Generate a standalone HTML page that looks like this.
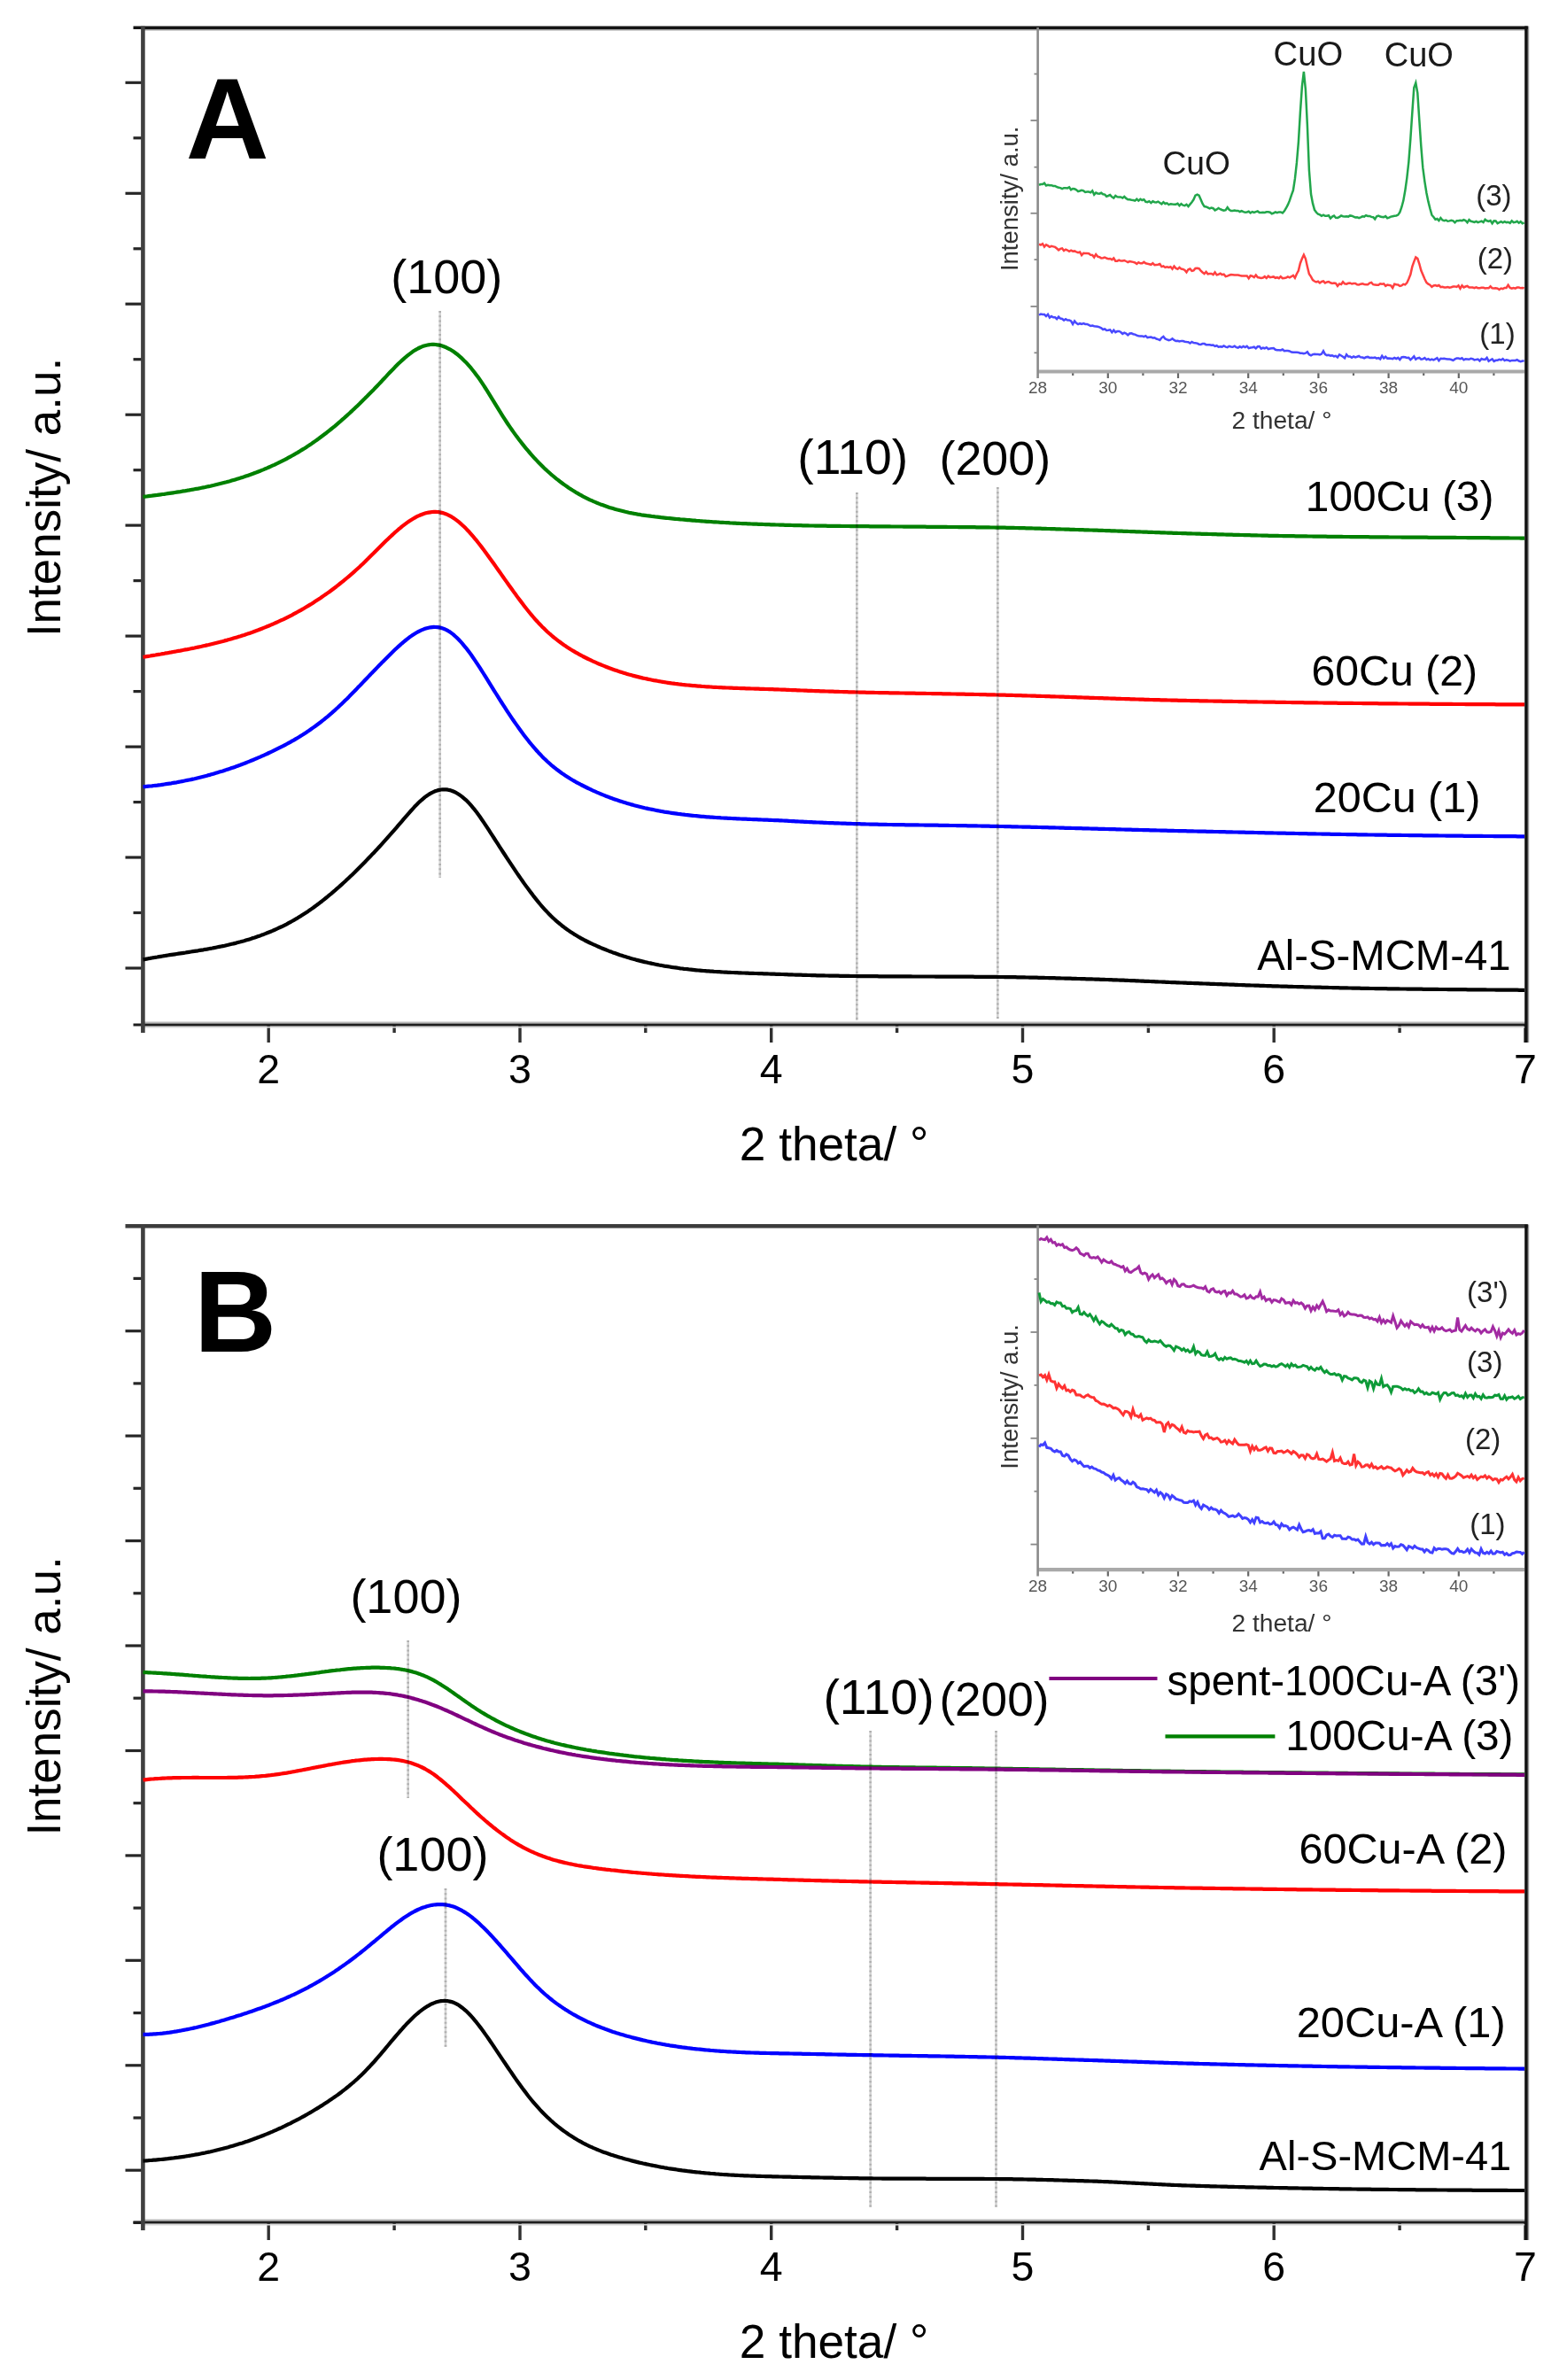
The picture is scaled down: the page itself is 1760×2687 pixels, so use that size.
<!DOCTYPE html>
<html><head><meta charset="utf-8"><title>XRD patterns</title>
<style>
html,body{margin:0;padding:0;background:#fff;width:1760px;height:2687px;overflow:hidden;}
svg{display:block;}
text{font-family:"Liberation Sans", Arial, sans-serif;}
</style></head><body>
<svg width="1760" height="2687" viewBox="0 0 1760 2687">
<defs><filter id="blr" x="-5%" y="-5%" width="110%" height="110%"><feGaussianBlur stdDeviation="0.45"/></filter></defs>
<rect width="1760" height="2687" fill="#fff"/>
<line x1="141.5" y1="93.3" x2="161.4" y2="93.3" stroke="#262626" stroke-width="3.20"/>
<line x1="141.5" y1="218.3" x2="161.4" y2="218.3" stroke="#262626" stroke-width="3.20"/>
<line x1="141.5" y1="343.2" x2="161.4" y2="343.2" stroke="#262626" stroke-width="3.20"/>
<line x1="141.5" y1="468.2" x2="161.4" y2="468.2" stroke="#262626" stroke-width="3.20"/>
<line x1="141.5" y1="593.1" x2="161.4" y2="593.1" stroke="#262626" stroke-width="3.20"/>
<line x1="141.5" y1="718.1" x2="161.4" y2="718.1" stroke="#262626" stroke-width="3.20"/>
<line x1="141.5" y1="843.1" x2="161.4" y2="843.1" stroke="#262626" stroke-width="3.20"/>
<line x1="141.5" y1="968.0" x2="161.4" y2="968.0" stroke="#262626" stroke-width="3.20"/>
<line x1="141.5" y1="1093.0" x2="161.4" y2="1093.0" stroke="#262626" stroke-width="3.20"/>
<line x1="150.5" y1="155.8" x2="161.4" y2="155.8" stroke="#262626" stroke-width="3.20"/>
<line x1="150.5" y1="280.8" x2="161.4" y2="280.8" stroke="#262626" stroke-width="3.20"/>
<line x1="150.5" y1="405.7" x2="161.4" y2="405.7" stroke="#262626" stroke-width="3.20"/>
<line x1="150.5" y1="530.7" x2="161.4" y2="530.7" stroke="#262626" stroke-width="3.20"/>
<line x1="150.5" y1="655.6" x2="161.4" y2="655.6" stroke="#262626" stroke-width="3.20"/>
<line x1="150.5" y1="780.6" x2="161.4" y2="780.6" stroke="#262626" stroke-width="3.20"/>
<line x1="150.5" y1="905.6" x2="161.4" y2="905.6" stroke="#262626" stroke-width="3.20"/>
<line x1="150.5" y1="1030.5" x2="161.4" y2="1030.5" stroke="#262626" stroke-width="3.20"/>
<line x1="303.2" y1="1157.0" x2="303.2" y2="1177.0" stroke="#303030" stroke-width="3.40"/>
<line x1="587.0" y1="1157.0" x2="587.0" y2="1177.0" stroke="#303030" stroke-width="3.40"/>
<line x1="870.7" y1="1157.0" x2="870.7" y2="1177.0" stroke="#303030" stroke-width="3.40"/>
<line x1="1154.5" y1="1157.0" x2="1154.5" y2="1177.0" stroke="#303030" stroke-width="3.40"/>
<line x1="1438.2" y1="1157.0" x2="1438.2" y2="1177.0" stroke="#303030" stroke-width="3.40"/>
<line x1="1722.0" y1="1157.0" x2="1722.0" y2="1177.0" stroke="#303030" stroke-width="3.40"/>
<line x1="161.3" y1="1157.0" x2="161.3" y2="1166.0" stroke="#303030" stroke-width="3.40"/>
<line x1="445.1" y1="1157.0" x2="445.1" y2="1166.0" stroke="#303030" stroke-width="3.40"/>
<line x1="728.8" y1="1157.0" x2="728.8" y2="1166.0" stroke="#303030" stroke-width="3.40"/>
<line x1="1012.6" y1="1157.0" x2="1012.6" y2="1166.0" stroke="#303030" stroke-width="3.40"/>
<line x1="1296.4" y1="1157.0" x2="1296.4" y2="1166.0" stroke="#303030" stroke-width="3.40"/>
<line x1="1580.1" y1="1157.0" x2="1580.1" y2="1166.0" stroke="#303030" stroke-width="3.40"/>
<line x1="161.4" y1="33.7" x2="1723.0" y2="33.7" stroke="#a0a0a0" stroke-width="1.60"/>
<line x1="150.5" y1="31.3" x2="1724.8" y2="31.3" stroke="#141414" stroke-width="3.50"/>
<line x1="161.4" y1="1154.4" x2="1723.0" y2="1154.4" stroke="#b8b8b8" stroke-width="1.60"/>
<line x1="161.4" y1="1159.7" x2="1723.0" y2="1159.7" stroke="#d8d8d8" stroke-width="1.80"/>
<line x1="150.5" y1="1157.0" x2="1723.0" y2="1157.0" stroke="#1e1e1e" stroke-width="3.20"/>
<line x1="1723.0" y1="29.6" x2="1723.0" y2="1177.0" stroke="#111" stroke-width="3.60"/>
<line x1="1725.6" y1="29.6" x2="1725.6" y2="1177.0" stroke="#9a9a9a" stroke-width="1.20"/>
<line x1="161.4" y1="29.6" x2="161.4" y2="1166.0" stroke="#404040" stroke-width="4.60"/>
<text x="303.2" y="1223.3" font-size="46.5" text-anchor="middle" font-weight="normal" fill="#000">2</text>
<text x="587.0" y="1223.3" font-size="46.5" text-anchor="middle" font-weight="normal" fill="#000">3</text>
<text x="870.7" y="1223.3" font-size="46.5" text-anchor="middle" font-weight="normal" fill="#000">4</text>
<text x="1154.5" y="1223.3" font-size="46.5" text-anchor="middle" font-weight="normal" fill="#000">5</text>
<text x="1438.2" y="1223.3" font-size="46.5" text-anchor="middle" font-weight="normal" fill="#000">6</text>
<text x="1722.0" y="1223.3" font-size="46.5" text-anchor="middle" font-weight="normal" fill="#000">7</text>
<polyline fill="none" stroke="#000" stroke-width="4.20" stroke-linejoin="round" stroke-linecap="butt" points="161.5,1083.4 163.5,1083.0 165.5,1082.6 167.5,1082.2 169.5,1081.9 171.5,1081.5 173.5,1081.2 175.5,1080.8 177.5,1080.5 179.5,1080.1 181.5,1079.8 183.5,1079.5 185.5,1079.2 187.5,1078.8 189.5,1078.5 191.5,1078.2 193.5,1077.9 195.5,1077.6 197.5,1077.3 199.5,1077.0 201.5,1076.7 203.5,1076.4 205.5,1076.1 207.5,1075.8 209.5,1075.5 211.5,1075.1 213.6,1074.8 215.6,1074.5 217.6,1074.2 219.6,1073.9 221.6,1073.6 223.6,1073.3 225.6,1072.9 227.6,1072.6 229.6,1072.3 231.6,1071.9 233.6,1071.6 235.6,1071.2 237.6,1070.8 239.6,1070.5 241.6,1070.1 243.6,1069.7 245.6,1069.3 247.6,1068.9 249.6,1068.5 251.6,1068.1 253.6,1067.7 255.6,1067.2 257.6,1066.8 259.6,1066.3 261.6,1065.8 263.6,1065.4 265.6,1064.9 267.6,1064.3 269.6,1063.8 271.6,1063.3 273.6,1062.7 275.6,1062.2 277.6,1061.6 279.6,1061.0 281.6,1060.4 283.6,1059.8 285.6,1059.1 287.6,1058.5 289.6,1057.8 291.6,1057.1 293.6,1056.4 295.6,1055.6 297.6,1054.9 299.6,1054.1 301.6,1053.3 303.6,1052.5 305.6,1051.7 307.6,1050.9 309.6,1050.0 311.6,1049.1 313.6,1048.2 315.6,1047.2 317.7,1046.3 319.7,1045.3 321.7,1044.3 323.7,1043.3 325.7,1042.2 327.7,1041.1 329.7,1040.0 331.7,1038.9 333.7,1037.7 335.7,1036.6 337.7,1035.3 339.7,1034.1 341.7,1032.8 343.7,1031.5 345.7,1030.2 347.7,1028.9 349.7,1027.5 351.7,1026.1 353.7,1024.7 355.7,1023.2 357.7,1021.8 359.7,1020.3 361.7,1018.7 363.7,1017.2 365.7,1015.6 367.7,1014.0 369.7,1012.4 371.7,1010.7 373.7,1009.1 375.7,1007.4 377.7,1005.7 379.7,1003.9 381.7,1002.2 383.7,1000.4 385.7,998.6 387.7,996.8 389.7,995.0 391.7,993.1 393.7,991.2 395.7,989.3 397.7,987.4 399.7,985.5 401.7,983.5 403.7,981.5 405.7,979.5 407.7,977.5 409.7,975.5 411.7,973.5 413.7,971.4 415.7,969.3 417.7,967.2 419.7,965.1 421.8,963.0 423.8,960.8 425.8,958.7 427.8,956.5 429.8,954.3 431.8,952.1 433.8,949.9 435.8,947.7 437.8,945.4 439.8,943.2 441.8,940.9 443.8,938.6 445.8,936.4 447.8,934.1 449.8,931.7 451.8,929.4 453.8,927.1 455.8,924.7 457.8,922.4 459.8,920.1 461.8,917.8 463.8,915.5 465.8,913.3 467.8,911.1 469.8,909.1 471.8,907.0 473.8,905.1 475.8,903.3 477.8,901.6 479.8,899.9 481.8,898.5 483.8,897.1 485.8,895.9 487.8,894.8 489.8,893.9 491.8,893.0 493.8,892.4 495.8,891.9 497.8,891.5 499.8,891.3 501.8,891.3 503.8,891.4 505.8,891.7 507.8,892.1 509.8,892.7 511.8,893.5 513.8,894.4 515.8,895.5 517.8,896.7 519.8,898.1 521.8,899.6 523.8,901.3 525.9,903.1 527.9,905.0 529.9,907.1 531.9,909.4 533.9,911.8 535.9,914.2 537.9,916.8 539.9,919.5 541.9,922.3 543.9,925.2 545.9,928.1 547.9,931.1 549.9,934.1 551.9,937.2 553.9,940.3 555.9,943.4 557.9,946.5 559.9,949.6 561.9,952.7 563.9,955.8 565.9,958.9 567.9,962.0 569.9,965.0 571.9,968.1 573.9,971.2 575.9,974.2 577.9,977.2 579.9,980.2 581.9,983.2 583.9,986.1 585.9,989.0 587.9,991.9 589.9,994.8 591.9,997.6 593.9,1000.4 595.9,1003.1 597.9,1005.8 599.9,1008.4 601.9,1011.1 603.9,1013.6 605.9,1016.1 607.9,1018.6 609.9,1021.0 611.9,1023.3 613.9,1025.6 615.9,1027.8 617.9,1029.9 619.9,1032.0 621.9,1034.0 623.9,1035.9 625.9,1037.8 627.9,1039.6 630.0,1041.4 632.0,1043.0 634.0,1044.7 636.0,1046.2 638.0,1047.8 640.0,1049.2 642.0,1050.6 644.0,1052.0 646.0,1053.3 648.0,1054.6 650.0,1055.8 652.0,1057.0 654.0,1058.2 656.0,1059.3 658.0,1060.4 660.0,1061.5 662.0,1062.5 664.0,1063.5 666.0,1064.5 668.0,1065.4 670.0,1066.3 672.0,1067.2 674.0,1068.1 676.0,1069.0 678.0,1069.9 680.0,1070.7 682.0,1071.5 684.0,1072.3 686.0,1073.1 688.0,1073.9 690.0,1074.6 692.0,1075.4 694.0,1076.1 696.0,1076.8 698.0,1077.5 700.0,1078.2 702.0,1078.8 704.0,1079.5 706.0,1080.1 708.0,1080.7 710.0,1081.3 712.0,1081.9 714.0,1082.5 716.0,1083.0 718.0,1083.6 720.0,1084.1 722.0,1084.6 724.0,1085.1 726.0,1085.6 728.0,1086.1 730.0,1086.5 732.0,1087.0 734.1,1087.4 736.1,1087.9 738.1,1088.3 740.1,1088.7 742.1,1089.1 744.1,1089.5 746.1,1089.8 748.1,1090.2 750.1,1090.6 752.1,1090.9 754.1,1091.2 756.1,1091.5 758.1,1091.9 760.1,1092.2 762.1,1092.4 764.1,1092.7 766.1,1093.0 768.1,1093.3 770.1,1093.5 772.1,1093.8 774.1,1094.0 776.1,1094.2 778.1,1094.5 780.1,1094.7 782.1,1094.9 784.1,1095.1 786.1,1095.3 788.1,1095.5 790.1,1095.6 792.1,1095.8 794.1,1096.0 796.1,1096.1 798.1,1096.3 800.1,1096.4 802.1,1096.6 804.1,1096.7 806.1,1096.9 808.1,1097.0 810.1,1097.1 812.1,1097.2 814.1,1097.3 816.1,1097.5 818.1,1097.6 820.1,1097.7 822.1,1097.8 824.1,1097.9 826.1,1098.0 828.1,1098.0 830.1,1098.1 832.1,1098.2 834.1,1098.3 836.1,1098.4 838.2,1098.5 840.2,1098.5 842.2,1098.6 844.2,1098.7 846.2,1098.8 848.2,1098.8 850.2,1098.9 852.2,1099.0 854.2,1099.0 856.2,1099.1 858.2,1099.2 860.2,1099.2 862.2,1099.3 864.2,1099.4 866.2,1099.4 868.2,1099.5 870.2,1099.6 872.2,1099.6 874.2,1099.7 876.2,1099.8 878.2,1099.8 880.2,1099.9 882.2,1100.0 884.2,1100.0 886.2,1100.1 888.2,1100.2 890.2,1100.3 892.2,1100.3 894.2,1100.4 896.2,1100.5 898.2,1100.6 900.2,1100.6 902.2,1100.7 904.2,1100.7 906.2,1100.8 908.2,1100.9 910.2,1100.9 912.2,1101.0 914.2,1101.0 916.2,1101.1 918.2,1101.1 920.2,1101.2 922.2,1101.3 924.2,1101.3 926.2,1101.3 928.2,1101.4 930.2,1101.4 932.2,1101.5 934.2,1101.5 936.2,1101.6 938.2,1101.6 940.2,1101.6 942.3,1101.7 944.3,1101.7 946.3,1101.7 948.3,1101.8 950.3,1101.8 952.3,1101.8 954.3,1101.9 956.3,1101.9 958.3,1101.9 960.3,1102.0 962.3,1102.0 964.3,1102.0 966.3,1102.0 968.3,1102.1 970.3,1102.1 972.3,1102.1 974.3,1102.1 976.3,1102.1 978.3,1102.2 980.3,1102.2 982.3,1102.2 984.3,1102.2 986.3,1102.2 988.3,1102.2 990.3,1102.2 992.3,1102.3 994.3,1102.3 996.3,1102.3 998.3,1102.3 1000.3,1102.3 1002.3,1102.3 1004.3,1102.3 1006.3,1102.3 1008.3,1102.3 1010.3,1102.4 1012.3,1102.4 1014.3,1102.4 1016.3,1102.4 1018.3,1102.4 1020.3,1102.4 1022.3,1102.4 1024.3,1102.4 1026.3,1102.4 1028.3,1102.4 1030.3,1102.5 1032.3,1102.5 1034.3,1102.5 1036.3,1102.5 1038.3,1102.5 1040.3,1102.5 1042.3,1102.5 1044.3,1102.5 1046.4,1102.5 1048.4,1102.5 1050.4,1102.5 1052.4,1102.5 1054.4,1102.5 1056.4,1102.6 1058.4,1102.6 1060.4,1102.6 1062.4,1102.6 1064.4,1102.6 1066.4,1102.6 1068.4,1102.6 1070.4,1102.6 1072.4,1102.6 1074.4,1102.6 1076.4,1102.6 1078.4,1102.6 1080.4,1102.7 1082.4,1102.7 1084.4,1102.7 1086.4,1102.7 1088.4,1102.7 1090.4,1102.7 1092.4,1102.7 1094.4,1102.7 1096.4,1102.7 1098.4,1102.7 1100.4,1102.8 1102.4,1102.8 1104.4,1102.8 1106.4,1102.8 1108.4,1102.8 1110.4,1102.8 1112.4,1102.8 1114.4,1102.9 1116.4,1102.9 1118.4,1102.9 1120.4,1102.9 1122.4,1102.9 1124.4,1102.9 1126.4,1103.0 1128.4,1103.0 1130.4,1103.0 1132.4,1103.0 1134.4,1103.1 1136.4,1103.1 1138.4,1103.1 1140.4,1103.1 1142.4,1103.2 1144.4,1103.2 1146.4,1103.2 1148.4,1103.3 1150.5,1103.3 1152.5,1103.3 1154.5,1103.4 1156.5,1103.4 1158.5,1103.5 1160.5,1103.5 1162.5,1103.6 1164.5,1103.6 1166.5,1103.6 1168.5,1103.7 1170.5,1103.7 1172.5,1103.8 1174.5,1103.8 1176.5,1103.9 1178.5,1103.9 1180.5,1104.0 1182.5,1104.0 1184.5,1104.1 1186.5,1104.1 1188.5,1104.2 1190.5,1104.2 1192.5,1104.3 1194.5,1104.4 1196.5,1104.4 1198.5,1104.5 1200.5,1104.5 1202.5,1104.6 1204.5,1104.6 1206.5,1104.7 1208.5,1104.7 1210.5,1104.8 1212.5,1104.9 1214.5,1104.9 1216.5,1105.0 1218.5,1105.0 1220.5,1105.1 1222.5,1105.2 1224.5,1105.2 1226.5,1105.3 1228.5,1105.3 1230.5,1105.4 1232.5,1105.4 1234.5,1105.5 1236.5,1105.6 1238.5,1105.6 1240.5,1105.7 1242.5,1105.8 1244.5,1105.8 1246.5,1105.9 1248.5,1106.0 1250.5,1106.0 1252.5,1106.1 1254.6,1106.2 1256.6,1106.3 1258.6,1106.3 1260.6,1106.4 1262.6,1106.5 1264.6,1106.6 1266.6,1106.7 1268.6,1106.7 1270.6,1106.8 1272.6,1106.9 1274.6,1107.0 1276.6,1107.1 1278.6,1107.2 1280.6,1107.2 1282.6,1107.3 1284.6,1107.4 1286.6,1107.5 1288.6,1107.6 1290.6,1107.7 1292.6,1107.8 1294.6,1107.8 1296.6,1107.9 1298.6,1108.0 1300.6,1108.1 1302.6,1108.2 1304.6,1108.3 1306.6,1108.4 1308.6,1108.5 1310.6,1108.5 1312.6,1108.6 1314.6,1108.7 1316.6,1108.8 1318.6,1108.9 1320.6,1109.0 1322.6,1109.1 1324.6,1109.1 1326.6,1109.2 1328.6,1109.3 1330.6,1109.4 1332.6,1109.5 1334.6,1109.5 1336.6,1109.6 1338.6,1109.7 1340.6,1109.8 1342.6,1109.9 1344.6,1109.9 1346.6,1110.0 1348.6,1110.1 1350.6,1110.2 1352.6,1110.2 1354.6,1110.3 1356.6,1110.4 1358.7,1110.5 1360.7,1110.5 1362.7,1110.6 1364.7,1110.7 1366.7,1110.8 1368.7,1110.8 1370.7,1110.9 1372.7,1111.0 1374.7,1111.1 1376.7,1111.1 1378.7,1111.2 1380.7,1111.3 1382.7,1111.4 1384.7,1111.4 1386.7,1111.5 1388.7,1111.6 1390.7,1111.7 1392.7,1111.7 1394.7,1111.8 1396.7,1111.9 1398.7,1112.0 1400.7,1112.0 1402.7,1112.1 1404.7,1112.2 1406.7,1112.3 1408.7,1112.3 1410.7,1112.4 1412.7,1112.5 1414.7,1112.5 1416.7,1112.6 1418.7,1112.7 1420.7,1112.7 1422.7,1112.8 1424.7,1112.9 1426.7,1112.9 1428.7,1113.0 1430.7,1113.1 1432.7,1113.1 1434.7,1113.2 1436.7,1113.3 1438.7,1113.3 1440.7,1113.4 1442.7,1113.4 1444.7,1113.5 1446.7,1113.6 1448.7,1113.6 1450.7,1113.7 1452.7,1113.7 1454.7,1113.8 1456.7,1113.8 1458.7,1113.9 1460.7,1114.0 1462.8,1114.0 1464.8,1114.1 1466.8,1114.1 1468.8,1114.2 1470.8,1114.2 1472.8,1114.3 1474.8,1114.3 1476.8,1114.4 1478.8,1114.4 1480.8,1114.5 1482.8,1114.5 1484.8,1114.6 1486.8,1114.6 1488.8,1114.7 1490.8,1114.7 1492.8,1114.8 1494.8,1114.8 1496.8,1114.9 1498.8,1114.9 1500.8,1115.0 1502.8,1115.0 1504.8,1115.1 1506.8,1115.1 1508.8,1115.2 1510.8,1115.2 1512.8,1115.3 1514.8,1115.3 1516.8,1115.4 1518.8,1115.4 1520.8,1115.4 1522.8,1115.5 1524.8,1115.5 1526.8,1115.6 1528.8,1115.6 1530.8,1115.6 1532.8,1115.7 1534.8,1115.7 1536.8,1115.8 1538.8,1115.8 1540.8,1115.8 1542.8,1115.9 1544.8,1115.9 1546.8,1116.0 1548.8,1116.0 1550.8,1116.0 1552.8,1116.1 1554.8,1116.1 1556.8,1116.1 1558.8,1116.2 1560.8,1116.2 1562.8,1116.2 1564.8,1116.2 1566.9,1116.3 1568.9,1116.3 1570.9,1116.3 1572.9,1116.4 1574.9,1116.4 1576.9,1116.4 1578.9,1116.4 1580.9,1116.5 1582.9,1116.5 1584.9,1116.5 1586.9,1116.5 1588.9,1116.6 1590.9,1116.6 1592.9,1116.6 1594.9,1116.6 1596.9,1116.7 1598.9,1116.7 1600.9,1116.7 1602.9,1116.7 1604.9,1116.7 1606.9,1116.8 1608.9,1116.8 1610.9,1116.8 1612.9,1116.8 1614.9,1116.9 1616.9,1116.9 1618.9,1116.9 1620.9,1116.9 1622.9,1116.9 1624.9,1117.0 1626.9,1117.0 1628.9,1117.0 1630.9,1117.0 1632.9,1117.0 1634.9,1117.1 1636.9,1117.1 1638.9,1117.1 1640.9,1117.1 1642.9,1117.1 1644.9,1117.2 1646.9,1117.2 1648.9,1117.2 1650.9,1117.2 1652.9,1117.2 1654.9,1117.2 1656.9,1117.3 1658.9,1117.3 1660.9,1117.3 1662.9,1117.3 1664.9,1117.3 1666.9,1117.4 1668.9,1117.4 1671.0,1117.4 1673.0,1117.4 1675.0,1117.4 1677.0,1117.4 1679.0,1117.5 1681.0,1117.5 1683.0,1117.5 1685.0,1117.5 1687.0,1117.5 1689.0,1117.6 1691.0,1117.6 1693.0,1117.6 1695.0,1117.6 1697.0,1117.6 1699.0,1117.6 1701.0,1117.6 1703.0,1117.7 1705.0,1117.7 1707.0,1117.7 1709.0,1117.7 1711.0,1117.7 1713.0,1117.7 1715.0,1117.8 1717.0,1117.8 1719.0,1117.8 1721.0,1117.8"/>
<polyline fill="none" stroke="#0000ff" stroke-width="4.20" stroke-linejoin="round" stroke-linecap="butt" points="161.5,888.2 163.5,888.1 165.5,887.9 167.5,887.7 169.5,887.5 171.5,887.3 173.5,887.0 175.5,886.8 177.5,886.6 179.5,886.3 181.5,886.1 183.5,885.8 185.5,885.5 187.5,885.2 189.5,884.9 191.5,884.6 193.5,884.3 195.5,883.9 197.5,883.6 199.5,883.3 201.5,882.9 203.5,882.5 205.5,882.1 207.5,881.7 209.5,881.3 211.5,880.9 213.6,880.5 215.6,880.1 217.6,879.6 219.6,879.2 221.6,878.7 223.6,878.2 225.6,877.7 227.6,877.2 229.6,876.7 231.6,876.2 233.6,875.7 235.6,875.1 237.6,874.6 239.6,874.0 241.6,873.4 243.6,872.8 245.6,872.2 247.6,871.6 249.6,871.0 251.6,870.4 253.6,869.7 255.6,869.1 257.6,868.4 259.6,867.8 261.6,867.1 263.6,866.4 265.6,865.7 267.6,864.9 269.6,864.2 271.6,863.5 273.6,862.7 275.6,862.0 277.6,861.2 279.6,860.4 281.6,859.6 283.6,858.8 285.6,858.0 287.6,857.1 289.6,856.3 291.6,855.4 293.6,854.6 295.6,853.7 297.6,852.8 299.6,851.9 301.6,851.0 303.6,850.0 305.6,849.1 307.6,848.2 309.6,847.2 311.6,846.2 313.6,845.2 315.6,844.2 317.7,843.2 319.7,842.2 321.7,841.1 323.7,840.0 325.7,838.9 327.7,837.8 329.7,836.7 331.7,835.6 333.7,834.4 335.7,833.2 337.7,832.0 339.7,830.7 341.7,829.5 343.7,828.2 345.7,826.9 347.7,825.6 349.7,824.2 351.7,822.8 353.7,821.4 355.7,820.0 357.7,818.5 359.7,817.0 361.7,815.5 363.7,813.9 365.7,812.4 367.7,810.7 369.7,809.1 371.7,807.4 373.7,805.7 375.7,803.9 377.7,802.2 379.7,800.3 381.7,798.5 383.7,796.6 385.7,794.7 387.7,792.8 389.7,790.8 391.7,788.9 393.7,786.9 395.7,784.8 397.7,782.8 399.7,780.8 401.7,778.7 403.7,776.6 405.7,774.6 407.7,772.5 409.7,770.4 411.7,768.3 413.7,766.2 415.7,764.1 417.7,762.0 419.7,759.9 421.8,757.8 423.8,755.7 425.8,753.6 427.8,751.5 429.8,749.5 431.8,747.4 433.8,745.4 435.8,743.4 437.8,741.4 439.8,739.4 441.8,737.4 443.8,735.5 445.8,733.6 447.8,731.7 449.8,729.9 451.8,728.1 453.8,726.3 455.8,724.6 457.8,723.0 459.8,721.4 461.8,719.8 463.8,718.4 465.8,717.0 467.8,715.7 469.8,714.5 471.8,713.4 473.8,712.3 475.8,711.4 477.8,710.6 479.8,709.8 481.8,709.2 483.8,708.7 485.8,708.3 487.8,708.1 489.8,707.9 491.8,708.0 493.8,708.1 495.8,708.4 497.8,708.8 499.8,709.4 501.8,710.2 503.8,711.1 505.8,712.2 507.8,713.4 509.8,714.9 511.8,716.4 513.8,718.2 515.8,720.0 517.8,722.0 519.8,724.2 521.8,726.4 523.8,728.8 525.9,731.3 527.9,733.9 529.9,736.6 531.9,739.3 533.9,742.2 535.9,745.1 537.9,748.1 539.9,751.1 541.9,754.2 543.9,757.3 545.9,760.5 547.9,763.7 549.9,766.9 551.9,770.1 553.9,773.3 555.9,776.6 557.9,779.8 559.9,783.0 561.9,786.2 563.9,789.4 565.9,792.5 567.9,795.6 569.9,798.7 571.9,801.8 573.9,804.8 575.9,807.8 577.9,810.8 579.9,813.7 581.9,816.6 583.9,819.4 585.9,822.2 587.9,825.0 589.9,827.7 591.9,830.4 593.9,833.0 595.9,835.5 597.9,838.1 599.9,840.5 601.9,842.9 603.9,845.2 605.9,847.5 607.9,849.7 609.9,851.8 611.9,853.9 613.9,855.9 615.9,857.8 617.9,859.7 619.9,861.5 621.9,863.3 623.9,865.0 625.9,866.6 627.9,868.2 630.0,869.7 632.0,871.2 634.0,872.7 636.0,874.1 638.0,875.4 640.0,876.7 642.0,878.0 644.0,879.3 646.0,880.5 648.0,881.6 650.0,882.8 652.0,883.9 654.0,884.9 656.0,886.0 658.0,887.0 660.0,888.0 662.0,889.0 664.0,890.0 666.0,890.9 668.0,891.9 670.0,892.8 672.0,893.7 674.0,894.6 676.0,895.4 678.0,896.3 680.0,897.1 682.0,897.9 684.0,898.7 686.0,899.4 688.0,900.2 690.0,900.9 692.0,901.7 694.0,902.4 696.0,903.1 698.0,903.7 700.0,904.4 702.0,905.1 704.0,905.7 706.0,906.3 708.0,906.9 710.0,907.5 712.0,908.1 714.0,908.6 716.0,909.2 718.0,909.7 720.0,910.2 722.0,910.7 724.0,911.2 726.0,911.7 728.0,912.2 730.0,912.6 732.0,913.1 734.1,913.5 736.1,913.9 738.1,914.3 740.1,914.7 742.1,915.1 744.1,915.5 746.1,915.9 748.1,916.2 750.1,916.6 752.1,916.9 754.1,917.2 756.1,917.5 758.1,917.8 760.1,918.1 762.1,918.4 764.1,918.7 766.1,919.0 768.1,919.2 770.1,919.5 772.1,919.7 774.1,920.0 776.1,920.2 778.1,920.4 780.1,920.6 782.1,920.8 784.1,921.0 786.1,921.2 788.1,921.4 790.1,921.6 792.1,921.8 794.1,921.9 796.1,922.1 798.1,922.3 800.1,922.4 802.1,922.6 804.1,922.7 806.1,922.8 808.1,923.0 810.1,923.1 812.1,923.2 814.1,923.4 816.1,923.5 818.1,923.6 820.1,923.7 822.1,923.8 824.1,923.9 826.1,924.0 828.1,924.1 830.1,924.2 832.1,924.3 834.1,924.4 836.1,924.5 838.2,924.6 840.2,924.7 842.2,924.7 844.2,924.8 846.2,924.9 848.2,925.0 850.2,925.1 852.2,925.2 854.2,925.2 856.2,925.3 858.2,925.4 860.2,925.5 862.2,925.6 864.2,925.7 866.2,925.7 868.2,925.8 870.2,925.9 872.2,926.0 874.2,926.1 876.2,926.1 878.2,926.2 880.2,926.3 882.2,926.4 884.2,926.5 886.2,926.6 888.2,926.7 890.2,926.8 892.2,927.0 894.2,927.1 896.2,927.2 898.2,927.3 900.2,927.4 902.2,927.5 904.2,927.6 906.2,927.7 908.2,927.8 910.2,927.9 912.2,928.0 914.2,928.1 916.2,928.2 918.2,928.3 920.2,928.4 922.2,928.5 924.2,928.5 926.2,928.6 928.2,928.7 930.2,928.8 932.2,928.9 934.2,929.0 936.2,929.1 938.2,929.1 940.2,929.2 942.3,929.3 944.3,929.4 946.3,929.4 948.3,929.5 950.3,929.6 952.3,929.7 954.3,929.7 956.3,929.8 958.3,929.9 960.3,929.9 962.3,930.0 964.3,930.1 966.3,930.1 968.3,930.2 970.3,930.2 972.3,930.3 974.3,930.4 976.3,930.4 978.3,930.5 980.3,930.5 982.3,930.6 984.3,930.6 986.3,930.7 988.3,930.7 990.3,930.7 992.3,930.8 994.3,930.8 996.3,930.9 998.3,930.9 1000.3,930.9 1002.3,931.0 1004.3,931.0 1006.3,931.0 1008.3,931.1 1010.3,931.1 1012.3,931.1 1014.3,931.1 1016.3,931.2 1018.3,931.2 1020.3,931.2 1022.3,931.3 1024.3,931.3 1026.3,931.3 1028.3,931.3 1030.3,931.4 1032.3,931.4 1034.3,931.4 1036.3,931.4 1038.3,931.5 1040.3,931.5 1042.3,931.5 1044.3,931.6 1046.4,931.6 1048.4,931.6 1050.4,931.6 1052.4,931.7 1054.4,931.7 1056.4,931.7 1058.4,931.7 1060.4,931.8 1062.4,931.8 1064.4,931.8 1066.4,931.9 1068.4,931.9 1070.4,931.9 1072.4,932.0 1074.4,932.0 1076.4,932.0 1078.4,932.0 1080.4,932.1 1082.4,932.1 1084.4,932.1 1086.4,932.2 1088.4,932.2 1090.4,932.2 1092.4,932.3 1094.4,932.3 1096.4,932.3 1098.4,932.4 1100.4,932.4 1102.4,932.4 1104.4,932.5 1106.4,932.5 1108.4,932.6 1110.4,932.6 1112.4,932.6 1114.4,932.7 1116.4,932.7 1118.4,932.8 1120.4,932.8 1122.4,932.8 1124.4,932.9 1126.4,932.9 1128.4,933.0 1130.4,933.0 1132.4,933.0 1134.4,933.1 1136.4,933.1 1138.4,933.2 1140.4,933.2 1142.4,933.3 1144.4,933.3 1146.4,933.4 1148.4,933.4 1150.5,933.5 1152.5,933.5 1154.5,933.6 1156.5,933.6 1158.5,933.6 1160.5,933.7 1162.5,933.7 1164.5,933.8 1166.5,933.8 1168.5,933.9 1170.5,933.9 1172.5,934.0 1174.5,934.0 1176.5,934.1 1178.5,934.1 1180.5,934.2 1182.5,934.2 1184.5,934.3 1186.5,934.3 1188.5,934.4 1190.5,934.4 1192.5,934.5 1194.5,934.5 1196.5,934.6 1198.5,934.7 1200.5,934.7 1202.5,934.8 1204.5,934.8 1206.5,934.9 1208.5,934.9 1210.5,935.0 1212.5,935.0 1214.5,935.1 1216.5,935.1 1218.5,935.2 1220.5,935.2 1222.5,935.3 1224.5,935.3 1226.5,935.4 1228.5,935.4 1230.5,935.5 1232.5,935.6 1234.5,935.6 1236.5,935.7 1238.5,935.7 1240.5,935.8 1242.5,935.8 1244.5,935.9 1246.5,935.9 1248.5,936.0 1250.5,936.0 1252.5,936.1 1254.6,936.1 1256.6,936.2 1258.6,936.2 1260.6,936.3 1262.6,936.4 1264.6,936.4 1266.6,936.5 1268.6,936.5 1270.6,936.6 1272.6,936.6 1274.6,936.7 1276.6,936.7 1278.6,936.8 1280.6,936.8 1282.6,936.9 1284.6,936.9 1286.6,937.0 1288.6,937.0 1290.6,937.1 1292.6,937.1 1294.6,937.2 1296.6,937.2 1298.6,937.3 1300.6,937.3 1302.6,937.4 1304.6,937.4 1306.6,937.5 1308.6,937.5 1310.6,937.6 1312.6,937.6 1314.6,937.7 1316.6,937.7 1318.6,937.8 1320.6,937.8 1322.6,937.9 1324.6,937.9 1326.6,938.0 1328.6,938.0 1330.6,938.1 1332.6,938.1 1334.6,938.2 1336.6,938.2 1338.6,938.2 1340.6,938.3 1342.6,938.3 1344.6,938.4 1346.6,938.4 1348.6,938.5 1350.6,938.5 1352.6,938.6 1354.6,938.6 1356.6,938.6 1358.7,938.7 1360.7,938.7 1362.7,938.8 1364.7,938.8 1366.7,938.9 1368.7,938.9 1370.7,939.0 1372.7,939.0 1374.7,939.0 1376.7,939.1 1378.7,939.1 1380.7,939.2 1382.7,939.2 1384.7,939.3 1386.7,939.3 1388.7,939.4 1390.7,939.4 1392.7,939.5 1394.7,939.5 1396.7,939.5 1398.7,939.6 1400.7,939.6 1402.7,939.7 1404.7,939.7 1406.7,939.8 1408.7,939.8 1410.7,939.9 1412.7,939.9 1414.7,939.9 1416.7,940.0 1418.7,940.0 1420.7,940.1 1422.7,940.1 1424.7,940.2 1426.7,940.2 1428.7,940.3 1430.7,940.3 1432.7,940.3 1434.7,940.4 1436.7,940.4 1438.7,940.5 1440.7,940.5 1442.7,940.6 1444.7,940.6 1446.7,940.6 1448.7,940.7 1450.7,940.7 1452.7,940.8 1454.7,940.8 1456.7,940.9 1458.7,940.9 1460.7,940.9 1462.8,941.0 1464.8,941.0 1466.8,941.1 1468.8,941.1 1470.8,941.1 1472.8,941.2 1474.8,941.2 1476.8,941.3 1478.8,941.3 1480.8,941.3 1482.8,941.4 1484.8,941.4 1486.8,941.5 1488.8,941.5 1490.8,941.5 1492.8,941.6 1494.8,941.6 1496.8,941.6 1498.8,941.7 1500.8,941.7 1502.8,941.8 1504.8,941.8 1506.8,941.8 1508.8,941.9 1510.8,941.9 1512.8,941.9 1514.8,942.0 1516.8,942.0 1518.8,942.0 1520.8,942.1 1522.8,942.1 1524.8,942.1 1526.8,942.2 1528.8,942.2 1530.8,942.2 1532.8,942.3 1534.8,942.3 1536.8,942.3 1538.8,942.4 1540.8,942.4 1542.8,942.4 1544.8,942.5 1546.8,942.5 1548.8,942.5 1550.8,942.5 1552.8,942.6 1554.8,942.6 1556.8,942.6 1558.8,942.7 1560.8,942.7 1562.8,942.7 1564.8,942.7 1566.9,942.8 1568.9,942.8 1570.9,942.8 1572.9,942.8 1574.9,942.9 1576.9,942.9 1578.9,942.9 1580.9,942.9 1582.9,943.0 1584.9,943.0 1586.9,943.0 1588.9,943.0 1590.9,943.1 1592.9,943.1 1594.9,943.1 1596.9,943.1 1598.9,943.2 1600.9,943.2 1602.9,943.2 1604.9,943.2 1606.9,943.3 1608.9,943.3 1610.9,943.3 1612.9,943.3 1614.9,943.4 1616.9,943.4 1618.9,943.4 1620.9,943.4 1622.9,943.4 1624.9,943.5 1626.9,943.5 1628.9,943.5 1630.9,943.5 1632.9,943.6 1634.9,943.6 1636.9,943.6 1638.9,943.6 1640.9,943.6 1642.9,943.7 1644.9,943.7 1646.9,943.7 1648.9,943.7 1650.9,943.7 1652.9,943.8 1654.9,943.8 1656.9,943.8 1658.9,943.8 1660.9,943.8 1662.9,943.9 1664.9,943.9 1666.9,943.9 1668.9,943.9 1671.0,943.9 1673.0,943.9 1675.0,944.0 1677.0,944.0 1679.0,944.0 1681.0,944.0 1683.0,944.0 1685.0,944.0 1687.0,944.1 1689.0,944.1 1691.0,944.1 1693.0,944.1 1695.0,944.1 1697.0,944.1 1699.0,944.2 1701.0,944.2 1703.0,944.2 1705.0,944.2 1707.0,944.2 1709.0,944.2 1711.0,944.2 1713.0,944.3 1715.0,944.3 1717.0,944.3 1719.0,944.3 1721.0,944.3"/>
<polyline fill="none" stroke="#ff0000" stroke-width="4.20" stroke-linejoin="round" stroke-linecap="butt" points="161.5,741.8 163.5,741.5 165.5,741.1 167.5,740.8 169.5,740.5 171.5,740.1 173.5,739.8 175.5,739.5 177.5,739.1 179.5,738.8 181.5,738.5 183.5,738.1 185.5,737.8 187.5,737.4 189.5,737.1 191.5,736.7 193.5,736.4 195.5,736.0 197.5,735.7 199.5,735.3 201.5,734.9 203.5,734.6 205.5,734.2 207.5,733.8 209.5,733.4 211.5,733.1 213.6,732.7 215.6,732.3 217.6,731.9 219.6,731.5 221.6,731.0 223.6,730.6 225.6,730.2 227.6,729.8 229.6,729.3 231.6,728.9 233.6,728.4 235.6,728.0 237.6,727.5 239.6,727.0 241.6,726.5 243.6,726.0 245.6,725.5 247.6,725.0 249.6,724.5 251.6,724.0 253.6,723.4 255.6,722.9 257.6,722.3 259.6,721.8 261.6,721.2 263.6,720.6 265.6,720.0 267.6,719.4 269.6,718.8 271.6,718.2 273.6,717.5 275.6,716.9 277.6,716.2 279.6,715.6 281.6,714.9 283.6,714.2 285.6,713.5 287.6,712.7 289.6,712.0 291.6,711.3 293.6,710.5 295.6,709.7 297.6,708.9 299.6,708.1 301.6,707.3 303.6,706.5 305.6,705.6 307.6,704.8 309.6,703.9 311.6,703.0 313.6,702.1 315.6,701.2 317.7,700.2 319.7,699.3 321.7,698.3 323.7,697.3 325.7,696.3 327.7,695.3 329.7,694.3 331.7,693.2 333.7,692.1 335.7,691.0 337.7,689.9 339.7,688.8 341.7,687.7 343.7,686.5 345.7,685.3 347.7,684.1 349.7,682.9 351.7,681.7 353.7,680.4 355.7,679.1 357.7,677.8 359.7,676.5 361.7,675.2 363.7,673.8 365.7,672.4 367.7,671.0 369.7,669.6 371.7,668.2 373.7,666.7 375.7,665.2 377.7,663.7 379.7,662.2 381.7,660.6 383.7,659.0 385.7,657.4 387.7,655.8 389.7,654.2 391.7,652.5 393.7,650.8 395.7,649.1 397.7,647.4 399.7,645.6 401.7,643.8 403.7,642.0 405.7,640.2 407.7,638.3 409.7,636.4 411.7,634.5 413.7,632.5 415.7,630.6 417.7,628.6 419.7,626.6 421.8,624.6 423.8,622.6 425.8,620.6 427.8,618.6 429.8,616.6 431.8,614.6 433.8,612.6 435.8,610.6 437.8,608.7 439.8,606.8 441.8,604.9 443.8,603.1 445.8,601.2 447.8,599.5 449.8,597.7 451.8,596.1 453.8,594.4 455.8,592.9 457.8,591.4 459.8,589.9 461.8,588.5 463.8,587.2 465.8,586.0 467.8,584.8 469.8,583.7 471.8,582.7 473.8,581.8 475.8,581.0 477.8,580.2 479.8,579.6 481.8,579.0 483.8,578.6 485.8,578.3 487.8,578.0 489.8,577.9 491.8,577.9 493.8,578.0 495.8,578.2 497.8,578.6 499.8,579.1 501.8,579.7 503.8,580.4 505.8,581.3 507.8,582.3 509.8,583.4 511.8,584.7 513.8,586.1 515.8,587.6 517.8,589.2 519.8,590.9 521.8,592.7 523.8,594.6 525.9,596.6 527.9,598.7 529.9,600.8 531.9,603.1 533.9,605.4 535.9,607.8 537.9,610.2 539.9,612.7 541.9,615.3 543.9,617.9 545.9,620.5 547.9,623.2 549.9,625.9 551.9,628.7 553.9,631.4 555.9,634.2 557.9,637.0 559.9,639.9 561.9,642.7 563.9,645.5 565.9,648.4 567.9,651.2 569.9,654.1 571.9,656.9 573.9,659.7 575.9,662.5 577.9,665.3 579.9,668.1 581.9,670.8 583.9,673.6 585.9,676.3 587.9,678.9 589.9,681.6 591.9,684.2 593.9,686.7 595.9,689.2 597.9,691.7 599.9,694.1 601.9,696.5 603.9,698.8 605.9,701.0 607.9,703.2 609.9,705.3 611.9,707.4 613.9,709.3 615.9,711.3 617.9,713.2 619.9,715.0 621.9,716.7 623.9,718.5 625.9,720.1 627.9,721.7 630.0,723.3 632.0,724.8 634.0,726.3 636.0,727.7 638.0,729.1 640.0,730.4 642.0,731.7 644.0,733.0 646.0,734.2 648.0,735.4 650.0,736.6 652.0,737.7 654.0,738.8 656.0,739.9 658.0,741.0 660.0,742.0 662.0,743.0 664.0,744.0 666.0,744.9 668.0,745.9 670.0,746.8 672.0,747.7 674.0,748.6 676.0,749.5 678.0,750.3 680.0,751.1 682.0,751.9 684.0,752.7 686.0,753.5 688.0,754.3 690.0,755.0 692.0,755.7 694.0,756.4 696.0,757.1 698.0,757.8 700.0,758.4 702.0,759.1 704.0,759.7 706.0,760.3 708.0,760.9 710.0,761.5 712.0,762.0 714.0,762.6 716.0,763.1 718.0,763.6 720.0,764.1 722.0,764.6 724.0,765.1 726.0,765.6 728.0,766.0 730.0,766.4 732.0,766.9 734.1,767.3 736.1,767.7 738.1,768.1 740.1,768.4 742.1,768.8 744.1,769.2 746.1,769.5 748.1,769.8 750.1,770.2 752.1,770.5 754.1,770.8 756.1,771.1 758.1,771.4 760.1,771.6 762.1,771.9 764.1,772.1 766.1,772.4 768.1,772.6 770.1,772.9 772.1,773.1 774.1,773.3 776.1,773.5 778.1,773.7 780.1,773.9 782.1,774.1 784.1,774.2 786.1,774.4 788.1,774.6 790.1,774.7 792.1,774.9 794.1,775.0 796.1,775.2 798.1,775.3 800.1,775.4 802.1,775.5 804.1,775.7 806.1,775.8 808.1,775.9 810.1,776.0 812.1,776.1 814.1,776.2 816.1,776.3 818.1,776.4 820.1,776.5 822.1,776.5 824.1,776.6 826.1,776.7 828.1,776.8 830.1,776.8 832.1,776.9 834.1,777.0 836.1,777.1 838.2,777.1 840.2,777.2 842.2,777.3 844.2,777.3 846.2,777.4 848.2,777.5 850.2,777.5 852.2,777.6 854.2,777.6 856.2,777.7 858.2,777.8 860.2,777.8 862.2,777.9 864.2,778.0 866.2,778.0 868.2,778.1 870.2,778.2 872.2,778.2 874.2,778.3 876.2,778.3 878.2,778.4 880.2,778.5 882.2,778.6 884.2,778.6 886.2,778.7 888.2,778.8 890.2,778.9 892.2,779.0 894.2,779.1 896.2,779.1 898.2,779.2 900.2,779.3 902.2,779.4 904.2,779.5 906.2,779.5 908.2,779.6 910.2,779.7 912.2,779.8 914.2,779.8 916.2,779.9 918.2,780.0 920.2,780.1 922.2,780.1 924.2,780.2 926.2,780.3 928.2,780.3 930.2,780.4 932.2,780.5 934.2,780.5 936.2,780.6 938.2,780.7 940.2,780.7 942.3,780.8 944.3,780.9 946.3,780.9 948.3,781.0 950.3,781.0 952.3,781.1 954.3,781.2 956.3,781.2 958.3,781.3 960.3,781.3 962.3,781.4 964.3,781.4 966.3,781.5 968.3,781.5 970.3,781.6 972.3,781.6 974.3,781.7 976.3,781.7 978.3,781.8 980.3,781.8 982.3,781.9 984.3,781.9 986.3,781.9 988.3,782.0 990.3,782.0 992.3,782.1 994.3,782.1 996.3,782.1 998.3,782.2 1000.3,782.2 1002.3,782.2 1004.3,782.3 1006.3,782.3 1008.3,782.3 1010.3,782.4 1012.3,782.4 1014.3,782.4 1016.3,782.5 1018.3,782.5 1020.3,782.5 1022.3,782.6 1024.3,782.6 1026.3,782.6 1028.3,782.7 1030.3,782.7 1032.3,782.7 1034.3,782.8 1036.3,782.8 1038.3,782.8 1040.3,782.9 1042.3,782.9 1044.3,782.9 1046.4,783.0 1048.4,783.0 1050.4,783.0 1052.4,783.1 1054.4,783.1 1056.4,783.1 1058.4,783.2 1060.4,783.2 1062.4,783.2 1064.4,783.3 1066.4,783.3 1068.4,783.3 1070.4,783.4 1072.4,783.4 1074.4,783.5 1076.4,783.5 1078.4,783.5 1080.4,783.6 1082.4,783.6 1084.4,783.6 1086.4,783.7 1088.4,783.7 1090.4,783.8 1092.4,783.8 1094.4,783.8 1096.4,783.9 1098.4,783.9 1100.4,784.0 1102.4,784.0 1104.4,784.0 1106.4,784.1 1108.4,784.1 1110.4,784.2 1112.4,784.2 1114.4,784.3 1116.4,784.3 1118.4,784.3 1120.4,784.4 1122.4,784.4 1124.4,784.5 1126.4,784.5 1128.4,784.6 1130.4,784.6 1132.4,784.7 1134.4,784.7 1136.4,784.8 1138.4,784.8 1140.4,784.9 1142.4,784.9 1144.4,785.0 1146.4,785.1 1148.4,785.1 1150.5,785.2 1152.5,785.2 1154.5,785.3 1156.5,785.3 1158.5,785.4 1160.5,785.5 1162.5,785.5 1164.5,785.6 1166.5,785.6 1168.5,785.7 1170.5,785.8 1172.5,785.8 1174.5,785.9 1176.5,786.0 1178.5,786.0 1180.5,786.1 1182.5,786.1 1184.5,786.2 1186.5,786.3 1188.5,786.3 1190.5,786.4 1192.5,786.5 1194.5,786.5 1196.5,786.6 1198.5,786.7 1200.5,786.7 1202.5,786.8 1204.5,786.9 1206.5,786.9 1208.5,787.0 1210.5,787.1 1212.5,787.2 1214.5,787.2 1216.5,787.3 1218.5,787.4 1220.5,787.4 1222.5,787.5 1224.5,787.6 1226.5,787.6 1228.5,787.7 1230.5,787.8 1232.5,787.8 1234.5,787.9 1236.5,788.0 1238.5,788.0 1240.5,788.1 1242.5,788.2 1244.5,788.2 1246.5,788.3 1248.5,788.4 1250.5,788.4 1252.5,788.5 1254.6,788.6 1256.6,788.6 1258.6,788.7 1260.6,788.8 1262.6,788.8 1264.6,788.9 1266.6,789.0 1268.6,789.0 1270.6,789.1 1272.6,789.2 1274.6,789.2 1276.6,789.3 1278.6,789.4 1280.6,789.4 1282.6,789.5 1284.6,789.5 1286.6,789.6 1288.6,789.7 1290.6,789.7 1292.6,789.8 1294.6,789.8 1296.6,789.9 1298.6,790.0 1300.6,790.0 1302.6,790.1 1304.6,790.1 1306.6,790.2 1308.6,790.2 1310.6,790.3 1312.6,790.3 1314.6,790.4 1316.6,790.4 1318.6,790.5 1320.6,790.5 1322.6,790.6 1324.6,790.6 1326.6,790.7 1328.6,790.7 1330.6,790.8 1332.6,790.8 1334.6,790.9 1336.6,790.9 1338.6,790.9 1340.6,791.0 1342.6,791.0 1344.6,791.1 1346.6,791.1 1348.6,791.1 1350.6,791.2 1352.6,791.2 1354.6,791.3 1356.6,791.3 1358.7,791.3 1360.7,791.4 1362.7,791.4 1364.7,791.5 1366.7,791.5 1368.7,791.5 1370.7,791.6 1372.7,791.6 1374.7,791.6 1376.7,791.7 1378.7,791.7 1380.7,791.8 1382.7,791.8 1384.7,791.8 1386.7,791.9 1388.7,791.9 1390.7,791.9 1392.7,792.0 1394.7,792.0 1396.7,792.0 1398.7,792.1 1400.7,792.1 1402.7,792.1 1404.7,792.2 1406.7,792.2 1408.7,792.3 1410.7,792.3 1412.7,792.3 1414.7,792.4 1416.7,792.4 1418.7,792.4 1420.7,792.5 1422.7,792.5 1424.7,792.5 1426.7,792.6 1428.7,792.6 1430.7,792.6 1432.7,792.6 1434.7,792.7 1436.7,792.7 1438.7,792.7 1440.7,792.8 1442.7,792.8 1444.7,792.8 1446.7,792.9 1448.7,792.9 1450.7,792.9 1452.7,793.0 1454.7,793.0 1456.7,793.0 1458.7,793.1 1460.7,793.1 1462.8,793.1 1464.8,793.1 1466.8,793.2 1468.8,793.2 1470.8,793.2 1472.8,793.3 1474.8,793.3 1476.8,793.3 1478.8,793.3 1480.8,793.4 1482.8,793.4 1484.8,793.4 1486.8,793.4 1488.8,793.5 1490.8,793.5 1492.8,793.5 1494.8,793.6 1496.8,793.6 1498.8,793.6 1500.8,793.6 1502.8,793.7 1504.8,793.7 1506.8,793.7 1508.8,793.7 1510.8,793.8 1512.8,793.8 1514.8,793.8 1516.8,793.8 1518.8,793.8 1520.8,793.9 1522.8,793.9 1524.8,793.9 1526.8,793.9 1528.8,794.0 1530.8,794.0 1532.8,794.0 1534.8,794.0 1536.8,794.0 1538.8,794.1 1540.8,794.1 1542.8,794.1 1544.8,794.1 1546.8,794.2 1548.8,794.2 1550.8,794.2 1552.8,794.2 1554.8,794.2 1556.8,794.3 1558.8,794.3 1560.8,794.3 1562.8,794.3 1564.8,794.3 1566.9,794.3 1568.9,794.4 1570.9,794.4 1572.9,794.4 1574.9,794.4 1576.9,794.4 1578.9,794.5 1580.9,794.5 1582.9,794.5 1584.9,794.5 1586.9,794.5 1588.9,794.5 1590.9,794.6 1592.9,794.6 1594.9,794.6 1596.9,794.6 1598.9,794.6 1600.9,794.6 1602.9,794.7 1604.9,794.7 1606.9,794.7 1608.9,794.7 1610.9,794.7 1612.9,794.7 1614.9,794.8 1616.9,794.8 1618.9,794.8 1620.9,794.8 1622.9,794.8 1624.9,794.8 1626.9,794.9 1628.9,794.9 1630.9,794.9 1632.9,794.9 1634.9,794.9 1636.9,794.9 1638.9,794.9 1640.9,795.0 1642.9,795.0 1644.9,795.0 1646.9,795.0 1648.9,795.0 1650.9,795.0 1652.9,795.0 1654.9,795.1 1656.9,795.1 1658.9,795.1 1660.9,795.1 1662.9,795.1 1664.9,795.1 1666.9,795.1 1668.9,795.1 1671.0,795.2 1673.0,795.2 1675.0,795.2 1677.0,795.2 1679.0,795.2 1681.0,795.2 1683.0,795.2 1685.0,795.2 1687.0,795.2 1689.0,795.3 1691.0,795.3 1693.0,795.3 1695.0,795.3 1697.0,795.3 1699.0,795.3 1701.0,795.3 1703.0,795.3 1705.0,795.3 1707.0,795.3 1709.0,795.4 1711.0,795.4 1713.0,795.4 1715.0,795.4 1717.0,795.4 1719.0,795.4 1721.0,795.4"/>
<polyline fill="none" stroke="#008000" stroke-width="4.20" stroke-linejoin="round" stroke-linecap="butt" points="161.5,561.0 163.5,560.7 165.5,560.5 167.5,560.2 169.5,559.9 171.5,559.7 173.5,559.4 175.5,559.1 177.5,558.9 179.5,558.6 181.5,558.3 183.5,558.0 185.5,557.8 187.5,557.5 189.5,557.2 191.5,556.9 193.5,556.6 195.5,556.3 197.5,556.0 199.5,555.7 201.5,555.4 203.5,555.1 205.5,554.7 207.5,554.4 209.5,554.1 211.5,553.7 213.6,553.4 215.6,553.0 217.6,552.7 219.6,552.3 221.6,551.9 223.6,551.6 225.6,551.2 227.6,550.8 229.6,550.4 231.6,550.0 233.6,549.5 235.6,549.1 237.6,548.7 239.6,548.2 241.6,547.8 243.6,547.3 245.6,546.8 247.6,546.3 249.6,545.8 251.6,545.3 253.6,544.8 255.6,544.3 257.6,543.7 259.6,543.2 261.6,542.6 263.6,542.0 265.6,541.4 267.6,540.8 269.6,540.2 271.6,539.6 273.6,538.9 275.6,538.3 277.6,537.6 279.6,536.9 281.6,536.2 283.6,535.5 285.6,534.8 287.6,534.0 289.6,533.3 291.6,532.5 293.6,531.7 295.6,530.9 297.6,530.1 299.6,529.2 301.6,528.4 303.6,527.5 305.6,526.6 307.6,525.7 309.6,524.8 311.6,523.8 313.6,522.9 315.6,521.9 317.7,520.9 319.7,519.9 321.7,518.9 323.7,517.8 325.7,516.7 327.7,515.6 329.7,514.5 331.7,513.4 333.7,512.2 335.7,511.1 337.7,509.9 339.7,508.6 341.7,507.4 343.7,506.2 345.7,504.9 347.7,503.6 349.7,502.2 351.7,500.9 353.7,499.5 355.7,498.1 357.7,496.7 359.7,495.3 361.7,493.8 363.7,492.3 365.7,490.8 367.7,489.3 369.7,487.7 371.7,486.1 373.7,484.5 375.7,482.9 377.7,481.3 379.7,479.6 381.7,477.9 383.7,476.2 385.7,474.4 387.7,472.7 389.7,470.9 391.7,469.1 393.7,467.3 395.7,465.4 397.7,463.6 399.7,461.7 401.7,459.8 403.7,457.9 405.7,456.0 407.7,454.0 409.7,452.0 411.7,450.1 413.7,448.1 415.7,446.0 417.7,444.0 419.7,442.0 421.8,439.9 423.8,437.8 425.8,435.7 427.8,433.6 429.8,431.5 431.8,429.3 433.8,427.2 435.8,425.1 437.8,422.9 439.8,420.8 441.8,418.7 443.8,416.7 445.8,414.6 447.8,412.6 449.8,410.6 451.8,408.7 453.8,406.9 455.8,405.1 457.8,403.3 459.8,401.7 461.8,400.1 463.8,398.6 465.8,397.1 467.8,395.8 469.8,394.6 471.8,393.5 473.8,392.5 475.8,391.6 477.8,390.8 479.8,390.2 481.8,389.7 483.8,389.3 485.8,389.0 487.8,388.9 489.8,388.9 491.8,389.0 493.8,389.3 495.8,389.6 497.8,390.1 499.8,390.7 501.8,391.5 503.8,392.3 505.8,393.3 507.8,394.3 509.8,395.5 511.8,396.8 513.8,398.2 515.8,399.7 517.8,401.4 519.8,403.1 521.8,404.9 523.8,406.9 525.9,408.9 527.9,411.1 529.9,413.4 531.9,415.7 533.9,418.2 535.9,420.7 537.9,423.4 539.9,426.1 541.9,428.9 543.9,431.9 545.9,434.9 547.9,438.0 549.9,441.1 551.9,444.3 553.9,447.6 555.9,450.8 557.9,454.1 559.9,457.4 561.9,460.7 563.9,463.9 565.9,467.1 567.9,470.3 569.9,473.4 571.9,476.5 573.9,479.5 575.9,482.4 577.9,485.3 579.9,488.1 581.9,490.9 583.9,493.6 585.9,496.2 587.9,498.8 589.9,501.4 591.9,503.9 593.9,506.3 595.9,508.7 597.9,511.0 599.9,513.3 601.9,515.6 603.9,517.8 605.9,519.9 607.9,522.0 609.9,524.0 611.9,526.0 613.9,528.0 615.9,529.9 617.9,531.7 619.9,533.5 621.9,535.3 623.9,537.0 625.9,538.7 627.9,540.3 630.0,541.9 632.0,543.5 634.0,545.0 636.0,546.5 638.0,547.9 640.0,549.3 642.0,550.7 644.0,552.0 646.0,553.3 648.0,554.5 650.0,555.8 652.0,556.9 654.0,558.1 656.0,559.2 658.0,560.3 660.0,561.3 662.0,562.3 664.0,563.3 666.0,564.3 668.0,565.2 670.0,566.1 672.0,566.9 674.0,567.8 676.0,568.6 678.0,569.4 680.0,570.1 682.0,570.8 684.0,571.5 686.0,572.2 688.0,572.9 690.0,573.5 692.0,574.1 694.0,574.7 696.0,575.3 698.0,575.8 700.0,576.3 702.0,576.8 704.0,577.3 706.0,577.8 708.0,578.2 710.0,578.7 712.0,579.1 714.0,579.5 716.0,579.9 718.0,580.2 720.0,580.6 722.0,580.9 724.0,581.3 726.0,581.6 728.0,581.9 730.0,582.2 732.0,582.4 734.1,582.7 736.1,583.0 738.1,583.2 740.1,583.5 742.1,583.7 744.1,583.9 746.1,584.2 748.1,584.4 750.1,584.6 752.1,584.8 754.1,585.0 756.1,585.2 758.1,585.4 760.1,585.6 762.1,585.8 764.1,586.0 766.1,586.2 768.1,586.4 770.1,586.5 772.1,586.7 774.1,586.9 776.1,587.1 778.1,587.2 780.1,587.4 782.1,587.6 784.1,587.7 786.1,587.9 788.1,588.0 790.1,588.2 792.1,588.3 794.1,588.5 796.1,588.6 798.1,588.8 800.1,588.9 802.1,589.0 804.1,589.2 806.1,589.3 808.1,589.4 810.1,589.5 812.1,589.7 814.1,589.8 816.1,589.9 818.1,590.0 820.1,590.1 822.1,590.2 824.1,590.4 826.1,590.5 828.1,590.6 830.1,590.7 832.1,590.8 834.1,590.9 836.1,591.0 838.2,591.1 840.2,591.1 842.2,591.2 844.2,591.3 846.2,591.4 848.2,591.5 850.2,591.6 852.2,591.6 854.2,591.7 856.2,591.8 858.2,591.9 860.2,591.9 862.2,592.0 864.2,592.1 866.2,592.2 868.2,592.2 870.2,592.3 872.2,592.3 874.2,592.4 876.2,592.5 878.2,592.5 880.2,592.6 882.2,592.6 884.2,592.7 886.2,592.8 888.2,592.8 890.2,592.9 892.2,592.9 894.2,593.0 896.2,593.1 898.2,593.1 900.2,593.2 902.2,593.2 904.2,593.2 906.2,593.3 908.2,593.3 910.2,593.4 912.2,593.4 914.2,593.5 916.2,593.5 918.2,593.5 920.2,593.6 922.2,593.6 924.2,593.6 926.2,593.7 928.2,593.7 930.2,593.7 932.2,593.7 934.2,593.8 936.2,593.8 938.2,593.8 940.2,593.9 942.3,593.9 944.3,593.9 946.3,593.9 948.3,593.9 950.3,594.0 952.3,594.0 954.3,594.0 956.3,594.0 958.3,594.0 960.3,594.1 962.3,594.1 964.3,594.1 966.3,594.1 968.3,594.1 970.3,594.2 972.3,594.2 974.3,594.2 976.3,594.2 978.3,594.2 980.3,594.2 982.3,594.3 984.3,594.3 986.3,594.3 988.3,594.3 990.3,594.3 992.3,594.3 994.3,594.4 996.3,594.4 998.3,594.4 1000.3,594.4 1002.3,594.4 1004.3,594.4 1006.3,594.5 1008.3,594.5 1010.3,594.5 1012.3,594.5 1014.3,594.5 1016.3,594.5 1018.3,594.5 1020.3,594.6 1022.3,594.6 1024.3,594.6 1026.3,594.6 1028.3,594.6 1030.3,594.6 1032.3,594.7 1034.3,594.7 1036.3,594.7 1038.3,594.7 1040.3,594.7 1042.3,594.7 1044.3,594.7 1046.4,594.8 1048.4,594.8 1050.4,594.8 1052.4,594.8 1054.4,594.8 1056.4,594.8 1058.4,594.9 1060.4,594.9 1062.4,594.9 1064.4,594.9 1066.4,594.9 1068.4,594.9 1070.4,595.0 1072.4,595.0 1074.4,595.0 1076.4,595.0 1078.4,595.0 1080.4,595.0 1082.4,595.1 1084.4,595.1 1086.4,595.1 1088.4,595.1 1090.4,595.1 1092.4,595.2 1094.4,595.2 1096.4,595.2 1098.4,595.2 1100.4,595.2 1102.4,595.3 1104.4,595.3 1106.4,595.3 1108.4,595.3 1110.4,595.4 1112.4,595.4 1114.4,595.4 1116.4,595.4 1118.4,595.5 1120.4,595.5 1122.4,595.5 1124.4,595.6 1126.4,595.6 1128.4,595.6 1130.4,595.7 1132.4,595.7 1134.4,595.7 1136.4,595.8 1138.4,595.8 1140.4,595.8 1142.4,595.9 1144.4,595.9 1146.4,596.0 1148.4,596.0 1150.5,596.1 1152.5,596.1 1154.5,596.2 1156.5,596.2 1158.5,596.3 1160.5,596.3 1162.5,596.4 1164.5,596.4 1166.5,596.5 1168.5,596.6 1170.5,596.6 1172.5,596.7 1174.5,596.7 1176.5,596.8 1178.5,596.8 1180.5,596.9 1182.5,597.0 1184.5,597.0 1186.5,597.1 1188.5,597.2 1190.5,597.2 1192.5,597.3 1194.5,597.3 1196.5,597.4 1198.5,597.5 1200.5,597.5 1202.5,597.6 1204.5,597.7 1206.5,597.7 1208.5,597.8 1210.5,597.9 1212.5,597.9 1214.5,598.0 1216.5,598.0 1218.5,598.1 1220.5,598.2 1222.5,598.2 1224.5,598.3 1226.5,598.4 1228.5,598.4 1230.5,598.5 1232.5,598.5 1234.5,598.6 1236.5,598.7 1238.5,598.7 1240.5,598.8 1242.5,598.9 1244.5,598.9 1246.5,599.0 1248.5,599.1 1250.5,599.1 1252.5,599.2 1254.6,599.3 1256.6,599.3 1258.6,599.4 1260.6,599.5 1262.6,599.6 1264.6,599.6 1266.6,599.7 1268.6,599.8 1270.6,599.8 1272.6,599.9 1274.6,600.0 1276.6,600.1 1278.6,600.1 1280.6,600.2 1282.6,600.3 1284.6,600.4 1286.6,600.4 1288.6,600.5 1290.6,600.6 1292.6,600.7 1294.6,600.7 1296.6,600.8 1298.6,600.9 1300.6,600.9 1302.6,601.0 1304.6,601.1 1306.6,601.2 1308.6,601.2 1310.6,601.3 1312.6,601.4 1314.6,601.4 1316.6,601.5 1318.6,601.6 1320.6,601.6 1322.6,601.7 1324.6,601.8 1326.6,601.8 1328.6,601.9 1330.6,602.0 1332.6,602.0 1334.6,602.1 1336.6,602.2 1338.6,602.2 1340.6,602.3 1342.6,602.3 1344.6,602.4 1346.6,602.5 1348.6,602.5 1350.6,602.6 1352.6,602.6 1354.6,602.7 1356.6,602.8 1358.7,602.8 1360.7,602.9 1362.7,602.9 1364.7,603.0 1366.7,603.0 1368.7,603.1 1370.7,603.2 1372.7,603.2 1374.7,603.3 1376.7,603.3 1378.7,603.4 1380.7,603.4 1382.7,603.5 1384.7,603.6 1386.7,603.6 1388.7,603.7 1390.7,603.7 1392.7,603.8 1394.7,603.8 1396.7,603.9 1398.7,603.9 1400.7,604.0 1402.7,604.0 1404.7,604.1 1406.7,604.1 1408.7,604.2 1410.7,604.2 1412.7,604.3 1414.7,604.3 1416.7,604.4 1418.7,604.4 1420.7,604.5 1422.7,604.5 1424.7,604.6 1426.7,604.6 1428.7,604.7 1430.7,604.7 1432.7,604.8 1434.7,604.8 1436.7,604.8 1438.7,604.9 1440.7,604.9 1442.7,604.9 1444.7,605.0 1446.7,605.0 1448.7,605.1 1450.7,605.1 1452.7,605.1 1454.7,605.2 1456.7,605.2 1458.7,605.2 1460.7,605.2 1462.8,605.3 1464.8,605.3 1466.8,605.3 1468.8,605.4 1470.8,605.4 1472.8,605.4 1474.8,605.4 1476.8,605.5 1478.8,605.5 1480.8,605.5 1482.8,605.6 1484.8,605.6 1486.8,605.6 1488.8,605.6 1490.8,605.7 1492.8,605.7 1494.8,605.7 1496.8,605.7 1498.8,605.8 1500.8,605.8 1502.8,605.8 1504.8,605.8 1506.8,605.9 1508.8,605.9 1510.8,605.9 1512.8,605.9 1514.8,605.9 1516.8,606.0 1518.8,606.0 1520.8,606.0 1522.8,606.0 1524.8,606.1 1526.8,606.1 1528.8,606.1 1530.8,606.1 1532.8,606.1 1534.8,606.2 1536.8,606.2 1538.8,606.2 1540.8,606.2 1542.8,606.2 1544.8,606.2 1546.8,606.3 1548.8,606.3 1550.8,606.3 1552.8,606.3 1554.8,606.3 1556.8,606.4 1558.8,606.4 1560.8,606.4 1562.8,606.4 1564.8,606.4 1566.9,606.4 1568.9,606.5 1570.9,606.5 1572.9,606.5 1574.9,606.5 1576.9,606.5 1578.9,606.5 1580.9,606.5 1582.9,606.6 1584.9,606.6 1586.9,606.6 1588.9,606.6 1590.9,606.6 1592.9,606.6 1594.9,606.6 1596.9,606.7 1598.9,606.7 1600.9,606.7 1602.9,606.7 1604.9,606.7 1606.9,606.7 1608.9,606.7 1610.9,606.7 1612.9,606.8 1614.9,606.8 1616.9,606.8 1618.9,606.8 1620.9,606.8 1622.9,606.8 1624.9,606.8 1626.9,606.8 1628.9,606.9 1630.9,606.9 1632.9,606.9 1634.9,606.9 1636.9,606.9 1638.9,606.9 1640.9,606.9 1642.9,606.9 1644.9,607.0 1646.9,607.0 1648.9,607.0 1650.9,607.0 1652.9,607.0 1654.9,607.0 1656.9,607.1 1658.9,607.1 1660.9,607.1 1662.9,607.1 1664.9,607.1 1666.9,607.1 1668.9,607.1 1671.0,607.2 1673.0,607.2 1675.0,607.2 1677.0,607.2 1679.0,607.2 1681.0,607.2 1683.0,607.3 1685.0,607.3 1687.0,607.3 1689.0,607.3 1691.0,607.3 1693.0,607.3 1695.0,607.4 1697.0,607.4 1699.0,607.4 1701.0,607.4 1703.0,607.4 1705.0,607.5 1707.0,607.5 1709.0,607.5 1711.0,607.5 1713.0,607.5 1715.0,607.5 1717.0,607.6 1719.0,607.6 1721.0,607.6"/>
<g style="mix-blend-mode:multiply"><line x1="496.7" y1="351.0" x2="496.7" y2="991.0" stroke="#d4d4d4" stroke-width="2.60"/><line x1="496.7" y1="351.0" x2="496.7" y2="991.0" stroke="#b0b0b0" stroke-width="2.60" stroke-dasharray="2 3.2"/></g>
<g style="mix-blend-mode:multiply"><line x1="967.3" y1="556.0" x2="967.3" y2="1152.0" stroke="#d4d4d4" stroke-width="2.60"/><line x1="967.3" y1="556.0" x2="967.3" y2="1152.0" stroke="#b0b0b0" stroke-width="2.60" stroke-dasharray="2 3.2"/></g>
<g style="mix-blend-mode:multiply"><line x1="1126.3" y1="550.0" x2="1126.3" y2="1150.0" stroke="#d4d4d4" stroke-width="2.60"/><line x1="1126.3" y1="550.0" x2="1126.3" y2="1150.0" stroke="#b0b0b0" stroke-width="2.60" stroke-dasharray="2 3.2"/></g>
<text x="441.2" y="331.3" font-size="54.0" text-anchor="start" font-weight="normal" fill="#000">(100)</text>
<text x="900.3" y="534.7" font-size="55.3" text-anchor="start" font-weight="normal" fill="#000">(110)</text>
<text x="1060.5" y="535.7" font-size="53.8" text-anchor="start" font-weight="normal" fill="#000">(200)</text>
<text x="1473.8" y="577.1" font-size="47.8" text-anchor="start" font-weight="normal" fill="#000">100Cu (3)</text>
<text x="1480.5" y="774.1" font-size="48.2" text-anchor="start" font-weight="normal" fill="#000">60Cu (2)</text>
<text x="1482.7" y="917.1" font-size="48.5" text-anchor="start" font-weight="normal" fill="#000">20Cu (1)</text>
<text x="1419.2" y="1094.5" font-size="47.3" text-anchor="start" font-weight="normal" fill="#000">Al-S-MCM-41</text>
<text x="209.8" y="179.0" font-size="130.0" text-anchor="start" font-weight="bold" fill="#000">A</text>
<text x="834.8" y="1309.7" font-size="53.2" text-anchor="start" font-weight="normal" fill="#000">2 theta/ °</text>
<text transform="translate(68.4,561.5) rotate(-90)" x="0" y="0" font-size="53" text-anchor="middle">Intensity/ a.u.</text>
<line x1="1163.5" y1="136.0" x2="1171.6" y2="136.0" stroke="#888" stroke-width="1.80"/>
<line x1="1163.5" y1="240.8" x2="1171.6" y2="240.8" stroke="#888" stroke-width="1.80"/>
<line x1="1163.5" y1="346.0" x2="1171.6" y2="346.0" stroke="#888" stroke-width="1.80"/>
<line x1="1167.5" y1="83.5" x2="1171.6" y2="83.5" stroke="#888" stroke-width="1.80"/>
<line x1="1167.5" y1="188.7" x2="1171.6" y2="188.7" stroke="#888" stroke-width="1.80"/>
<line x1="1167.5" y1="293.1" x2="1171.6" y2="293.1" stroke="#888" stroke-width="1.80"/>
<line x1="1167.5" y1="398.3" x2="1171.6" y2="398.3" stroke="#888" stroke-width="1.80"/>
<line x1="1211.2" y1="419.5" x2="1211.2" y2="424.0" stroke="#666" stroke-width="2.20"/>
<line x1="1250.8" y1="419.5" x2="1250.8" y2="427.0" stroke="#666" stroke-width="2.20"/>
<line x1="1290.4" y1="419.5" x2="1290.4" y2="424.0" stroke="#666" stroke-width="2.20"/>
<line x1="1330.0" y1="419.5" x2="1330.0" y2="427.0" stroke="#666" stroke-width="2.20"/>
<line x1="1369.6" y1="419.5" x2="1369.6" y2="424.0" stroke="#666" stroke-width="2.20"/>
<line x1="1409.2" y1="419.5" x2="1409.2" y2="427.0" stroke="#666" stroke-width="2.20"/>
<line x1="1448.8" y1="419.5" x2="1448.8" y2="424.0" stroke="#666" stroke-width="2.20"/>
<line x1="1488.4" y1="419.5" x2="1488.4" y2="427.0" stroke="#666" stroke-width="2.20"/>
<line x1="1528.0" y1="419.5" x2="1528.0" y2="424.0" stroke="#666" stroke-width="2.20"/>
<line x1="1567.6" y1="419.5" x2="1567.6" y2="427.0" stroke="#666" stroke-width="2.20"/>
<line x1="1607.2" y1="419.5" x2="1607.2" y2="424.0" stroke="#666" stroke-width="2.20"/>
<line x1="1646.8" y1="419.5" x2="1646.8" y2="427.0" stroke="#666" stroke-width="2.20"/>
<line x1="1686.4" y1="419.5" x2="1686.4" y2="424.0" stroke="#666" stroke-width="2.20"/>
<line x1="1171.6" y1="419.5" x2="1721.0" y2="419.5" stroke="#a9a9a9" stroke-width="4.20"/>
<line x1="1171.6" y1="31.0" x2="1171.6" y2="427.0" stroke="#8a8a8a" stroke-width="2.60"/>
<text x="1171.6" y="444.0" font-size="19.0" text-anchor="middle" font-weight="normal" fill="#555">28</text>
<text x="1250.8" y="444.0" font-size="19.0" text-anchor="middle" font-weight="normal" fill="#555">30</text>
<text x="1330.0" y="444.0" font-size="19.0" text-anchor="middle" font-weight="normal" fill="#555">32</text>
<text x="1409.2" y="444.0" font-size="19.0" text-anchor="middle" font-weight="normal" fill="#555">34</text>
<text x="1488.4" y="444.0" font-size="19.0" text-anchor="middle" font-weight="normal" fill="#555">36</text>
<text x="1567.6" y="444.0" font-size="19.0" text-anchor="middle" font-weight="normal" fill="#555">38</text>
<text x="1646.8" y="444.0" font-size="19.0" text-anchor="middle" font-weight="normal" fill="#555">40</text>
<text x="1447.0" y="484.0" font-size="28.2" text-anchor="middle" font-weight="normal" fill="#333">2 theta/ °</text>
<text transform="translate(1149,224.3) rotate(-90)" x="0" y="0" font-size="27.5" text-anchor="middle" fill="#333">Intensity/ a.u.</text>
<g filter="url(#blr)">
<polyline fill="none" stroke="#4848ff" stroke-width="2.50" stroke-linejoin="miter" points="1173.0,355.8 1175.0,354.5 1177.0,355.0 1179.0,355.0 1181.0,357.0 1183.0,354.9 1185.0,358.6 1187.0,357.0 1189.0,358.3 1191.1,358.3 1193.1,360.1 1195.1,357.7 1197.1,359.6 1199.1,360.0 1201.1,361.6 1203.1,360.3 1205.1,361.5 1207.1,361.4 1209.1,362.5 1211.1,366.0 1213.1,362.5 1215.1,364.8 1217.1,366.1 1219.1,365.2 1221.1,365.9 1223.2,365.1 1225.2,366.0 1227.2,365.9 1229.2,366.9 1231.2,368.0 1233.2,367.5 1235.2,368.2 1237.2,368.4 1239.2,368.7 1241.2,369.3 1243.2,370.3 1245.2,372.0 1247.2,371.4 1249.2,373.0 1251.2,372.7 1253.2,372.3 1255.3,375.2 1257.3,372.7 1259.3,375.1 1261.3,374.1 1263.3,374.0 1265.3,375.0 1267.3,376.9 1269.3,375.7 1271.3,376.5 1273.3,378.4 1275.3,376.5 1277.3,376.2 1279.3,377.2 1281.3,377.6 1283.3,378.6 1285.3,379.2 1287.4,379.6 1289.4,379.4 1291.4,380.2 1293.4,379.2 1295.4,381.1 1297.4,380.8 1299.4,380.5 1301.4,381.4 1303.4,381.3 1305.4,382.5 1307.4,383.1 1309.4,383.9 1311.4,381.3 1313.4,379.9 1315.4,382.5 1317.4,383.3 1319.5,384.1 1321.5,383.7 1323.5,382.3 1325.5,383.9 1327.5,385.0 1329.5,384.8 1331.5,385.4 1333.5,384.9 1335.5,385.1 1337.5,385.7 1339.5,386.1 1341.5,386.2 1343.5,387.5 1345.5,386.0 1347.5,387.1 1349.5,387.2 1351.6,387.6 1353.6,388.7 1355.6,388.9 1357.6,388.0 1359.6,388.1 1361.6,389.2 1363.6,389.3 1365.6,389.2 1367.6,389.8 1369.6,389.5 1371.6,390.9 1373.6,390.2 1375.6,391.7 1377.6,391.3 1379.6,391.6 1381.6,390.4 1383.7,391.6 1385.7,392.1 1387.7,390.8 1389.7,391.5 1391.7,391.8 1393.7,390.7 1395.7,392.1 1397.7,392.6 1399.7,391.3 1401.7,392.3 1403.7,391.0 1405.7,392.0 1407.7,390.8 1409.7,393.1 1411.7,392.5 1413.7,392.3 1415.8,391.7 1417.8,393.4 1419.8,391.3 1421.8,391.1 1423.8,393.7 1425.8,392.7 1427.8,393.3 1429.8,392.2 1431.8,394.1 1433.8,393.5 1435.8,393.3 1437.8,393.1 1439.8,394.8 1441.8,395.2 1443.8,395.3 1445.8,395.5 1447.9,394.5 1449.9,396.3 1451.9,396.0 1453.9,396.1 1455.9,396.5 1457.9,397.5 1459.9,397.7 1461.9,397.8 1463.9,397.8 1465.9,398.0 1467.9,398.7 1469.9,398.7 1471.9,399.3 1473.9,398.7 1475.9,397.2 1477.9,400.2 1480.0,401.3 1482.0,400.1 1484.0,399.8 1486.0,399.9 1488.0,400.1 1490.0,400.4 1492.0,399.6 1494.0,396.3 1496.0,400.0 1498.0,401.1 1500.0,400.8 1502.0,401.6 1504.0,401.2 1506.0,402.3 1508.0,401.8 1510.0,403.5 1512.1,400.4 1514.1,401.5 1516.1,402.8 1518.1,404.3 1520.1,400.2 1522.1,402.5 1524.1,402.4 1526.1,403.7 1528.1,402.5 1530.1,403.4 1532.1,402.7 1534.1,402.0 1536.1,403.4 1538.1,403.6 1540.1,404.3 1542.1,403.3 1544.2,402.9 1546.2,403.9 1548.2,403.8 1550.2,403.9 1552.2,403.6 1554.2,404.7 1556.2,404.1 1558.2,405.4 1560.2,401.8 1562.2,404.5 1564.2,402.7 1566.2,404.6 1568.2,404.5 1570.2,404.8 1572.2,405.1 1574.2,404.0 1576.3,405.0 1578.3,403.9 1580.3,406.0 1582.3,403.4 1584.3,403.1 1586.3,403.2 1588.3,403.9 1590.3,403.8 1592.3,406.2 1594.3,404.4 1596.3,402.3 1598.3,405.7 1600.3,404.3 1602.3,403.9 1604.3,405.6 1606.3,405.4 1608.4,404.1 1610.4,406.1 1612.4,405.1 1614.4,406.4 1616.4,405.5 1618.4,406.4 1620.4,405.3 1622.4,404.2 1624.4,407.2 1626.4,404.8 1628.4,405.1 1630.4,404.8 1632.4,405.2 1634.4,405.6 1636.4,405.6 1638.4,406.0 1640.5,406.9 1642.5,405.4 1644.5,404.6 1646.5,404.6 1648.5,405.1 1650.5,404.3 1652.5,406.3 1654.5,405.3 1656.5,405.5 1658.5,405.8 1660.5,404.7 1662.5,405.1 1664.5,406.4 1666.5,405.9 1668.5,405.6 1670.5,407.4 1672.6,405.0 1674.6,405.8 1676.6,405.9 1678.6,403.9 1680.6,407.7 1682.6,406.5 1684.6,405.4 1686.6,407.9 1688.6,406.8 1690.6,406.7 1692.6,405.9 1694.6,406.5 1696.6,405.2 1698.6,407.1 1700.6,406.2 1702.6,406.7 1704.7,407.6 1706.7,406.9 1708.7,406.9 1710.7,406.9 1712.7,406.2 1714.7,407.5 1716.7,408.1 1718.7,407.5 1720.7,407.6"/>
<polyline fill="none" stroke="#ff4040" stroke-width="2.50" stroke-linejoin="miter" points="1173.0,275.8 1175.0,276.5 1177.0,275.2 1179.0,278.6 1181.0,276.3 1183.0,277.4 1185.0,278.9 1187.0,277.9 1189.0,278.4 1191.1,278.9 1193.1,280.5 1195.1,282.3 1197.1,280.9 1199.1,280.4 1201.1,283.0 1203.1,281.6 1205.1,282.5 1207.1,283.8 1209.1,282.7 1211.1,283.7 1213.1,283.4 1215.1,284.3 1217.1,285.1 1219.1,284.5 1221.1,288.1 1223.2,285.9 1225.2,286.0 1227.2,286.0 1229.2,286.3 1231.2,287.7 1233.2,288.0 1235.2,290.5 1237.2,287.2 1239.2,289.6 1241.2,290.2 1243.2,291.4 1245.2,291.2 1247.2,290.5 1249.2,291.5 1251.2,292.3 1253.2,292.0 1255.3,293.2 1257.3,291.5 1259.3,294.7 1261.3,294.7 1263.3,293.6 1265.3,294.6 1267.3,294.5 1269.3,294.0 1271.3,295.0 1273.3,296.0 1275.3,295.1 1277.3,295.4 1279.3,295.9 1281.3,296.5 1283.3,297.9 1285.3,296.2 1287.4,297.3 1289.4,297.3 1291.4,295.9 1293.4,297.3 1295.4,297.8 1297.4,298.2 1299.4,298.8 1301.4,297.2 1303.4,299.2 1305.4,298.9 1307.4,298.7 1309.4,298.0 1311.4,301.1 1313.4,300.4 1315.4,301.9 1317.4,301.3 1319.5,302.0 1321.5,301.3 1323.5,303.7 1325.5,300.6 1327.5,302.9 1329.5,303.8 1331.5,301.9 1333.5,303.6 1335.5,303.9 1337.5,304.9 1339.5,307.4 1341.5,304.2 1343.5,303.5 1345.5,305.8 1347.5,305.4 1349.5,303.0 1351.6,302.8 1353.6,303.2 1355.6,305.6 1357.6,307.5 1359.6,309.1 1361.6,306.9 1363.6,309.4 1365.6,309.1 1367.6,309.0 1369.6,310.1 1371.6,307.4 1373.6,310.4 1375.6,309.8 1377.6,308.7 1379.6,310.1 1381.6,309.6 1383.7,312.1 1385.7,311.6 1387.7,310.7 1389.7,310.0 1391.7,310.2 1393.7,310.6 1395.7,310.6 1397.7,310.5 1399.7,311.0 1401.7,311.4 1403.7,311.4 1405.7,311.4 1407.7,311.4 1409.7,314.3 1411.7,311.2 1413.7,311.7 1415.8,313.0 1417.8,310.5 1419.8,313.1 1421.8,313.5 1423.8,313.9 1425.8,313.6 1427.8,312.2 1429.8,314.0 1431.8,311.7 1433.8,313.1 1435.8,312.8 1437.8,312.4 1439.8,313.8 1441.8,313.2 1443.8,314.2 1445.8,312.2 1447.9,314.1 1449.9,313.9 1451.9,313.6 1453.9,312.4 1455.9,313.3 1457.9,312.2 1459.9,310.9 1461.9,313.7 1463.9,309.2 1465.9,305.6 1467.9,297.2 1469.9,292.0 1471.9,287.7 1473.9,292.1 1475.9,301.0 1477.9,309.3 1480.0,312.4 1482.0,316.1 1484.0,317.5 1486.0,318.5 1488.0,317.7 1490.0,319.5 1492.0,318.0 1494.0,317.5 1496.0,319.5 1498.0,318.5 1500.0,318.0 1502.0,319.3 1504.0,319.9 1506.0,319.6 1508.0,319.9 1510.0,322.9 1512.1,320.4 1514.1,321.1 1516.1,318.3 1518.1,320.3 1520.1,320.7 1522.1,319.8 1524.1,319.5 1526.1,320.5 1528.1,320.0 1530.1,319.9 1532.1,321.3 1534.1,321.5 1536.1,320.7 1538.1,320.2 1540.1,321.0 1542.1,321.3 1544.2,321.2 1546.2,319.6 1548.2,318.9 1550.2,321.2 1552.2,321.5 1554.2,321.8 1556.2,321.7 1558.2,320.3 1560.2,320.7 1562.2,320.3 1564.2,322.8 1566.2,321.6 1568.2,321.9 1570.2,322.4 1572.2,325.0 1574.2,320.7 1576.3,321.3 1578.3,321.5 1580.3,322.9 1582.3,322.4 1584.3,320.8 1586.3,321.4 1588.3,319.4 1590.3,314.9 1592.3,310.1 1594.3,301.2 1596.3,295.4 1598.3,290.5 1600.3,291.9 1602.3,297.8 1604.3,305.3 1606.3,310.0 1608.4,315.0 1610.4,319.0 1612.4,320.7 1614.4,321.7 1616.4,323.9 1618.4,322.5 1620.4,322.0 1622.4,322.9 1624.4,322.0 1626.4,324.2 1628.4,323.7 1630.4,324.4 1632.4,324.4 1634.4,324.1 1636.4,324.7 1638.4,324.2 1640.5,323.6 1642.5,323.4 1644.5,323.9 1646.5,322.3 1648.5,325.8 1650.5,322.4 1652.5,324.4 1654.5,323.5 1656.5,322.9 1658.5,324.5 1660.5,324.4 1662.5,324.6 1664.5,325.2 1666.5,324.3 1668.5,325.2 1670.5,325.3 1672.6,324.7 1674.6,324.8 1676.6,325.5 1678.6,325.2 1680.6,325.3 1682.6,323.3 1684.6,325.3 1686.6,325.6 1688.6,325.3 1690.6,325.7 1692.6,327.0 1694.6,325.6 1696.6,326.1 1698.6,324.9 1700.6,324.9 1702.6,321.7 1704.7,324.9 1706.7,325.7 1708.7,325.0 1710.7,325.6 1712.7,324.6 1714.7,324.5 1716.7,325.3 1718.7,324.9 1720.7,325.3"/>
<polyline fill="none" stroke="#22a64c" stroke-width="2.50" stroke-linejoin="miter" points="1173.0,208.7 1175.0,208.0 1177.0,208.1 1179.0,206.8 1181.0,209.4 1183.0,208.7 1185.0,209.3 1187.0,209.2 1189.0,210.0 1191.1,210.0 1193.1,211.0 1195.1,211.8 1197.1,212.1 1199.1,213.2 1201.1,212.2 1203.1,212.2 1205.1,212.4 1207.1,211.3 1209.1,214.3 1211.1,213.0 1213.1,213.3 1215.1,214.4 1217.1,216.1 1219.1,215.5 1221.1,214.8 1223.2,215.4 1225.2,216.9 1227.2,216.6 1229.2,216.5 1231.2,217.3 1233.2,215.3 1235.2,219.8 1237.2,217.6 1239.2,218.5 1241.2,218.7 1243.2,217.8 1245.2,219.3 1247.2,219.6 1249.2,221.7 1251.2,221.0 1253.2,220.1 1255.3,222.3 1257.3,223.5 1259.3,221.0 1261.3,222.2 1263.3,222.5 1265.3,222.5 1267.3,223.6 1269.3,222.0 1271.3,223.9 1273.3,225.2 1275.3,225.3 1277.3,225.8 1279.3,226.1 1281.3,226.6 1283.3,224.8 1285.3,226.6 1287.4,224.7 1289.4,226.0 1291.4,225.2 1293.4,227.8 1295.4,228.2 1297.4,227.2 1299.4,229.1 1301.4,227.3 1303.4,228.2 1305.4,228.4 1307.4,227.6 1309.4,229.0 1311.4,230.4 1313.4,228.2 1315.4,230.0 1317.4,229.3 1319.5,231.1 1321.5,230.2 1323.5,230.6 1325.5,230.8 1327.5,230.7 1329.5,229.7 1331.5,232.2 1333.5,230.2 1335.5,231.7 1337.5,232.1 1339.5,230.8 1341.5,233.1 1343.5,230.6 1345.5,228.2 1347.5,225.3 1349.5,220.6 1351.6,219.6 1353.6,220.7 1355.6,225.2 1357.6,230.0 1359.6,233.1 1361.6,233.4 1363.6,234.3 1365.6,235.4 1367.6,234.5 1369.6,235.2 1371.6,237.4 1373.6,236.5 1375.6,235.0 1377.6,236.2 1379.6,237.0 1381.6,237.7 1383.7,237.1 1385.7,234.1 1387.7,236.8 1389.7,238.1 1391.7,238.0 1393.7,237.5 1395.7,238.0 1397.7,238.0 1399.7,239.0 1401.7,238.1 1403.7,239.2 1405.7,239.7 1407.7,239.5 1409.7,238.7 1411.7,240.5 1413.7,239.1 1415.8,240.0 1417.8,239.2 1419.8,238.4 1421.8,240.0 1423.8,240.0 1425.8,239.7 1427.8,240.0 1429.8,239.3 1431.8,239.2 1433.8,239.7 1435.8,241.3 1437.8,240.5 1439.8,239.4 1441.8,240.2 1443.8,239.4 1445.8,239.4 1447.9,240.4 1449.9,238.3 1451.9,235.0 1453.9,231.2 1455.9,226.4 1457.9,220.4 1459.9,214.9 1461.9,201.9 1463.9,183.9 1465.9,160.3 1467.9,126.9 1469.9,97.7 1471.9,80.9 1473.9,101.0 1475.9,141.9 1477.9,192.0 1480.0,219.0 1482.0,229.7 1484.0,236.9 1486.0,239.8 1488.0,241.7 1490.0,242.4 1492.0,243.8 1494.0,242.7 1496.0,243.8 1498.0,243.8 1500.0,243.3 1502.0,246.6 1504.0,244.6 1506.0,243.5 1508.0,245.8 1510.0,245.9 1512.1,245.0 1514.1,243.5 1516.1,244.2 1518.1,244.4 1520.1,244.3 1522.1,244.6 1524.1,243.4 1526.1,243.7 1528.1,244.6 1530.1,245.5 1532.1,245.2 1534.1,246.1 1536.1,245.3 1538.1,244.3 1540.1,244.6 1542.1,243.1 1544.2,243.9 1546.2,243.9 1548.2,244.9 1550.2,245.2 1552.2,247.4 1554.2,244.2 1556.2,243.5 1558.2,244.6 1560.2,244.9 1562.2,245.1 1564.2,244.1 1566.2,246.3 1568.2,245.7 1570.2,244.6 1572.2,244.2 1574.2,243.8 1576.3,243.5 1578.3,242.6 1580.3,239.7 1582.3,234.0 1584.3,226.6 1586.3,215.3 1588.3,201.1 1590.3,183.1 1592.3,157.5 1594.3,127.7 1596.3,99.0 1598.3,93.6 1600.3,105.0 1602.3,135.3 1604.3,164.8 1606.3,189.4 1608.4,205.1 1610.4,217.7 1612.4,227.4 1614.4,235.5 1616.4,242.7 1618.4,245.0 1620.4,247.8 1622.4,247.0 1624.4,249.0 1626.4,246.0 1628.4,248.5 1630.4,249.1 1632.4,248.5 1634.4,249.7 1636.4,249.4 1638.4,248.7 1640.5,249.3 1642.5,251.3 1644.5,249.2 1646.5,249.3 1648.5,248.8 1650.5,249.2 1652.5,248.1 1654.5,249.0 1656.5,251.2 1658.5,248.2 1660.5,249.8 1662.5,250.2 1664.5,250.9 1666.5,249.9 1668.5,251.1 1670.5,250.4 1672.6,249.7 1674.6,251.0 1676.6,247.8 1678.6,249.3 1680.6,250.0 1682.6,249.1 1684.6,252.2 1686.6,249.4 1688.6,249.5 1690.6,252.2 1692.6,251.1 1694.6,250.1 1696.6,251.3 1698.6,250.1 1700.6,251.1 1702.6,250.7 1704.7,251.8 1706.7,249.4 1708.7,251.2 1710.7,250.8 1712.7,249.8 1714.7,251.7 1716.7,250.2 1718.7,252.2 1720.7,251.4"/>
</g>
<text x="1312.4" y="196.8" font-size="37.2" text-anchor="start" font-weight="normal" fill="#1a1a1a">CuO</text>
<text x="1437.6" y="74.4" font-size="38.2" text-anchor="start" font-weight="normal" fill="#1a1a1a">CuO</text>
<text x="1562.8" y="75.4" font-size="38.0" text-anchor="start" font-weight="normal" fill="#1a1a1a">CuO</text>
<text x="1666.2" y="231.9" font-size="33.0" text-anchor="start" font-weight="normal" fill="#222">(3)</text>
<text x="1667.7" y="302.8" font-size="33.0" text-anchor="start" font-weight="normal" fill="#222">(2)</text>
<text x="1670.3" y="387.6" font-size="33.0" text-anchor="start" font-weight="normal" fill="#222">(1)</text>
<line x1="141.5" y1="1502.7" x2="161.4" y2="1502.7" stroke="#262626" stroke-width="3.20"/>
<line x1="141.5" y1="1621.1" x2="161.4" y2="1621.1" stroke="#262626" stroke-width="3.20"/>
<line x1="141.5" y1="1739.6" x2="161.4" y2="1739.6" stroke="#262626" stroke-width="3.20"/>
<line x1="141.5" y1="1858.0" x2="161.4" y2="1858.0" stroke="#262626" stroke-width="3.20"/>
<line x1="141.5" y1="1976.5" x2="161.4" y2="1976.5" stroke="#262626" stroke-width="3.20"/>
<line x1="141.5" y1="2094.9" x2="161.4" y2="2094.9" stroke="#262626" stroke-width="3.20"/>
<line x1="141.5" y1="2213.3" x2="161.4" y2="2213.3" stroke="#262626" stroke-width="3.20"/>
<line x1="141.5" y1="2331.8" x2="161.4" y2="2331.8" stroke="#262626" stroke-width="3.20"/>
<line x1="141.5" y1="2450.2" x2="161.4" y2="2450.2" stroke="#262626" stroke-width="3.20"/>
<line x1="150.5" y1="1443.4" x2="161.4" y2="1443.4" stroke="#262626" stroke-width="3.20"/>
<line x1="150.5" y1="1561.9" x2="161.4" y2="1561.9" stroke="#262626" stroke-width="3.20"/>
<line x1="150.5" y1="1680.3" x2="161.4" y2="1680.3" stroke="#262626" stroke-width="3.20"/>
<line x1="150.5" y1="1798.8" x2="161.4" y2="1798.8" stroke="#262626" stroke-width="3.20"/>
<line x1="150.5" y1="1917.2" x2="161.4" y2="1917.2" stroke="#262626" stroke-width="3.20"/>
<line x1="150.5" y1="2035.7" x2="161.4" y2="2035.7" stroke="#262626" stroke-width="3.20"/>
<line x1="150.5" y1="2154.1" x2="161.4" y2="2154.1" stroke="#262626" stroke-width="3.20"/>
<line x1="150.5" y1="2272.6" x2="161.4" y2="2272.6" stroke="#262626" stroke-width="3.20"/>
<line x1="150.5" y1="2391.0" x2="161.4" y2="2391.0" stroke="#262626" stroke-width="3.20"/>
<line x1="150.5" y1="2509.4" x2="161.4" y2="2509.4" stroke="#262626" stroke-width="3.20"/>
<line x1="303.2" y1="2509.0" x2="303.2" y2="2529.0" stroke="#303030" stroke-width="3.40"/>
<line x1="587.0" y1="2509.0" x2="587.0" y2="2529.0" stroke="#303030" stroke-width="3.40"/>
<line x1="870.7" y1="2509.0" x2="870.7" y2="2529.0" stroke="#303030" stroke-width="3.40"/>
<line x1="1154.5" y1="2509.0" x2="1154.5" y2="2529.0" stroke="#303030" stroke-width="3.40"/>
<line x1="1438.2" y1="2509.0" x2="1438.2" y2="2529.0" stroke="#303030" stroke-width="3.40"/>
<line x1="1722.0" y1="2509.0" x2="1722.0" y2="2529.0" stroke="#303030" stroke-width="3.40"/>
<line x1="161.3" y1="2509.0" x2="161.3" y2="2518.0" stroke="#303030" stroke-width="3.40"/>
<line x1="445.1" y1="2509.0" x2="445.1" y2="2518.0" stroke="#303030" stroke-width="3.40"/>
<line x1="728.8" y1="2509.0" x2="728.8" y2="2518.0" stroke="#303030" stroke-width="3.40"/>
<line x1="1012.6" y1="2509.0" x2="1012.6" y2="2518.0" stroke="#303030" stroke-width="3.40"/>
<line x1="1296.4" y1="2509.0" x2="1296.4" y2="2518.0" stroke="#303030" stroke-width="3.40"/>
<line x1="1580.1" y1="2509.0" x2="1580.1" y2="2518.0" stroke="#303030" stroke-width="3.40"/>
<line x1="141.5" y1="1384.2" x2="1724.8" y2="1384.2" stroke="#3c3c3c" stroke-width="4.60"/>
<line x1="161.4" y1="2506.4" x2="1723.0" y2="2506.4" stroke="#b8b8b8" stroke-width="1.60"/>
<line x1="161.4" y1="2511.7" x2="1723.0" y2="2511.7" stroke="#d8d8d8" stroke-width="1.80"/>
<line x1="150.5" y1="2509.0" x2="1723.0" y2="2509.0" stroke="#1e1e1e" stroke-width="3.20"/>
<line x1="1723.0" y1="1382.5" x2="1723.0" y2="2529.0" stroke="#111" stroke-width="3.60"/>
<line x1="1725.6" y1="1382.5" x2="1725.6" y2="2529.0" stroke="#9a9a9a" stroke-width="1.20"/>
<line x1="161.4" y1="1382.5" x2="161.4" y2="2518.0" stroke="#404040" stroke-width="4.60"/>
<text x="303.2" y="2575.3" font-size="46.5" text-anchor="middle" font-weight="normal" fill="#000">2</text>
<text x="587.0" y="2575.3" font-size="46.5" text-anchor="middle" font-weight="normal" fill="#000">3</text>
<text x="870.7" y="2575.3" font-size="46.5" text-anchor="middle" font-weight="normal" fill="#000">4</text>
<text x="1154.5" y="2575.3" font-size="46.5" text-anchor="middle" font-weight="normal" fill="#000">5</text>
<text x="1438.2" y="2575.3" font-size="46.5" text-anchor="middle" font-weight="normal" fill="#000">6</text>
<text x="1722.0" y="2575.3" font-size="46.5" text-anchor="middle" font-weight="normal" fill="#000">7</text>
<polyline fill="none" stroke="#000" stroke-width="4.20" stroke-linejoin="round" stroke-linecap="butt" points="161.5,2439.6 163.5,2439.5 165.5,2439.3 167.5,2439.2 169.5,2439.0 171.5,2438.9 173.5,2438.7 175.5,2438.6 177.5,2438.4 179.5,2438.2 181.5,2438.0 183.5,2437.8 185.5,2437.6 187.5,2437.4 189.5,2437.2 191.5,2436.9 193.5,2436.7 195.5,2436.5 197.5,2436.2 199.5,2435.9 201.5,2435.7 203.5,2435.4 205.5,2435.1 207.5,2434.8 209.5,2434.5 211.5,2434.2 213.6,2433.8 215.6,2433.5 217.6,2433.2 219.6,2432.8 221.6,2432.4 223.6,2432.1 225.6,2431.7 227.6,2431.3 229.6,2430.9 231.6,2430.5 233.6,2430.0 235.6,2429.6 237.6,2429.2 239.6,2428.7 241.6,2428.3 243.6,2427.8 245.6,2427.3 247.6,2426.8 249.6,2426.3 251.6,2425.8 253.6,2425.2 255.6,2424.7 257.6,2424.2 259.6,2423.6 261.6,2423.0 263.6,2422.4 265.6,2421.8 267.6,2421.2 269.6,2420.6 271.6,2420.0 273.6,2419.4 275.6,2418.7 277.6,2418.0 279.6,2417.4 281.6,2416.7 283.6,2416.0 285.6,2415.3 287.6,2414.5 289.6,2413.8 291.6,2413.0 293.6,2412.3 295.6,2411.5 297.6,2410.7 299.6,2409.9 301.6,2409.1 303.6,2408.3 305.6,2407.4 307.6,2406.6 309.6,2405.7 311.6,2404.8 313.6,2403.9 315.6,2403.0 317.7,2402.1 319.7,2401.1 321.7,2400.2 323.7,2399.2 325.7,2398.2 327.7,2397.3 329.7,2396.2 331.7,2395.2 333.7,2394.2 335.7,2393.1 337.7,2392.1 339.7,2391.0 341.7,2389.9 343.7,2388.8 345.7,2387.7 347.7,2386.5 349.7,2385.4 351.7,2384.2 353.7,2383.0 355.7,2381.8 357.7,2380.6 359.7,2379.4 361.7,2378.1 363.7,2376.9 365.7,2375.6 367.7,2374.3 369.7,2373.0 371.7,2371.6 373.7,2370.3 375.7,2368.9 377.7,2367.5 379.7,2366.1 381.7,2364.7 383.7,2363.2 385.7,2361.7 387.7,2360.1 389.7,2358.6 391.7,2357.0 393.7,2355.4 395.7,2353.7 397.7,2352.0 399.7,2350.3 401.7,2348.5 403.7,2346.7 405.7,2344.8 407.7,2342.9 409.7,2341.0 411.7,2339.0 413.7,2336.9 415.7,2334.8 417.7,2332.7 419.7,2330.5 421.8,2328.3 423.8,2326.0 425.8,2323.7 427.8,2321.4 429.8,2319.1 431.8,2316.7 433.8,2314.3 435.8,2311.9 437.8,2309.5 439.8,2307.1 441.8,2304.7 443.8,2302.3 445.8,2300.0 447.8,2297.6 449.8,2295.3 451.8,2293.0 453.8,2290.8 455.8,2288.5 457.8,2286.4 459.8,2284.2 461.8,2282.2 463.8,2280.2 465.8,2278.2 467.8,2276.3 469.8,2274.5 471.8,2272.8 473.8,2271.1 475.8,2269.6 477.8,2268.1 479.8,2266.7 481.8,2265.4 483.8,2264.3 485.8,2263.2 487.8,2262.2 489.8,2261.4 491.8,2260.6 493.8,2260.0 495.8,2259.5 497.8,2259.2 499.8,2259.0 501.8,2258.9 503.8,2259.0 505.8,2259.2 507.8,2259.6 509.8,2260.1 511.8,2260.8 513.8,2261.6 515.8,2262.6 517.8,2263.8 519.8,2265.2 521.8,2266.7 523.8,2268.3 525.9,2270.1 527.9,2272.0 529.9,2274.0 531.9,2276.2 533.9,2278.4 535.9,2280.8 537.9,2283.2 539.9,2285.8 541.9,2288.4 543.9,2291.1 545.9,2293.8 547.9,2296.6 549.9,2299.4 551.9,2302.3 553.9,2305.2 555.9,2308.2 557.9,2311.2 559.9,2314.1 561.9,2317.1 563.9,2320.1 565.9,2323.1 567.9,2326.1 569.9,2329.0 571.9,2332.0 573.9,2335.0 575.9,2337.9 577.9,2340.8 579.9,2343.7 581.9,2346.6 583.9,2349.5 585.9,2352.3 587.9,2355.0 589.9,2357.8 591.9,2360.4 593.9,2363.1 595.9,2365.7 597.9,2368.2 599.9,2370.7 601.9,2373.1 603.9,2375.4 605.9,2377.7 607.9,2379.9 609.9,2382.1 611.9,2384.2 613.9,2386.3 615.9,2388.3 617.9,2390.2 619.9,2392.1 621.9,2394.0 623.9,2395.7 625.9,2397.5 627.9,2399.2 630.0,2400.8 632.0,2402.4 634.0,2404.0 636.0,2405.5 638.0,2406.9 640.0,2408.3 642.0,2409.7 644.0,2411.0 646.0,2412.3 648.0,2413.6 650.0,2414.8 652.0,2416.0 654.0,2417.1 656.0,2418.2 658.0,2419.3 660.0,2420.3 662.0,2421.4 664.0,2422.3 666.0,2423.3 668.0,2424.2 670.0,2425.1 672.0,2425.9 674.0,2426.8 676.0,2427.6 678.0,2428.4 680.0,2429.2 682.0,2429.9 684.0,2430.6 686.0,2431.3 688.0,2432.0 690.0,2432.7 692.0,2433.3 694.0,2433.9 696.0,2434.6 698.0,2435.2 700.0,2435.8 702.0,2436.3 704.0,2436.9 706.0,2437.5 708.0,2438.0 710.0,2438.5 712.0,2439.1 714.0,2439.6 716.0,2440.1 718.0,2440.6 720.0,2441.1 722.0,2441.6 724.0,2442.0 726.0,2442.5 728.0,2442.9 730.0,2443.4 732.0,2443.8 734.1,2444.2 736.1,2444.6 738.1,2445.0 740.1,2445.4 742.1,2445.8 744.1,2446.2 746.1,2446.6 748.1,2446.9 750.1,2447.3 752.1,2447.6 754.1,2448.0 756.1,2448.3 758.1,2448.6 760.1,2448.9 762.1,2449.2 764.1,2449.5 766.1,2449.8 768.1,2450.1 770.1,2450.4 772.1,2450.6 774.1,2450.9 776.1,2451.2 778.1,2451.4 780.1,2451.6 782.1,2451.9 784.1,2452.1 786.1,2452.3 788.1,2452.5 790.1,2452.7 792.1,2453.0 794.1,2453.1 796.1,2453.3 798.1,2453.5 800.1,2453.7 802.1,2453.9 804.1,2454.0 806.1,2454.2 808.1,2454.4 810.1,2454.5 812.1,2454.7 814.1,2454.8 816.1,2455.0 818.1,2455.1 820.1,2455.2 822.1,2455.3 824.1,2455.5 826.1,2455.6 828.1,2455.7 830.1,2455.8 832.1,2455.9 834.1,2456.0 836.1,2456.1 838.2,2456.2 840.2,2456.3 842.2,2456.4 844.2,2456.4 846.2,2456.5 848.2,2456.6 850.2,2456.7 852.2,2456.7 854.2,2456.8 856.2,2456.9 858.2,2456.9 860.2,2457.0 862.2,2457.0 864.2,2457.1 866.2,2457.1 868.2,2457.2 870.2,2457.2 872.2,2457.3 874.2,2457.3 876.2,2457.4 878.2,2457.4 880.2,2457.5 882.2,2457.5 884.2,2457.6 886.2,2457.6 888.2,2457.6 890.2,2457.7 892.2,2457.7 894.2,2457.8 896.2,2457.8 898.2,2457.9 900.2,2457.9 902.2,2458.0 904.2,2458.0 906.2,2458.1 908.2,2458.1 910.2,2458.1 912.2,2458.2 914.2,2458.2 916.2,2458.3 918.2,2458.3 920.2,2458.4 922.2,2458.4 924.2,2458.4 926.2,2458.5 928.2,2458.5 930.2,2458.6 932.2,2458.6 934.2,2458.6 936.2,2458.7 938.2,2458.7 940.2,2458.7 942.3,2458.8 944.3,2458.8 946.3,2458.9 948.3,2458.9 950.3,2458.9 952.3,2459.0 954.3,2459.0 956.3,2459.0 958.3,2459.1 960.3,2459.1 962.3,2459.1 964.3,2459.2 966.3,2459.2 968.3,2459.2 970.3,2459.3 972.3,2459.3 974.3,2459.3 976.3,2459.3 978.3,2459.4 980.3,2459.4 982.3,2459.4 984.3,2459.4 986.3,2459.5 988.3,2459.5 990.3,2459.5 992.3,2459.5 994.3,2459.5 996.3,2459.6 998.3,2459.6 1000.3,2459.6 1002.3,2459.6 1004.3,2459.6 1006.3,2459.6 1008.3,2459.6 1010.3,2459.6 1012.3,2459.7 1014.3,2459.7 1016.3,2459.7 1018.3,2459.7 1020.3,2459.7 1022.3,2459.7 1024.3,2459.7 1026.3,2459.7 1028.3,2459.7 1030.3,2459.7 1032.3,2459.7 1034.3,2459.7 1036.3,2459.7 1038.3,2459.7 1040.3,2459.7 1042.3,2459.7 1044.3,2459.7 1046.4,2459.8 1048.4,2459.8 1050.4,2459.8 1052.4,2459.8 1054.4,2459.8 1056.4,2459.8 1058.4,2459.8 1060.4,2459.8 1062.4,2459.8 1064.4,2459.8 1066.4,2459.8 1068.4,2459.8 1070.4,2459.8 1072.4,2459.8 1074.4,2459.8 1076.4,2459.8 1078.4,2459.8 1080.4,2459.8 1082.4,2459.8 1084.4,2459.8 1086.4,2459.9 1088.4,2459.9 1090.4,2459.9 1092.4,2459.9 1094.4,2459.9 1096.4,2459.9 1098.4,2459.9 1100.4,2459.9 1102.4,2459.9 1104.4,2459.9 1106.4,2459.9 1108.4,2459.9 1110.4,2459.9 1112.4,2460.0 1114.4,2460.0 1116.4,2460.0 1118.4,2460.0 1120.4,2460.0 1122.4,2460.0 1124.4,2460.0 1126.4,2460.0 1128.4,2460.1 1130.4,2460.1 1132.4,2460.1 1134.4,2460.1 1136.4,2460.1 1138.4,2460.2 1140.4,2460.2 1142.4,2460.2 1144.4,2460.3 1146.4,2460.3 1148.4,2460.3 1150.5,2460.4 1152.5,2460.4 1154.5,2460.4 1156.5,2460.5 1158.5,2460.5 1160.5,2460.6 1162.5,2460.6 1164.5,2460.6 1166.5,2460.7 1168.5,2460.7 1170.5,2460.8 1172.5,2460.8 1174.5,2460.9 1176.5,2460.9 1178.5,2461.0 1180.5,2461.0 1182.5,2461.1 1184.5,2461.1 1186.5,2461.2 1188.5,2461.2 1190.5,2461.3 1192.5,2461.4 1194.5,2461.4 1196.5,2461.5 1198.5,2461.5 1200.5,2461.6 1202.5,2461.6 1204.5,2461.7 1206.5,2461.8 1208.5,2461.8 1210.5,2461.9 1212.5,2461.9 1214.5,2462.0 1216.5,2462.1 1218.5,2462.1 1220.5,2462.2 1222.5,2462.2 1224.5,2462.3 1226.5,2462.4 1228.5,2462.4 1230.5,2462.5 1232.5,2462.5 1234.5,2462.6 1236.5,2462.7 1238.5,2462.7 1240.5,2462.8 1242.5,2462.9 1244.5,2463.0 1246.5,2463.1 1248.5,2463.1 1250.5,2463.2 1252.5,2463.3 1254.6,2463.4 1256.6,2463.5 1258.6,2463.6 1260.6,2463.7 1262.6,2463.8 1264.6,2463.9 1266.6,2464.0 1268.6,2464.1 1270.6,2464.2 1272.6,2464.3 1274.6,2464.4 1276.6,2464.5 1278.6,2464.6 1280.6,2464.7 1282.6,2464.8 1284.6,2464.9 1286.6,2465.0 1288.6,2465.1 1290.6,2465.2 1292.6,2465.3 1294.6,2465.4 1296.6,2465.5 1298.6,2465.6 1300.6,2465.7 1302.6,2465.8 1304.6,2465.9 1306.6,2466.0 1308.6,2466.1 1310.6,2466.2 1312.6,2466.3 1314.6,2466.4 1316.6,2466.5 1318.6,2466.6 1320.6,2466.7 1322.6,2466.8 1324.6,2466.9 1326.6,2467.0 1328.6,2467.0 1330.6,2467.1 1332.6,2467.2 1334.6,2467.3 1336.6,2467.3 1338.6,2467.4 1340.6,2467.5 1342.6,2467.5 1344.6,2467.6 1346.6,2467.7 1348.6,2467.7 1350.6,2467.8 1352.6,2467.9 1354.6,2467.9 1356.6,2468.0 1358.7,2468.0 1360.7,2468.1 1362.7,2468.1 1364.7,2468.2 1366.7,2468.3 1368.7,2468.3 1370.7,2468.4 1372.7,2468.4 1374.7,2468.5 1376.7,2468.5 1378.7,2468.6 1380.7,2468.6 1382.7,2468.7 1384.7,2468.7 1386.7,2468.8 1388.7,2468.8 1390.7,2468.9 1392.7,2468.9 1394.7,2469.0 1396.7,2469.0 1398.7,2469.1 1400.7,2469.1 1402.7,2469.2 1404.7,2469.2 1406.7,2469.3 1408.7,2469.3 1410.7,2469.4 1412.7,2469.4 1414.7,2469.4 1416.7,2469.5 1418.7,2469.5 1420.7,2469.6 1422.7,2469.6 1424.7,2469.7 1426.7,2469.7 1428.7,2469.7 1430.7,2469.8 1432.7,2469.8 1434.7,2469.9 1436.7,2469.9 1438.7,2470.0 1440.7,2470.0 1442.7,2470.0 1444.7,2470.1 1446.7,2470.1 1448.7,2470.1 1450.7,2470.2 1452.7,2470.2 1454.7,2470.3 1456.7,2470.3 1458.7,2470.3 1460.7,2470.4 1462.8,2470.4 1464.8,2470.4 1466.8,2470.5 1468.8,2470.5 1470.8,2470.6 1472.8,2470.6 1474.8,2470.6 1476.8,2470.7 1478.8,2470.7 1480.8,2470.7 1482.8,2470.8 1484.8,2470.8 1486.8,2470.8 1488.8,2470.9 1490.8,2470.9 1492.8,2470.9 1494.8,2471.0 1496.8,2471.0 1498.8,2471.0 1500.8,2471.1 1502.8,2471.1 1504.8,2471.1 1506.8,2471.2 1508.8,2471.2 1510.8,2471.2 1512.8,2471.3 1514.8,2471.3 1516.8,2471.3 1518.8,2471.4 1520.8,2471.4 1522.8,2471.4 1524.8,2471.4 1526.8,2471.5 1528.8,2471.5 1530.8,2471.5 1532.8,2471.6 1534.8,2471.6 1536.8,2471.6 1538.8,2471.6 1540.8,2471.7 1542.8,2471.7 1544.8,2471.7 1546.8,2471.7 1548.8,2471.8 1550.8,2471.8 1552.8,2471.8 1554.8,2471.8 1556.8,2471.8 1558.8,2471.9 1560.8,2471.9 1562.8,2471.9 1564.8,2471.9 1566.9,2471.9 1568.9,2472.0 1570.9,2472.0 1572.9,2472.0 1574.9,2472.0 1576.9,2472.0 1578.9,2472.1 1580.9,2472.1 1582.9,2472.1 1584.9,2472.1 1586.9,2472.1 1588.9,2472.2 1590.9,2472.2 1592.9,2472.2 1594.9,2472.2 1596.9,2472.2 1598.9,2472.3 1600.9,2472.3 1602.9,2472.3 1604.9,2472.3 1606.9,2472.3 1608.9,2472.3 1610.9,2472.4 1612.9,2472.4 1614.9,2472.4 1616.9,2472.4 1618.9,2472.4 1620.9,2472.4 1622.9,2472.5 1624.9,2472.5 1626.9,2472.5 1628.9,2472.5 1630.9,2472.5 1632.9,2472.5 1634.9,2472.6 1636.9,2472.6 1638.9,2472.6 1640.9,2472.6 1642.9,2472.6 1644.9,2472.6 1646.9,2472.6 1648.9,2472.7 1650.9,2472.7 1652.9,2472.7 1654.9,2472.7 1656.9,2472.7 1658.9,2472.7 1660.9,2472.7 1662.9,2472.8 1664.9,2472.8 1666.9,2472.8 1668.9,2472.8 1671.0,2472.8 1673.0,2472.8 1675.0,2472.8 1677.0,2472.8 1679.0,2472.8 1681.0,2472.9 1683.0,2472.9 1685.0,2472.9 1687.0,2472.9 1689.0,2472.9 1691.0,2472.9 1693.0,2472.9 1695.0,2472.9 1697.0,2472.9 1699.0,2472.9 1701.0,2472.9 1703.0,2473.0 1705.0,2473.0 1707.0,2473.0 1709.0,2473.0 1711.0,2473.0 1713.0,2473.0 1715.0,2473.0 1717.0,2473.0 1719.0,2473.0 1721.0,2473.0"/>
<polyline fill="none" stroke="#0000ff" stroke-width="4.20" stroke-linejoin="round" stroke-linecap="butt" points="161.5,2296.9 163.5,2296.9 165.5,2296.8 167.5,2296.8 169.5,2296.7 171.5,2296.6 173.5,2296.4 175.5,2296.3 177.5,2296.1 179.5,2296.0 181.5,2295.8 183.5,2295.6 185.5,2295.3 187.5,2295.1 189.5,2294.8 191.5,2294.6 193.5,2294.3 195.5,2294.0 197.5,2293.7 199.5,2293.4 201.5,2293.0 203.5,2292.7 205.5,2292.3 207.5,2291.9 209.5,2291.5 211.5,2291.1 213.6,2290.7 215.6,2290.3 217.6,2289.9 219.6,2289.4 221.6,2289.0 223.6,2288.5 225.6,2288.0 227.6,2287.5 229.6,2287.0 231.6,2286.5 233.6,2286.0 235.6,2285.5 237.6,2284.9 239.6,2284.4 241.6,2283.9 243.6,2283.3 245.6,2282.7 247.6,2282.2 249.6,2281.6 251.6,2281.0 253.6,2280.4 255.6,2279.8 257.6,2279.2 259.6,2278.6 261.6,2278.0 263.6,2277.4 265.6,2276.8 267.6,2276.1 269.6,2275.5 271.6,2274.9 273.6,2274.2 275.6,2273.6 277.6,2272.9 279.6,2272.3 281.6,2271.6 283.6,2270.9 285.6,2270.2 287.6,2269.5 289.6,2268.8 291.6,2268.1 293.6,2267.4 295.6,2266.7 297.6,2265.9 299.6,2265.2 301.6,2264.4 303.6,2263.7 305.6,2262.9 307.6,2262.1 309.6,2261.3 311.6,2260.5 313.6,2259.7 315.6,2258.9 317.7,2258.0 319.7,2257.2 321.7,2256.3 323.7,2255.4 325.7,2254.5 327.7,2253.6 329.7,2252.7 331.7,2251.8 333.7,2250.8 335.7,2249.9 337.7,2248.9 339.7,2247.9 341.7,2246.9 343.7,2245.9 345.7,2244.8 347.7,2243.8 349.7,2242.7 351.7,2241.6 353.7,2240.5 355.7,2239.4 357.7,2238.2 359.7,2237.1 361.7,2235.9 363.7,2234.7 365.7,2233.5 367.7,2232.3 369.7,2231.0 371.7,2229.8 373.7,2228.5 375.7,2227.2 377.7,2225.9 379.7,2224.5 381.7,2223.2 383.7,2221.8 385.7,2220.4 387.7,2219.0 389.7,2217.6 391.7,2216.1 393.7,2214.7 395.7,2213.2 397.7,2211.7 399.7,2210.2 401.7,2208.7 403.7,2207.1 405.7,2205.6 407.7,2204.0 409.7,2202.4 411.7,2200.8 413.7,2199.2 415.7,2197.5 417.7,2195.9 419.7,2194.2 421.8,2192.5 423.8,2190.9 425.8,2189.2 427.8,2187.5 429.8,2185.8 431.8,2184.1 433.8,2182.4 435.8,2180.8 437.8,2179.1 439.8,2177.5 441.8,2175.8 443.8,2174.3 445.8,2172.7 447.8,2171.1 449.8,2169.6 451.8,2168.2 453.8,2166.7 455.8,2165.3 457.8,2164.0 459.8,2162.7 461.8,2161.4 463.8,2160.2 465.8,2159.1 467.8,2158.0 469.8,2157.0 471.8,2156.0 473.8,2155.1 475.8,2154.3 477.8,2153.5 479.8,2152.9 481.8,2152.2 483.8,2151.7 485.8,2151.2 487.8,2150.8 489.8,2150.5 491.8,2150.3 493.8,2150.1 495.8,2150.1 497.8,2150.1 499.8,2150.2 501.8,2150.3 503.8,2150.6 505.8,2151.0 507.8,2151.4 509.8,2152.0 511.8,2152.6 513.8,2153.3 515.8,2154.1 517.8,2155.1 519.8,2156.1 521.8,2157.2 523.8,2158.4 525.9,2159.6 527.9,2161.0 529.9,2162.4 531.9,2163.9 533.9,2165.5 535.9,2167.2 537.9,2168.9 539.9,2170.6 541.9,2172.5 543.9,2174.4 545.9,2176.3 547.9,2178.3 549.9,2180.3 551.9,2182.4 553.9,2184.5 555.9,2186.6 557.9,2188.8 559.9,2191.0 561.9,2193.3 563.9,2195.5 565.9,2197.8 567.9,2200.1 569.9,2202.4 571.9,2204.7 573.9,2207.1 575.9,2209.4 577.9,2211.7 579.9,2214.0 581.9,2216.4 583.9,2218.7 585.9,2221.0 587.9,2223.3 589.9,2225.5 591.9,2227.8 593.9,2230.0 595.9,2232.2 597.9,2234.4 599.9,2236.5 601.9,2238.6 603.9,2240.7 605.9,2242.7 607.9,2244.6 609.9,2246.5 611.9,2248.4 613.9,2250.2 615.9,2252.0 617.9,2253.7 619.9,2255.4 621.9,2257.0 623.9,2258.6 625.9,2260.1 627.9,2261.6 630.0,2263.1 632.0,2264.5 634.0,2265.9 636.0,2267.3 638.0,2268.6 640.0,2269.8 642.0,2271.1 644.0,2272.3 646.0,2273.5 648.0,2274.6 650.0,2275.7 652.0,2276.8 654.0,2277.9 656.0,2278.9 658.0,2279.9 660.0,2280.9 662.0,2281.9 664.0,2282.8 666.0,2283.7 668.0,2284.6 670.0,2285.5 672.0,2286.4 674.0,2287.2 676.0,2288.0 678.0,2288.8 680.0,2289.6 682.0,2290.3 684.0,2291.1 686.0,2291.8 688.0,2292.5 690.0,2293.2 692.0,2293.9 694.0,2294.5 696.0,2295.2 698.0,2295.8 700.0,2296.4 702.0,2297.0 704.0,2297.6 706.0,2298.2 708.0,2298.8 710.0,2299.3 712.0,2299.8 714.0,2300.4 716.0,2300.9 718.0,2301.4 720.0,2301.9 722.0,2302.4 724.0,2302.9 726.0,2303.4 728.0,2303.8 730.0,2304.3 732.0,2304.7 734.1,2305.1 736.1,2305.6 738.1,2306.0 740.1,2306.4 742.1,2306.8 744.1,2307.1 746.1,2307.5 748.1,2307.9 750.1,2308.2 752.1,2308.6 754.1,2308.9 756.1,2309.3 758.1,2309.6 760.1,2309.9 762.1,2310.2 764.1,2310.5 766.1,2310.8 768.1,2311.1 770.1,2311.4 772.1,2311.6 774.1,2311.9 776.1,2312.2 778.1,2312.4 780.1,2312.6 782.1,2312.9 784.1,2313.1 786.1,2313.3 788.1,2313.5 790.1,2313.7 792.1,2313.9 794.1,2314.1 796.1,2314.3 798.1,2314.5 800.1,2314.7 802.1,2314.9 804.1,2315.0 806.1,2315.2 808.1,2315.3 810.1,2315.5 812.1,2315.6 814.1,2315.8 816.1,2315.9 818.1,2316.0 820.1,2316.2 822.1,2316.3 824.1,2316.4 826.1,2316.5 828.1,2316.6 830.1,2316.7 832.1,2316.8 834.1,2316.9 836.1,2317.0 838.2,2317.1 840.2,2317.2 842.2,2317.3 844.2,2317.3 846.2,2317.4 848.2,2317.5 850.2,2317.5 852.2,2317.6 854.2,2317.7 856.2,2317.7 858.2,2317.8 860.2,2317.8 862.2,2317.9 864.2,2317.9 866.2,2318.0 868.2,2318.0 870.2,2318.1 872.2,2318.1 874.2,2318.1 876.2,2318.2 878.2,2318.2 880.2,2318.3 882.2,2318.3 884.2,2318.3 886.2,2318.4 888.2,2318.4 890.2,2318.4 892.2,2318.5 894.2,2318.5 896.2,2318.6 898.2,2318.6 900.2,2318.6 902.2,2318.7 904.2,2318.7 906.2,2318.8 908.2,2318.8 910.2,2318.8 912.2,2318.9 914.2,2318.9 916.2,2319.0 918.2,2319.0 920.2,2319.0 922.2,2319.1 924.2,2319.1 926.2,2319.2 928.2,2319.2 930.2,2319.2 932.2,2319.3 934.2,2319.3 936.2,2319.4 938.2,2319.4 940.2,2319.5 942.3,2319.5 944.3,2319.5 946.3,2319.6 948.3,2319.6 950.3,2319.6 952.3,2319.7 954.3,2319.7 956.3,2319.8 958.3,2319.8 960.3,2319.8 962.3,2319.9 964.3,2319.9 966.3,2319.9 968.3,2320.0 970.3,2320.0 972.3,2320.0 974.3,2320.1 976.3,2320.1 978.3,2320.1 980.3,2320.2 982.3,2320.2 984.3,2320.2 986.3,2320.3 988.3,2320.3 990.3,2320.3 992.3,2320.4 994.3,2320.4 996.3,2320.4 998.3,2320.5 1000.3,2320.5 1002.3,2320.5 1004.3,2320.6 1006.3,2320.6 1008.3,2320.6 1010.3,2320.7 1012.3,2320.7 1014.3,2320.7 1016.3,2320.8 1018.3,2320.8 1020.3,2320.8 1022.3,2320.8 1024.3,2320.9 1026.3,2320.9 1028.3,2320.9 1030.3,2321.0 1032.3,2321.0 1034.3,2321.0 1036.3,2321.1 1038.3,2321.1 1040.3,2321.1 1042.3,2321.2 1044.3,2321.2 1046.4,2321.2 1048.4,2321.3 1050.4,2321.3 1052.4,2321.3 1054.4,2321.3 1056.4,2321.4 1058.4,2321.4 1060.4,2321.4 1062.4,2321.5 1064.4,2321.5 1066.4,2321.5 1068.4,2321.6 1070.4,2321.6 1072.4,2321.7 1074.4,2321.7 1076.4,2321.7 1078.4,2321.8 1080.4,2321.8 1082.4,2321.8 1084.4,2321.9 1086.4,2321.9 1088.4,2321.9 1090.4,2322.0 1092.4,2322.0 1094.4,2322.1 1096.4,2322.1 1098.4,2322.1 1100.4,2322.2 1102.4,2322.2 1104.4,2322.3 1106.4,2322.3 1108.4,2322.3 1110.4,2322.4 1112.4,2322.4 1114.4,2322.5 1116.4,2322.5 1118.4,2322.5 1120.4,2322.6 1122.4,2322.6 1124.4,2322.7 1126.4,2322.7 1128.4,2322.8 1130.4,2322.8 1132.4,2322.9 1134.4,2322.9 1136.4,2323.0 1138.4,2323.0 1140.4,2323.1 1142.4,2323.1 1144.4,2323.2 1146.4,2323.3 1148.4,2323.3 1150.5,2323.4 1152.5,2323.4 1154.5,2323.5 1156.5,2323.6 1158.5,2323.6 1160.5,2323.7 1162.5,2323.7 1164.5,2323.8 1166.5,2323.9 1168.5,2323.9 1170.5,2324.0 1172.5,2324.1 1174.5,2324.1 1176.5,2324.2 1178.5,2324.3 1180.5,2324.3 1182.5,2324.4 1184.5,2324.5 1186.5,2324.5 1188.5,2324.6 1190.5,2324.7 1192.5,2324.7 1194.5,2324.8 1196.5,2324.9 1198.5,2324.9 1200.5,2325.0 1202.5,2325.1 1204.5,2325.1 1206.5,2325.2 1208.5,2325.3 1210.5,2325.3 1212.5,2325.4 1214.5,2325.5 1216.5,2325.5 1218.5,2325.6 1220.5,2325.7 1222.5,2325.7 1224.5,2325.8 1226.5,2325.9 1228.5,2325.9 1230.5,2326.0 1232.5,2326.0 1234.5,2326.1 1236.5,2326.2 1238.5,2326.2 1240.5,2326.3 1242.5,2326.4 1244.5,2326.4 1246.5,2326.5 1248.5,2326.6 1250.5,2326.6 1252.5,2326.7 1254.6,2326.8 1256.6,2326.8 1258.6,2326.9 1260.6,2327.0 1262.6,2327.0 1264.6,2327.1 1266.6,2327.2 1268.6,2327.3 1270.6,2327.3 1272.6,2327.4 1274.6,2327.5 1276.6,2327.5 1278.6,2327.6 1280.6,2327.7 1282.6,2327.7 1284.6,2327.8 1286.6,2327.9 1288.6,2327.9 1290.6,2328.0 1292.6,2328.1 1294.6,2328.1 1296.6,2328.2 1298.6,2328.3 1300.6,2328.3 1302.6,2328.4 1304.6,2328.5 1306.6,2328.5 1308.6,2328.6 1310.6,2328.7 1312.6,2328.7 1314.6,2328.8 1316.6,2328.9 1318.6,2328.9 1320.6,2329.0 1322.6,2329.1 1324.6,2329.1 1326.6,2329.2 1328.6,2329.2 1330.6,2329.3 1332.6,2329.4 1334.6,2329.4 1336.6,2329.5 1338.6,2329.5 1340.6,2329.6 1342.6,2329.6 1344.6,2329.7 1346.6,2329.7 1348.6,2329.8 1350.6,2329.9 1352.6,2329.9 1354.6,2330.0 1356.6,2330.0 1358.7,2330.1 1360.7,2330.1 1362.7,2330.2 1364.7,2330.2 1366.7,2330.3 1368.7,2330.3 1370.7,2330.4 1372.7,2330.4 1374.7,2330.5 1376.7,2330.5 1378.7,2330.6 1380.7,2330.6 1382.7,2330.7 1384.7,2330.7 1386.7,2330.8 1388.7,2330.8 1390.7,2330.9 1392.7,2330.9 1394.7,2331.0 1396.7,2331.0 1398.7,2331.1 1400.7,2331.1 1402.7,2331.2 1404.7,2331.2 1406.7,2331.3 1408.7,2331.3 1410.7,2331.3 1412.7,2331.4 1414.7,2331.4 1416.7,2331.5 1418.7,2331.5 1420.7,2331.6 1422.7,2331.6 1424.7,2331.7 1426.7,2331.7 1428.7,2331.7 1430.7,2331.8 1432.7,2331.8 1434.7,2331.9 1436.7,2331.9 1438.7,2331.9 1440.7,2332.0 1442.7,2332.0 1444.7,2332.1 1446.7,2332.1 1448.7,2332.1 1450.7,2332.2 1452.7,2332.2 1454.7,2332.3 1456.7,2332.3 1458.7,2332.3 1460.7,2332.4 1462.8,2332.4 1464.8,2332.4 1466.8,2332.5 1468.8,2332.5 1470.8,2332.6 1472.8,2332.6 1474.8,2332.6 1476.8,2332.7 1478.8,2332.7 1480.8,2332.7 1482.8,2332.8 1484.8,2332.8 1486.8,2332.9 1488.8,2332.9 1490.8,2332.9 1492.8,2333.0 1494.8,2333.0 1496.8,2333.0 1498.8,2333.1 1500.8,2333.1 1502.8,2333.1 1504.8,2333.2 1506.8,2333.2 1508.8,2333.2 1510.8,2333.3 1512.8,2333.3 1514.8,2333.3 1516.8,2333.4 1518.8,2333.4 1520.8,2333.4 1522.8,2333.4 1524.8,2333.5 1526.8,2333.5 1528.8,2333.5 1530.8,2333.6 1532.8,2333.6 1534.8,2333.6 1536.8,2333.7 1538.8,2333.7 1540.8,2333.7 1542.8,2333.7 1544.8,2333.8 1546.8,2333.8 1548.8,2333.8 1550.8,2333.9 1552.8,2333.9 1554.8,2333.9 1556.8,2333.9 1558.8,2334.0 1560.8,2334.0 1562.8,2334.0 1564.8,2334.0 1566.9,2334.1 1568.9,2334.1 1570.9,2334.1 1572.9,2334.1 1574.9,2334.2 1576.9,2334.2 1578.9,2334.2 1580.9,2334.2 1582.9,2334.3 1584.9,2334.3 1586.9,2334.3 1588.9,2334.3 1590.9,2334.4 1592.9,2334.4 1594.9,2334.4 1596.9,2334.4 1598.9,2334.5 1600.9,2334.5 1602.9,2334.5 1604.9,2334.5 1606.9,2334.5 1608.9,2334.6 1610.9,2334.6 1612.9,2334.6 1614.9,2334.6 1616.9,2334.7 1618.9,2334.7 1620.9,2334.7 1622.9,2334.7 1624.9,2334.7 1626.9,2334.8 1628.9,2334.8 1630.9,2334.8 1632.9,2334.8 1634.9,2334.9 1636.9,2334.9 1638.9,2334.9 1640.9,2334.9 1642.9,2334.9 1644.9,2335.0 1646.9,2335.0 1648.9,2335.0 1650.9,2335.0 1652.9,2335.0 1654.9,2335.1 1656.9,2335.1 1658.9,2335.1 1660.9,2335.1 1662.9,2335.1 1664.9,2335.2 1666.9,2335.2 1668.9,2335.2 1671.0,2335.2 1673.0,2335.2 1675.0,2335.2 1677.0,2335.3 1679.0,2335.3 1681.0,2335.3 1683.0,2335.3 1685.0,2335.3 1687.0,2335.3 1689.0,2335.4 1691.0,2335.4 1693.0,2335.4 1695.0,2335.4 1697.0,2335.4 1699.0,2335.4 1701.0,2335.5 1703.0,2335.5 1705.0,2335.5 1707.0,2335.5 1709.0,2335.5 1711.0,2335.5 1713.0,2335.5 1715.0,2335.6 1717.0,2335.6 1719.0,2335.6 1721.0,2335.6"/>
<polyline fill="none" stroke="#ff0000" stroke-width="4.20" stroke-linejoin="round" stroke-linecap="butt" points="161.5,2009.5 163.5,2009.3 165.5,2009.1 167.5,2008.9 169.5,2008.7 171.5,2008.5 173.5,2008.4 175.5,2008.2 177.5,2008.1 179.5,2008.0 181.5,2007.8 183.5,2007.7 185.5,2007.6 187.5,2007.5 189.5,2007.4 191.5,2007.4 193.5,2007.3 195.5,2007.2 197.5,2007.2 199.5,2007.1 201.5,2007.1 203.5,2007.1 205.5,2007.0 207.5,2007.0 209.5,2007.0 211.5,2007.0 213.6,2007.0 215.6,2007.0 217.6,2006.9 219.6,2006.9 221.6,2006.9 223.6,2006.9 225.6,2007.0 227.6,2007.0 229.6,2007.0 231.6,2007.0 233.6,2007.0 235.6,2007.0 237.6,2007.0 239.6,2007.0 241.6,2007.0 243.6,2007.0 245.6,2007.0 247.6,2007.0 249.6,2007.0 251.6,2007.0 253.6,2007.0 255.6,2007.0 257.6,2006.9 259.6,2006.9 261.6,2006.9 263.6,2006.8 265.6,2006.8 267.6,2006.8 269.6,2006.7 271.6,2006.6 273.6,2006.6 275.6,2006.5 277.6,2006.4 279.6,2006.3 281.6,2006.2 283.6,2006.1 285.6,2006.0 287.6,2005.9 289.6,2005.7 291.6,2005.6 293.6,2005.4 295.6,2005.2 297.6,2005.0 299.6,2004.9 301.6,2004.6 303.6,2004.4 305.6,2004.2 307.6,2003.9 309.6,2003.7 311.6,2003.4 313.6,2003.1 315.6,2002.8 317.7,2002.5 319.7,2002.2 321.7,2001.9 323.7,2001.6 325.7,2001.2 327.7,2000.9 329.7,2000.5 331.7,2000.2 333.7,1999.8 335.7,1999.4 337.7,1999.0 339.7,1998.7 341.7,1998.3 343.7,1997.9 345.7,1997.5 347.7,1997.1 349.7,1996.7 351.7,1996.3 353.7,1995.9 355.7,1995.5 357.7,1995.1 359.7,1994.7 361.7,1994.4 363.7,1994.0 365.7,1993.6 367.7,1993.2 369.7,1992.8 371.7,1992.4 373.7,1992.1 375.7,1991.7 377.7,1991.4 379.7,1991.0 381.7,1990.7 383.7,1990.3 385.7,1990.0 387.7,1989.7 389.7,1989.4 391.7,1989.1 393.7,1988.8 395.7,1988.5 397.7,1988.2 399.7,1988.0 401.7,1987.7 403.7,1987.5 405.7,1987.3 407.7,1987.1 409.7,1986.9 411.7,1986.7 413.7,1986.6 415.7,1986.4 417.7,1986.3 419.7,1986.2 421.8,1986.1 423.8,1986.0 425.8,1986.0 427.8,1985.9 429.8,1985.9 431.8,1985.9 433.8,1986.0 435.8,1986.0 437.8,1986.1 439.8,1986.2 441.8,1986.3 443.8,1986.5 445.8,1986.7 447.8,1986.9 449.8,1987.2 451.8,1987.5 453.8,1987.9 455.8,1988.3 457.8,1988.7 459.8,1989.2 461.8,1989.7 463.8,1990.3 465.8,1991.0 467.8,1991.7 469.8,1992.4 471.8,1993.2 473.8,1994.1 475.8,1995.0 477.8,1996.0 479.8,1997.0 481.8,1998.2 483.8,1999.4 485.8,2000.6 487.8,2001.9 489.8,2003.3 491.8,2004.8 493.8,2006.3 495.8,2007.9 497.8,2009.5 499.8,2011.1 501.8,2012.8 503.8,2014.6 505.8,2016.3 507.8,2018.1 509.8,2020.0 511.8,2021.8 513.8,2023.7 515.8,2025.6 517.8,2027.5 519.8,2029.4 521.8,2031.4 523.8,2033.3 525.9,2035.2 527.9,2037.1 529.9,2039.1 531.9,2041.0 533.9,2042.8 535.9,2044.7 537.9,2046.6 539.9,2048.4 541.9,2050.2 543.9,2052.0 545.9,2053.7 547.9,2055.5 549.9,2057.2 551.9,2058.9 553.9,2060.5 555.9,2062.1 557.9,2063.8 559.9,2065.3 561.9,2066.9 563.9,2068.4 565.9,2069.9 567.9,2071.3 569.9,2072.8 571.9,2074.2 573.9,2075.5 575.9,2076.9 577.9,2078.2 579.9,2079.5 581.9,2080.7 583.9,2081.9 585.9,2083.1 587.9,2084.2 589.9,2085.3 591.9,2086.4 593.9,2087.4 595.9,2088.4 597.9,2089.4 599.9,2090.3 601.9,2091.2 603.9,2092.1 605.9,2092.9 607.9,2093.8 609.9,2094.6 611.9,2095.3 613.9,2096.1 615.9,2096.8 617.9,2097.5 619.9,2098.1 621.9,2098.8 623.9,2099.4 625.9,2100.0 627.9,2100.5 630.0,2101.1 632.0,2101.6 634.0,2102.1 636.0,2102.6 638.0,2103.1 640.0,2103.5 642.0,2104.0 644.0,2104.4 646.0,2104.8 648.0,2105.2 650.0,2105.6 652.0,2106.0 654.0,2106.3 656.0,2106.6 658.0,2107.0 660.0,2107.3 662.0,2107.6 664.0,2107.9 666.0,2108.2 668.0,2108.5 670.0,2108.8 672.0,2109.0 674.0,2109.3 676.0,2109.6 678.0,2109.8 680.0,2110.1 682.0,2110.3 684.0,2110.6 686.0,2110.8 688.0,2111.0 690.0,2111.3 692.0,2111.5 694.0,2111.7 696.0,2111.9 698.0,2112.2 700.0,2112.4 702.0,2112.6 704.0,2112.8 706.0,2113.0 708.0,2113.2 710.0,2113.4 712.0,2113.6 714.0,2113.8 716.0,2114.0 718.0,2114.1 720.0,2114.3 722.0,2114.5 724.0,2114.7 726.0,2114.8 728.0,2115.0 730.0,2115.2 732.0,2115.3 734.1,2115.5 736.1,2115.7 738.1,2115.8 740.1,2116.0 742.1,2116.1 744.1,2116.3 746.1,2116.4 748.1,2116.5 750.1,2116.7 752.1,2116.8 754.1,2116.9 756.1,2117.1 758.1,2117.2 760.1,2117.3 762.1,2117.4 764.1,2117.6 766.1,2117.7 768.1,2117.8 770.1,2117.9 772.1,2118.0 774.1,2118.1 776.1,2118.2 778.1,2118.3 780.1,2118.5 782.1,2118.6 784.1,2118.7 786.1,2118.8 788.1,2118.8 790.1,2118.9 792.1,2119.0 794.1,2119.1 796.1,2119.2 798.1,2119.3 800.1,2119.4 802.1,2119.5 804.1,2119.6 806.1,2119.6 808.1,2119.7 810.1,2119.8 812.1,2119.9 814.1,2119.9 816.1,2120.0 818.1,2120.1 820.1,2120.2 822.1,2120.2 824.1,2120.3 826.1,2120.4 828.1,2120.4 830.1,2120.5 832.1,2120.6 834.1,2120.6 836.1,2120.7 838.2,2120.8 840.2,2120.8 842.2,2120.9 844.2,2120.9 846.2,2121.0 848.2,2121.1 850.2,2121.1 852.2,2121.2 854.2,2121.2 856.2,2121.3 858.2,2121.3 860.2,2121.4 862.2,2121.5 864.2,2121.5 866.2,2121.6 868.2,2121.6 870.2,2121.7 872.2,2121.7 874.2,2121.8 876.2,2121.8 878.2,2121.9 880.2,2121.9 882.2,2122.0 884.2,2122.1 886.2,2122.1 888.2,2122.2 890.2,2122.3 892.2,2122.3 894.2,2122.4 896.2,2122.4 898.2,2122.5 900.2,2122.5 902.2,2122.6 904.2,2122.7 906.2,2122.7 908.2,2122.8 910.2,2122.8 912.2,2122.9 914.2,2122.9 916.2,2123.0 918.2,2123.0 920.2,2123.1 922.2,2123.1 924.2,2123.2 926.2,2123.2 928.2,2123.3 930.2,2123.3 932.2,2123.4 934.2,2123.4 936.2,2123.5 938.2,2123.5 940.2,2123.6 942.3,2123.6 944.3,2123.7 946.3,2123.7 948.3,2123.8 950.3,2123.8 952.3,2123.9 954.3,2123.9 956.3,2124.0 958.3,2124.0 960.3,2124.0 962.3,2124.1 964.3,2124.1 966.3,2124.2 968.3,2124.2 970.3,2124.3 972.3,2124.3 974.3,2124.3 976.3,2124.4 978.3,2124.4 980.3,2124.5 982.3,2124.5 984.3,2124.5 986.3,2124.6 988.3,2124.6 990.3,2124.6 992.3,2124.7 994.3,2124.7 996.3,2124.8 998.3,2124.8 1000.3,2124.8 1002.3,2124.9 1004.3,2124.9 1006.3,2124.9 1008.3,2125.0 1010.3,2125.0 1012.3,2125.1 1014.3,2125.1 1016.3,2125.1 1018.3,2125.2 1020.3,2125.2 1022.3,2125.2 1024.3,2125.3 1026.3,2125.3 1028.3,2125.4 1030.3,2125.4 1032.3,2125.4 1034.3,2125.5 1036.3,2125.5 1038.3,2125.5 1040.3,2125.6 1042.3,2125.6 1044.3,2125.7 1046.4,2125.7 1048.4,2125.7 1050.4,2125.8 1052.4,2125.8 1054.4,2125.8 1056.4,2125.9 1058.4,2125.9 1060.4,2126.0 1062.4,2126.0 1064.4,2126.0 1066.4,2126.1 1068.4,2126.1 1070.4,2126.1 1072.4,2126.2 1074.4,2126.2 1076.4,2126.3 1078.4,2126.3 1080.4,2126.3 1082.4,2126.4 1084.4,2126.4 1086.4,2126.4 1088.4,2126.5 1090.4,2126.5 1092.4,2126.6 1094.4,2126.6 1096.4,2126.6 1098.4,2126.7 1100.4,2126.7 1102.4,2126.7 1104.4,2126.8 1106.4,2126.8 1108.4,2126.9 1110.4,2126.9 1112.4,2126.9 1114.4,2127.0 1116.4,2127.0 1118.4,2127.1 1120.4,2127.1 1122.4,2127.1 1124.4,2127.2 1126.4,2127.2 1128.4,2127.3 1130.4,2127.3 1132.4,2127.3 1134.4,2127.4 1136.4,2127.4 1138.4,2127.5 1140.4,2127.5 1142.4,2127.5 1144.4,2127.6 1146.4,2127.6 1148.4,2127.7 1150.5,2127.7 1152.5,2127.7 1154.5,2127.8 1156.5,2127.8 1158.5,2127.9 1160.5,2127.9 1162.5,2127.9 1164.5,2128.0 1166.5,2128.0 1168.5,2128.1 1170.5,2128.1 1172.5,2128.2 1174.5,2128.2 1176.5,2128.2 1178.5,2128.3 1180.5,2128.3 1182.5,2128.4 1184.5,2128.4 1186.5,2128.5 1188.5,2128.5 1190.5,2128.5 1192.5,2128.6 1194.5,2128.6 1196.5,2128.7 1198.5,2128.7 1200.5,2128.8 1202.5,2128.8 1204.5,2128.8 1206.5,2128.9 1208.5,2128.9 1210.5,2129.0 1212.5,2129.0 1214.5,2129.1 1216.5,2129.1 1218.5,2129.1 1220.5,2129.2 1222.5,2129.2 1224.5,2129.3 1226.5,2129.3 1228.5,2129.4 1230.5,2129.4 1232.5,2129.4 1234.5,2129.5 1236.5,2129.5 1238.5,2129.6 1240.5,2129.6 1242.5,2129.7 1244.5,2129.7 1246.5,2129.7 1248.5,2129.8 1250.5,2129.8 1252.5,2129.9 1254.6,2129.9 1256.6,2129.9 1258.6,2130.0 1260.6,2130.0 1262.6,2130.1 1264.6,2130.1 1266.6,2130.1 1268.6,2130.2 1270.6,2130.2 1272.6,2130.3 1274.6,2130.3 1276.6,2130.3 1278.6,2130.4 1280.6,2130.4 1282.6,2130.5 1284.6,2130.5 1286.6,2130.5 1288.6,2130.6 1290.6,2130.6 1292.6,2130.7 1294.6,2130.7 1296.6,2130.7 1298.6,2130.8 1300.6,2130.8 1302.6,2130.8 1304.6,2130.9 1306.6,2130.9 1308.6,2131.0 1310.6,2131.0 1312.6,2131.0 1314.6,2131.1 1316.6,2131.1 1318.6,2131.1 1320.6,2131.2 1322.6,2131.2 1324.6,2131.2 1326.6,2131.3 1328.6,2131.3 1330.6,2131.3 1332.6,2131.4 1334.6,2131.4 1336.6,2131.4 1338.6,2131.5 1340.6,2131.5 1342.6,2131.5 1344.6,2131.6 1346.6,2131.6 1348.6,2131.6 1350.6,2131.6 1352.6,2131.7 1354.6,2131.7 1356.6,2131.7 1358.7,2131.8 1360.7,2131.8 1362.7,2131.8 1364.7,2131.9 1366.7,2131.9 1368.7,2131.9 1370.7,2131.9 1372.7,2132.0 1374.7,2132.0 1376.7,2132.0 1378.7,2132.1 1380.7,2132.1 1382.7,2132.1 1384.7,2132.2 1386.7,2132.2 1388.7,2132.2 1390.7,2132.2 1392.7,2132.3 1394.7,2132.3 1396.7,2132.3 1398.7,2132.4 1400.7,2132.4 1402.7,2132.4 1404.7,2132.4 1406.7,2132.5 1408.7,2132.5 1410.7,2132.5 1412.7,2132.6 1414.7,2132.6 1416.7,2132.6 1418.7,2132.6 1420.7,2132.7 1422.7,2132.7 1424.7,2132.7 1426.7,2132.8 1428.7,2132.8 1430.7,2132.8 1432.7,2132.8 1434.7,2132.9 1436.7,2132.9 1438.7,2132.9 1440.7,2132.9 1442.7,2133.0 1444.7,2133.0 1446.7,2133.0 1448.7,2133.0 1450.7,2133.1 1452.7,2133.1 1454.7,2133.1 1456.7,2133.2 1458.7,2133.2 1460.7,2133.2 1462.8,2133.2 1464.8,2133.3 1466.8,2133.3 1468.8,2133.3 1470.8,2133.3 1472.8,2133.4 1474.8,2133.4 1476.8,2133.4 1478.8,2133.4 1480.8,2133.4 1482.8,2133.5 1484.8,2133.5 1486.8,2133.5 1488.8,2133.5 1490.8,2133.6 1492.8,2133.6 1494.8,2133.6 1496.8,2133.6 1498.8,2133.7 1500.8,2133.7 1502.8,2133.7 1504.8,2133.7 1506.8,2133.7 1508.8,2133.8 1510.8,2133.8 1512.8,2133.8 1514.8,2133.8 1516.8,2133.9 1518.8,2133.9 1520.8,2133.9 1522.8,2133.9 1524.8,2133.9 1526.8,2134.0 1528.8,2134.0 1530.8,2134.0 1532.8,2134.0 1534.8,2134.0 1536.8,2134.1 1538.8,2134.1 1540.8,2134.1 1542.8,2134.1 1544.8,2134.1 1546.8,2134.2 1548.8,2134.2 1550.8,2134.2 1552.8,2134.2 1554.8,2134.2 1556.8,2134.3 1558.8,2134.3 1560.8,2134.3 1562.8,2134.3 1564.8,2134.3 1566.9,2134.3 1568.9,2134.4 1570.9,2134.4 1572.9,2134.4 1574.9,2134.4 1576.9,2134.4 1578.9,2134.4 1580.9,2134.5 1582.9,2134.5 1584.9,2134.5 1586.9,2134.5 1588.9,2134.5 1590.9,2134.5 1592.9,2134.6 1594.9,2134.6 1596.9,2134.6 1598.9,2134.6 1600.9,2134.6 1602.9,2134.6 1604.9,2134.7 1606.9,2134.7 1608.9,2134.7 1610.9,2134.7 1612.9,2134.7 1614.9,2134.7 1616.9,2134.8 1618.9,2134.8 1620.9,2134.8 1622.9,2134.8 1624.9,2134.8 1626.9,2134.8 1628.9,2134.8 1630.9,2134.9 1632.9,2134.9 1634.9,2134.9 1636.9,2134.9 1638.9,2134.9 1640.9,2134.9 1642.9,2134.9 1644.9,2135.0 1646.9,2135.0 1648.9,2135.0 1650.9,2135.0 1652.9,2135.0 1654.9,2135.0 1656.9,2135.0 1658.9,2135.1 1660.9,2135.1 1662.9,2135.1 1664.9,2135.1 1666.9,2135.1 1668.9,2135.1 1671.0,2135.1 1673.0,2135.1 1675.0,2135.2 1677.0,2135.2 1679.0,2135.2 1681.0,2135.2 1683.0,2135.2 1685.0,2135.2 1687.0,2135.2 1689.0,2135.2 1691.0,2135.2 1693.0,2135.3 1695.0,2135.3 1697.0,2135.3 1699.0,2135.3 1701.0,2135.3 1703.0,2135.3 1705.0,2135.3 1707.0,2135.3 1709.0,2135.3 1711.0,2135.4 1713.0,2135.4 1715.0,2135.4 1717.0,2135.4 1719.0,2135.4 1721.0,2135.4"/>
<polyline fill="none" stroke="#008000" stroke-width="4.20" stroke-linejoin="round" stroke-linecap="butt" points="161.5,1888.0 163.5,1888.1 165.5,1888.2 167.5,1888.3 169.5,1888.4 171.5,1888.5 173.5,1888.6 175.5,1888.7 177.5,1888.8 179.5,1888.9 181.5,1889.0 183.5,1889.2 185.5,1889.3 187.5,1889.4 189.5,1889.6 191.5,1889.7 193.5,1889.8 195.5,1890.0 197.5,1890.1 199.5,1890.3 201.5,1890.4 203.5,1890.6 205.5,1890.7 207.5,1890.9 209.5,1891.1 211.5,1891.2 213.6,1891.4 215.6,1891.5 217.6,1891.7 219.6,1891.8 221.6,1892.0 223.6,1892.1 225.6,1892.3 227.6,1892.5 229.6,1892.6 231.6,1892.7 233.6,1892.9 235.6,1893.0 237.6,1893.2 239.6,1893.3 241.6,1893.4 243.6,1893.6 245.6,1893.7 247.6,1893.8 249.6,1893.9 251.6,1894.0 253.6,1894.1 255.6,1894.2 257.6,1894.3 259.6,1894.4 261.6,1894.5 263.6,1894.6 265.6,1894.7 267.6,1894.7 269.6,1894.8 271.6,1894.8 273.6,1894.9 275.6,1894.9 277.6,1894.9 279.6,1894.9 281.6,1895.0 283.6,1894.9 285.6,1894.9 287.6,1894.9 289.6,1894.9 291.6,1894.8 293.6,1894.8 295.6,1894.7 297.6,1894.7 299.6,1894.6 301.6,1894.5 303.6,1894.4 305.6,1894.3 307.6,1894.1 309.6,1894.0 311.6,1893.8 313.6,1893.7 315.6,1893.5 317.7,1893.3 319.7,1893.1 321.7,1893.0 323.7,1892.7 325.7,1892.5 327.7,1892.3 329.7,1892.1 331.7,1891.9 333.7,1891.6 335.7,1891.4 337.7,1891.1 339.7,1890.9 341.7,1890.6 343.7,1890.4 345.7,1890.1 347.7,1889.9 349.7,1889.6 351.7,1889.3 353.7,1889.1 355.7,1888.8 357.7,1888.5 359.7,1888.3 361.7,1888.0 363.7,1887.7 365.7,1887.5 367.7,1887.2 369.7,1887.0 371.7,1886.7 373.7,1886.4 375.7,1886.2 377.7,1886.0 379.7,1885.7 381.7,1885.5 383.7,1885.3 385.7,1885.0 387.7,1884.8 389.7,1884.6 391.7,1884.4 393.7,1884.2 395.7,1884.1 397.7,1883.9 399.7,1883.7 401.7,1883.6 403.7,1883.4 405.7,1883.3 407.7,1883.2 409.7,1883.1 411.7,1883.0 413.7,1882.9 415.7,1882.8 417.7,1882.8 419.7,1882.7 421.8,1882.7 423.8,1882.7 425.8,1882.7 427.8,1882.7 429.8,1882.8 431.8,1882.8 433.8,1882.9 435.8,1883.0 437.8,1883.1 439.8,1883.2 441.8,1883.4 443.8,1883.5 445.8,1883.7 447.8,1884.0 449.8,1884.2 451.8,1884.5 453.8,1884.8 455.8,1885.2 457.8,1885.5 459.8,1886.0 461.8,1886.4 463.8,1886.9 465.8,1887.4 467.8,1888.0 469.8,1888.6 471.8,1889.2 473.8,1889.9 475.8,1890.7 477.8,1891.4 479.8,1892.3 481.8,1893.2 483.8,1894.1 485.8,1895.1 487.8,1896.1 489.8,1897.2 491.8,1898.3 493.8,1899.5 495.8,1900.7 497.8,1901.9 499.8,1903.2 501.8,1904.5 503.8,1905.8 505.8,1907.1 507.8,1908.5 509.8,1909.9 511.8,1911.3 513.8,1912.7 515.8,1914.1 517.8,1915.5 519.8,1916.9 521.8,1918.4 523.8,1919.8 525.9,1921.2 527.9,1922.6 529.9,1924.0 531.9,1925.4 533.9,1926.7 535.9,1928.1 537.9,1929.4 539.9,1930.7 541.9,1931.9 543.9,1933.2 545.9,1934.4 547.9,1935.6 549.9,1936.8 551.9,1937.9 553.9,1939.0 555.9,1940.2 557.9,1941.2 559.9,1942.3 561.9,1943.4 563.9,1944.4 565.9,1945.4 567.9,1946.4 569.9,1947.4 571.9,1948.3 573.9,1949.2 575.9,1950.1 577.9,1951.0 579.9,1951.9 581.9,1952.8 583.9,1953.6 585.9,1954.4 587.9,1955.2 589.9,1956.0 591.9,1956.8 593.9,1957.6 595.9,1958.3 597.9,1959.0 599.9,1959.7 601.9,1960.4 603.9,1961.1 605.9,1961.8 607.9,1962.4 609.9,1963.1 611.9,1963.7 613.9,1964.3 615.9,1964.9 617.9,1965.5 619.9,1966.0 621.9,1966.6 623.9,1967.1 625.9,1967.7 627.9,1968.2 630.0,1968.7 632.0,1969.2 634.0,1969.7 636.0,1970.1 638.0,1970.6 640.0,1971.1 642.0,1971.5 644.0,1971.9 646.0,1972.4 648.0,1972.8 650.0,1973.2 652.0,1973.6 654.0,1974.0 656.0,1974.4 658.0,1974.7 660.0,1975.1 662.0,1975.5 664.0,1975.8 666.0,1976.1 668.0,1976.5 670.0,1976.8 672.0,1977.1 674.0,1977.5 676.0,1977.8 678.0,1978.1 680.0,1978.4 682.0,1978.7 684.0,1979.0 686.0,1979.3 688.0,1979.6 690.0,1979.8 692.0,1980.1 694.0,1980.4 696.0,1980.6 698.0,1980.9 700.0,1981.2 702.0,1981.4 704.0,1981.7 706.0,1981.9 708.0,1982.1 710.0,1982.4 712.0,1982.6 714.0,1982.8 716.0,1983.1 718.0,1983.3 720.0,1983.5 722.0,1983.7 724.0,1983.9 726.0,1984.1 728.0,1984.3 730.0,1984.5 732.0,1984.7 734.1,1984.9 736.1,1985.0 738.1,1985.2 740.1,1985.4 742.1,1985.6 744.1,1985.7 746.1,1985.9 748.1,1986.1 750.1,1986.2 752.1,1986.4 754.1,1986.5 756.1,1986.7 758.1,1986.8 760.1,1987.0 762.1,1987.1 764.1,1987.2 766.1,1987.4 768.1,1987.5 770.1,1987.6 772.1,1987.8 774.1,1987.9 776.1,1988.0 778.1,1988.1 780.1,1988.2 782.1,1988.3 784.1,1988.5 786.1,1988.6 788.1,1988.7 790.1,1988.8 792.1,1988.9 794.1,1989.0 796.1,1989.1 798.1,1989.2 800.1,1989.2 802.1,1989.3 804.1,1989.4 806.1,1989.5 808.1,1989.6 810.1,1989.7 812.1,1989.8 814.1,1989.8 816.1,1989.9 818.1,1990.0 820.1,1990.1 822.1,1990.1 824.1,1990.2 826.1,1990.3 828.1,1990.3 830.1,1990.4 832.1,1990.5 834.1,1990.5 836.1,1990.6 838.2,1990.7 840.2,1990.7 842.2,1990.8 844.2,1990.8 846.2,1990.9 848.2,1990.9 850.2,1991.0 852.2,1991.1 854.2,1991.1 856.2,1991.2 858.2,1991.2 860.2,1991.3 862.2,1991.3 864.2,1991.4 866.2,1991.4 868.2,1991.5 870.2,1991.5 872.2,1991.6 874.2,1991.6 876.2,1991.7 878.2,1991.7 880.2,1991.8 882.2,1991.8 884.2,1991.9 886.2,1992.0 888.2,1992.0 890.2,1992.1 892.2,1992.2 894.2,1992.2 896.2,1992.3 898.2,1992.4 900.2,1992.4 902.2,1992.5 904.2,1992.6 906.2,1992.6 908.2,1992.7 910.2,1992.8 912.2,1992.8 914.2,1992.9 916.2,1992.9 918.2,1993.0 920.2,1993.1 922.2,1993.1 924.2,1993.2 926.2,1993.2 928.2,1993.3 930.2,1993.4 932.2,1993.4 934.2,1993.5 936.2,1993.5 938.2,1993.6 940.2,1993.7 942.3,1993.7 944.3,1993.8 946.3,1993.8 948.3,1993.9 950.3,1993.9 952.3,1994.0 954.3,1994.0 956.3,1994.1 958.3,1994.1 960.3,1994.2 962.3,1994.2 964.3,1994.3 966.3,1994.3 968.3,1994.4 970.3,1994.4 972.3,1994.5 974.3,1994.5 976.3,1994.6 978.3,1994.6 980.3,1994.7 982.3,1994.7 984.3,1994.7 986.3,1994.8 988.3,1994.8 990.3,1994.9 992.3,1994.9 994.3,1994.9 996.3,1995.0 998.3,1995.0 1000.3,1995.0 1002.3,1995.1 1004.3,1995.1 1006.3,1995.1 1008.3,1995.1 1010.3,1995.2 1012.3,1995.2 1014.3,1995.2 1016.3,1995.3 1018.3,1995.3 1020.3,1995.3 1022.3,1995.3 1024.3,1995.4 1026.3,1995.4 1028.3,1995.4 1030.3,1995.4 1032.3,1995.4 1034.3,1995.5 1036.3,1995.5 1038.3,1995.5 1040.3,1995.5 1042.3,1995.6 1044.3,1995.6 1046.4,1995.6 1048.4,1995.6 1050.4,1995.7 1052.4,1995.7 1054.4,1995.7 1056.4,1995.7 1058.4,1995.8 1060.4,1995.8 1062.4,1995.8 1064.4,1995.8 1066.4,1995.9 1068.4,1995.9 1070.4,1995.9 1072.4,1995.9 1074.4,1996.0 1076.4,1996.0 1078.4,1996.0 1080.4,1996.0 1082.4,1996.1 1084.4,1996.1 1086.4,1996.1 1088.4,1996.1 1090.4,1996.2 1092.4,1996.2 1094.4,1996.2 1096.4,1996.2 1098.4,1996.3 1100.4,1996.3 1102.4,1996.3 1104.4,1996.4 1106.4,1996.4 1108.4,1996.4 1110.4,1996.4 1112.4,1996.5 1114.4,1996.5 1116.4,1996.5 1118.4,1996.6 1120.4,1996.6 1122.4,1996.6 1124.4,1996.7 1126.4,1996.7 1128.4,1996.7 1130.4,1996.8 1132.4,1996.8 1134.4,1996.8 1136.4,1996.8 1138.4,1996.9 1140.4,1996.9 1142.4,1996.9 1144.4,1997.0 1146.4,1997.0 1148.4,1997.0 1150.5,1997.1 1152.5,1997.1 1154.5,1997.1 1156.5,1997.2 1158.5,1997.2 1160.5,1997.2 1162.5,1997.3 1164.5,1997.3 1166.5,1997.3 1168.5,1997.4 1170.5,1997.4 1172.5,1997.4 1174.5,1997.5 1176.5,1997.5 1178.5,1997.5 1180.5,1997.6 1182.5,1997.6 1184.5,1997.6 1186.5,1997.7 1188.5,1997.7 1190.5,1997.7 1192.5,1997.8 1194.5,1997.8 1196.5,1997.8 1198.5,1997.9 1200.5,1997.9 1202.5,1997.9 1204.5,1998.0 1206.5,1998.0 1208.5,1998.0 1210.5,1998.0 1212.5,1998.1 1214.5,1998.1 1216.5,1998.1 1218.5,1998.2 1220.5,1998.2 1222.5,1998.2 1224.5,1998.3 1226.5,1998.3 1228.5,1998.3 1230.5,1998.4 1232.5,1998.4 1234.5,1998.4 1236.5,1998.5 1238.5,1998.5 1240.5,1998.5 1242.5,1998.6 1244.5,1998.6 1246.5,1998.6 1248.5,1998.7 1250.5,1998.7 1252.5,1998.7 1254.6,1998.8 1256.6,1998.8 1258.6,1998.8 1260.6,1998.9 1262.6,1998.9 1264.6,1998.9 1266.6,1998.9 1268.6,1999.0 1270.6,1999.0 1272.6,1999.0 1274.6,1999.1 1276.6,1999.1 1278.6,1999.1 1280.6,1999.2 1282.6,1999.2 1284.6,1999.2 1286.6,1999.2 1288.6,1999.3 1290.6,1999.3 1292.6,1999.3 1294.6,1999.4 1296.6,1999.4 1298.6,1999.4 1300.6,1999.5 1302.6,1999.5 1304.6,1999.5 1306.6,1999.5 1308.6,1999.6 1310.6,1999.6 1312.6,1999.6 1314.6,1999.7 1316.6,1999.7 1318.6,1999.7 1320.6,1999.7 1322.6,1999.8 1324.6,1999.8 1326.6,1999.8 1328.6,1999.8 1330.6,1999.9 1332.6,1999.9 1334.6,1999.9 1336.6,1999.9 1338.6,2000.0 1340.6,2000.0 1342.6,2000.0 1344.6,2000.0 1346.6,2000.1 1348.6,2000.1 1350.6,2000.1 1352.6,2000.1 1354.6,2000.2 1356.6,2000.2 1358.7,2000.2 1360.7,2000.2 1362.7,2000.3 1364.7,2000.3 1366.7,2000.3 1368.7,2000.3 1370.7,2000.4 1372.7,2000.4 1374.7,2000.4 1376.7,2000.4 1378.7,2000.5 1380.7,2000.5 1382.7,2000.5 1384.7,2000.5 1386.7,2000.5 1388.7,2000.6 1390.7,2000.6 1392.7,2000.6 1394.7,2000.6 1396.7,2000.7 1398.7,2000.7 1400.7,2000.7 1402.7,2000.7 1404.7,2000.8 1406.7,2000.8 1408.7,2000.8 1410.7,2000.8 1412.7,2000.8 1414.7,2000.9 1416.7,2000.9 1418.7,2000.9 1420.7,2000.9 1422.7,2001.0 1424.7,2001.0 1426.7,2001.0 1428.7,2001.0 1430.7,2001.0 1432.7,2001.1 1434.7,2001.1 1436.7,2001.1 1438.7,2001.1 1440.7,2001.2 1442.7,2001.2 1444.7,2001.2 1446.7,2001.2 1448.7,2001.2 1450.7,2001.3 1452.7,2001.3 1454.7,2001.3 1456.7,2001.3 1458.7,2001.3 1460.7,2001.4 1462.8,2001.4 1464.8,2001.4 1466.8,2001.4 1468.8,2001.4 1470.8,2001.5 1472.8,2001.5 1474.8,2001.5 1476.8,2001.5 1478.8,2001.5 1480.8,2001.6 1482.8,2001.6 1484.8,2001.6 1486.8,2001.6 1488.8,2001.6 1490.8,2001.7 1492.8,2001.7 1494.8,2001.7 1496.8,2001.7 1498.8,2001.7 1500.8,2001.8 1502.8,2001.8 1504.8,2001.8 1506.8,2001.8 1508.8,2001.8 1510.8,2001.9 1512.8,2001.9 1514.8,2001.9 1516.8,2001.9 1518.8,2001.9 1520.8,2001.9 1522.8,2002.0 1524.8,2002.0 1526.8,2002.0 1528.8,2002.0 1530.8,2002.0 1532.8,2002.1 1534.8,2002.1 1536.8,2002.1 1538.8,2002.1 1540.8,2002.1 1542.8,2002.1 1544.8,2002.2 1546.8,2002.2 1548.8,2002.2 1550.8,2002.2 1552.8,2002.2 1554.8,2002.2 1556.8,2002.3 1558.8,2002.3 1560.8,2002.3 1562.8,2002.3 1564.8,2002.3 1566.9,2002.3 1568.9,2002.4 1570.9,2002.4 1572.9,2002.4 1574.9,2002.4 1576.9,2002.4 1578.9,2002.4 1580.9,2002.5 1582.9,2002.5 1584.9,2002.5 1586.9,2002.5 1588.9,2002.5 1590.9,2002.5 1592.9,2002.5 1594.9,2002.6 1596.9,2002.6 1598.9,2002.6 1600.9,2002.6 1602.9,2002.6 1604.9,2002.6 1606.9,2002.7 1608.9,2002.7 1610.9,2002.7 1612.9,2002.7 1614.9,2002.7 1616.9,2002.7 1618.9,2002.7 1620.9,2002.8 1622.9,2002.8 1624.9,2002.8 1626.9,2002.8 1628.9,2002.8 1630.9,2002.8 1632.9,2002.8 1634.9,2002.9 1636.9,2002.9 1638.9,2002.9 1640.9,2002.9 1642.9,2002.9 1644.9,2002.9 1646.9,2002.9 1648.9,2003.0 1650.9,2003.0 1652.9,2003.0 1654.9,2003.0 1656.9,2003.0 1658.9,2003.0 1660.9,2003.0 1662.9,2003.1 1664.9,2003.1 1666.9,2003.1 1668.9,2003.1 1671.0,2003.1 1673.0,2003.1 1675.0,2003.1 1677.0,2003.1 1679.0,2003.2 1681.0,2003.2 1683.0,2003.2 1685.0,2003.2 1687.0,2003.2 1689.0,2003.2 1691.0,2003.2 1693.0,2003.2 1695.0,2003.3 1697.0,2003.3 1699.0,2003.3 1701.0,2003.3 1703.0,2003.3 1705.0,2003.3 1707.0,2003.3 1709.0,2003.3 1711.0,2003.3 1713.0,2003.4 1715.0,2003.4 1717.0,2003.4 1719.0,2003.4 1721.0,2003.4"/>
<polyline fill="none" stroke="#800080" stroke-width="4.20" stroke-linejoin="round" stroke-linecap="butt" points="161.5,1909.4 163.5,1909.4 165.5,1909.4 167.5,1909.4 169.5,1909.4 171.5,1909.4 173.5,1909.5 175.5,1909.5 177.5,1909.5 179.5,1909.6 181.5,1909.6 183.5,1909.7 185.5,1909.7 187.5,1909.8 189.5,1909.9 191.5,1909.9 193.5,1910.0 195.5,1910.1 197.5,1910.1 199.5,1910.2 201.5,1910.3 203.5,1910.4 205.5,1910.5 207.5,1910.6 209.5,1910.7 211.5,1910.8 213.6,1910.9 215.6,1911.0 217.6,1911.1 219.6,1911.2 221.6,1911.3 223.6,1911.4 225.6,1911.5 227.6,1911.6 229.6,1911.7 231.6,1911.8 233.6,1911.9 235.6,1912.0 237.6,1912.1 239.6,1912.2 241.6,1912.3 243.6,1912.4 245.6,1912.5 247.6,1912.6 249.6,1912.7 251.6,1912.8 253.6,1912.9 255.6,1913.0 257.6,1913.1 259.6,1913.2 261.6,1913.3 263.6,1913.4 265.6,1913.4 267.6,1913.5 269.6,1913.6 271.6,1913.7 273.6,1913.7 275.6,1913.8 277.6,1913.9 279.6,1913.9 281.6,1914.0 283.6,1914.0 285.6,1914.1 287.6,1914.1 289.6,1914.2 291.6,1914.2 293.6,1914.2 295.6,1914.2 297.6,1914.3 299.6,1914.3 301.6,1914.3 303.6,1914.3 305.6,1914.3 307.6,1914.3 309.6,1914.2 311.6,1914.2 313.6,1914.2 315.6,1914.2 317.7,1914.1 319.7,1914.1 321.7,1914.0 323.7,1914.0 325.7,1913.9 327.7,1913.9 329.7,1913.8 331.7,1913.7 333.7,1913.7 335.7,1913.6 337.7,1913.5 339.7,1913.4 341.7,1913.3 343.7,1913.3 345.7,1913.2 347.7,1913.1 349.7,1913.0 351.7,1912.9 353.7,1912.8 355.7,1912.7 357.7,1912.6 359.7,1912.5 361.7,1912.4 363.7,1912.3 365.7,1912.2 367.7,1912.1 369.7,1912.0 371.7,1911.9 373.7,1911.8 375.7,1911.7 377.7,1911.6 379.7,1911.5 381.7,1911.4 383.7,1911.3 385.7,1911.2 387.7,1911.1 389.7,1911.0 391.7,1910.9 393.7,1910.9 395.7,1910.8 397.7,1910.7 399.7,1910.7 401.7,1910.6 403.7,1910.6 405.7,1910.6 407.7,1910.6 409.7,1910.6 411.7,1910.6 413.7,1910.6 415.7,1910.6 417.7,1910.7 419.7,1910.7 421.8,1910.8 423.8,1910.9 425.8,1911.0 427.8,1911.1 429.8,1911.3 431.8,1911.4 433.8,1911.6 435.8,1911.8 437.8,1912.0 439.8,1912.2 441.8,1912.5 443.8,1912.8 445.8,1913.1 447.8,1913.4 449.8,1913.8 451.8,1914.1 453.8,1914.5 455.8,1914.9 457.8,1915.4 459.8,1915.8 461.8,1916.3 463.8,1916.8 465.8,1917.4 467.8,1917.9 469.8,1918.5 471.8,1919.1 473.8,1919.7 475.8,1920.3 477.8,1920.9 479.8,1921.6 481.8,1922.3 483.8,1923.0 485.8,1923.7 487.8,1924.5 489.8,1925.2 491.8,1926.0 493.8,1926.8 495.8,1927.6 497.8,1928.4 499.8,1929.3 501.8,1930.2 503.8,1931.0 505.8,1931.9 507.8,1932.8 509.8,1933.7 511.8,1934.7 513.8,1935.6 515.8,1936.5 517.8,1937.5 519.8,1938.4 521.8,1939.4 523.8,1940.3 525.9,1941.3 527.9,1942.2 529.9,1943.2 531.9,1944.1 533.9,1945.1 535.9,1946.0 537.9,1947.0 539.9,1947.9 541.9,1948.8 543.9,1949.7 545.9,1950.6 547.9,1951.5 549.9,1952.4 551.9,1953.3 553.9,1954.1 555.9,1955.0 557.9,1955.8 559.9,1956.6 561.9,1957.4 563.9,1958.2 565.9,1958.9 567.9,1959.7 569.9,1960.4 571.9,1961.2 573.9,1961.9 575.9,1962.6 577.9,1963.3 579.9,1964.0 581.9,1964.7 583.9,1965.3 585.9,1966.0 587.9,1966.6 589.9,1967.2 591.9,1967.9 593.9,1968.5 595.9,1969.1 597.9,1969.6 599.9,1970.2 601.9,1970.8 603.9,1971.3 605.9,1971.9 607.9,1972.4 609.9,1972.9 611.9,1973.4 613.9,1974.0 615.9,1974.4 617.9,1974.9 619.9,1975.4 621.9,1975.9 623.9,1976.3 625.9,1976.8 627.9,1977.2 630.0,1977.6 632.0,1978.1 634.0,1978.5 636.0,1978.9 638.0,1979.3 640.0,1979.7 642.0,1980.1 644.0,1980.4 646.0,1980.8 648.0,1981.1 650.0,1981.5 652.0,1981.8 654.0,1982.2 656.0,1982.5 658.0,1982.8 660.0,1983.1 662.0,1983.4 664.0,1983.7 666.0,1984.0 668.0,1984.3 670.0,1984.6 672.0,1984.9 674.0,1985.2 676.0,1985.4 678.0,1985.7 680.0,1985.9 682.0,1986.2 684.0,1986.4 686.0,1986.7 688.0,1986.9 690.0,1987.1 692.0,1987.3 694.0,1987.5 696.0,1987.8 698.0,1988.0 700.0,1988.2 702.0,1988.4 704.0,1988.6 706.0,1988.7 708.0,1988.9 710.0,1989.1 712.0,1989.3 714.0,1989.5 716.0,1989.6 718.0,1989.8 720.0,1990.0 722.0,1990.1 724.0,1990.3 726.0,1990.4 728.0,1990.6 730.0,1990.7 732.0,1990.9 734.1,1991.0 736.1,1991.1 738.1,1991.3 740.1,1991.4 742.1,1991.5 744.1,1991.6 746.1,1991.8 748.1,1991.9 750.1,1992.0 752.1,1992.1 754.1,1992.2 756.1,1992.3 758.1,1992.4 760.1,1992.5 762.1,1992.6 764.1,1992.7 766.1,1992.8 768.1,1992.9 770.1,1992.9 772.1,1993.0 774.1,1993.1 776.1,1993.2 778.1,1993.2 780.1,1993.3 782.1,1993.4 784.1,1993.5 786.1,1993.5 788.1,1993.6 790.1,1993.6 792.1,1993.7 794.1,1993.8 796.1,1993.8 798.1,1993.9 800.1,1993.9 802.1,1994.0 804.1,1994.0 806.1,1994.1 808.1,1994.1 810.1,1994.2 812.1,1994.2 814.1,1994.2 816.1,1994.3 818.1,1994.3 820.1,1994.4 822.1,1994.4 824.1,1994.4 826.1,1994.5 828.1,1994.5 830.1,1994.5 832.1,1994.6 834.1,1994.6 836.1,1994.6 838.2,1994.6 840.2,1994.7 842.2,1994.7 844.2,1994.7 846.2,1994.7 848.2,1994.8 850.2,1994.8 852.2,1994.8 854.2,1994.8 856.2,1994.8 858.2,1994.9 860.2,1994.9 862.2,1994.9 864.2,1994.9 866.2,1994.9 868.2,1995.0 870.2,1995.0 872.2,1995.0 874.2,1995.0 876.2,1995.0 878.2,1995.1 880.2,1995.1 882.2,1995.1 884.2,1995.1 886.2,1995.2 888.2,1995.2 890.2,1995.2 892.2,1995.2 894.2,1995.3 896.2,1995.3 898.2,1995.3 900.2,1995.4 902.2,1995.4 904.2,1995.4 906.2,1995.4 908.2,1995.5 910.2,1995.5 912.2,1995.5 914.2,1995.6 916.2,1995.6 918.2,1995.6 920.2,1995.6 922.2,1995.7 924.2,1995.7 926.2,1995.7 928.2,1995.8 930.2,1995.8 932.2,1995.8 934.2,1995.8 936.2,1995.9 938.2,1995.9 940.2,1995.9 942.3,1996.0 944.3,1996.0 946.3,1996.0 948.3,1996.0 950.3,1996.1 952.3,1996.1 954.3,1996.1 956.3,1996.1 958.3,1996.2 960.3,1996.2 962.3,1996.2 964.3,1996.2 966.3,1996.3 968.3,1996.3 970.3,1996.3 972.3,1996.3 974.3,1996.4 976.3,1996.4 978.3,1996.4 980.3,1996.4 982.3,1996.4 984.3,1996.5 986.3,1996.5 988.3,1996.5 990.3,1996.5 992.3,1996.5 994.3,1996.6 996.3,1996.6 998.3,1996.6 1000.3,1996.6 1002.3,1996.6 1004.3,1996.7 1006.3,1996.7 1008.3,1996.7 1010.3,1996.7 1012.3,1996.7 1014.3,1996.7 1016.3,1996.7 1018.3,1996.8 1020.3,1996.8 1022.3,1996.8 1024.3,1996.8 1026.3,1996.8 1028.3,1996.8 1030.3,1996.8 1032.3,1996.9 1034.3,1996.9 1036.3,1996.9 1038.3,1996.9 1040.3,1996.9 1042.3,1996.9 1044.3,1996.9 1046.4,1997.0 1048.4,1997.0 1050.4,1997.0 1052.4,1997.0 1054.4,1997.0 1056.4,1997.0 1058.4,1997.0 1060.4,1997.1 1062.4,1997.1 1064.4,1997.1 1066.4,1997.1 1068.4,1997.1 1070.4,1997.1 1072.4,1997.2 1074.4,1997.2 1076.4,1997.2 1078.4,1997.2 1080.4,1997.2 1082.4,1997.2 1084.4,1997.3 1086.4,1997.3 1088.4,1997.3 1090.4,1997.3 1092.4,1997.3 1094.4,1997.3 1096.4,1997.4 1098.4,1997.4 1100.4,1997.4 1102.4,1997.4 1104.4,1997.4 1106.4,1997.5 1108.4,1997.5 1110.4,1997.5 1112.4,1997.5 1114.4,1997.5 1116.4,1997.6 1118.4,1997.6 1120.4,1997.6 1122.4,1997.6 1124.4,1997.6 1126.4,1997.7 1128.4,1997.7 1130.4,1997.7 1132.4,1997.7 1134.4,1997.8 1136.4,1997.8 1138.4,1997.8 1140.4,1997.8 1142.4,1997.8 1144.4,1997.9 1146.4,1997.9 1148.4,1997.9 1150.5,1997.9 1152.5,1998.0 1154.5,1998.0 1156.5,1998.0 1158.5,1998.0 1160.5,1998.1 1162.5,1998.1 1164.5,1998.1 1166.5,1998.2 1168.5,1998.2 1170.5,1998.2 1172.5,1998.2 1174.5,1998.3 1176.5,1998.3 1178.5,1998.3 1180.5,1998.3 1182.5,1998.4 1184.5,1998.4 1186.5,1998.4 1188.5,1998.5 1190.5,1998.5 1192.5,1998.5 1194.5,1998.5 1196.5,1998.6 1198.5,1998.6 1200.5,1998.6 1202.5,1998.7 1204.5,1998.7 1206.5,1998.7 1208.5,1998.7 1210.5,1998.8 1212.5,1998.8 1214.5,1998.8 1216.5,1998.9 1218.5,1998.9 1220.5,1998.9 1222.5,1999.0 1224.5,1999.0 1226.5,1999.0 1228.5,1999.0 1230.5,1999.1 1232.5,1999.1 1234.5,1999.1 1236.5,1999.2 1238.5,1999.2 1240.5,1999.2 1242.5,1999.3 1244.5,1999.3 1246.5,1999.3 1248.5,1999.3 1250.5,1999.4 1252.5,1999.4 1254.6,1999.4 1256.6,1999.5 1258.6,1999.5 1260.6,1999.5 1262.6,1999.6 1264.6,1999.6 1266.6,1999.6 1268.6,1999.6 1270.6,1999.7 1272.6,1999.7 1274.6,1999.7 1276.6,1999.8 1278.6,1999.8 1280.6,1999.8 1282.6,1999.8 1284.6,1999.9 1286.6,1999.9 1288.6,1999.9 1290.6,2000.0 1292.6,2000.0 1294.6,2000.0 1296.6,2000.0 1298.6,2000.1 1300.6,2000.1 1302.6,2000.1 1304.6,2000.1 1306.6,2000.2 1308.6,2000.2 1310.6,2000.2 1312.6,2000.3 1314.6,2000.3 1316.6,2000.3 1318.6,2000.3 1320.6,2000.4 1322.6,2000.4 1324.6,2000.4 1326.6,2000.4 1328.6,2000.5 1330.6,2000.5 1332.6,2000.5 1334.6,2000.5 1336.6,2000.5 1338.6,2000.6 1340.6,2000.6 1342.6,2000.6 1344.6,2000.6 1346.6,2000.7 1348.6,2000.7 1350.6,2000.7 1352.6,2000.7 1354.6,2000.7 1356.6,2000.8 1358.7,2000.8 1360.7,2000.8 1362.7,2000.8 1364.7,2000.9 1366.7,2000.9 1368.7,2000.9 1370.7,2000.9 1372.7,2000.9 1374.7,2001.0 1376.7,2001.0 1378.7,2001.0 1380.7,2001.0 1382.7,2001.0 1384.7,2001.1 1386.7,2001.1 1388.7,2001.1 1390.7,2001.1 1392.7,2001.2 1394.7,2001.2 1396.7,2001.2 1398.7,2001.2 1400.7,2001.2 1402.7,2001.3 1404.7,2001.3 1406.7,2001.3 1408.7,2001.3 1410.7,2001.3 1412.7,2001.4 1414.7,2001.4 1416.7,2001.4 1418.7,2001.4 1420.7,2001.4 1422.7,2001.5 1424.7,2001.5 1426.7,2001.5 1428.7,2001.5 1430.7,2001.5 1432.7,2001.6 1434.7,2001.6 1436.7,2001.6 1438.7,2001.6 1440.7,2001.6 1442.7,2001.7 1444.7,2001.7 1446.7,2001.7 1448.7,2001.7 1450.7,2001.7 1452.7,2001.8 1454.7,2001.8 1456.7,2001.8 1458.7,2001.8 1460.7,2001.8 1462.8,2001.8 1464.8,2001.9 1466.8,2001.9 1468.8,2001.9 1470.8,2001.9 1472.8,2001.9 1474.8,2002.0 1476.8,2002.0 1478.8,2002.0 1480.8,2002.0 1482.8,2002.0 1484.8,2002.0 1486.8,2002.1 1488.8,2002.1 1490.8,2002.1 1492.8,2002.1 1494.8,2002.1 1496.8,2002.2 1498.8,2002.2 1500.8,2002.2 1502.8,2002.2 1504.8,2002.2 1506.8,2002.2 1508.8,2002.3 1510.8,2002.3 1512.8,2002.3 1514.8,2002.3 1516.8,2002.3 1518.8,2002.3 1520.8,2002.4 1522.8,2002.4 1524.8,2002.4 1526.8,2002.4 1528.8,2002.4 1530.8,2002.4 1532.8,2002.5 1534.8,2002.5 1536.8,2002.5 1538.8,2002.5 1540.8,2002.5 1542.8,2002.5 1544.8,2002.6 1546.8,2002.6 1548.8,2002.6 1550.8,2002.6 1552.8,2002.6 1554.8,2002.6 1556.8,2002.7 1558.8,2002.7 1560.8,2002.7 1562.8,2002.7 1564.8,2002.7 1566.9,2002.7 1568.9,2002.8 1570.9,2002.8 1572.9,2002.8 1574.9,2002.8 1576.9,2002.8 1578.9,2002.8 1580.9,2002.8 1582.9,2002.9 1584.9,2002.9 1586.9,2002.9 1588.9,2002.9 1590.9,2002.9 1592.9,2002.9 1594.9,2003.0 1596.9,2003.0 1598.9,2003.0 1600.9,2003.0 1602.9,2003.0 1604.9,2003.0 1606.9,2003.0 1608.9,2003.1 1610.9,2003.1 1612.9,2003.1 1614.9,2003.1 1616.9,2003.1 1618.9,2003.1 1620.9,2003.1 1622.9,2003.2 1624.9,2003.2 1626.9,2003.2 1628.9,2003.2 1630.9,2003.2 1632.9,2003.2 1634.9,2003.2 1636.9,2003.3 1638.9,2003.3 1640.9,2003.3 1642.9,2003.3 1644.9,2003.3 1646.9,2003.3 1648.9,2003.3 1650.9,2003.4 1652.9,2003.4 1654.9,2003.4 1656.9,2003.4 1658.9,2003.4 1660.9,2003.4 1662.9,2003.4 1664.9,2003.5 1666.9,2003.5 1668.9,2003.5 1671.0,2003.5 1673.0,2003.5 1675.0,2003.5 1677.0,2003.5 1679.0,2003.5 1681.0,2003.6 1683.0,2003.6 1685.0,2003.6 1687.0,2003.6 1689.0,2003.6 1691.0,2003.6 1693.0,2003.6 1695.0,2003.6 1697.0,2003.7 1699.0,2003.7 1701.0,2003.7 1703.0,2003.7 1705.0,2003.7 1707.0,2003.7 1709.0,2003.7 1711.0,2003.7 1713.0,2003.8 1715.0,2003.8 1717.0,2003.8 1719.0,2003.8 1721.0,2003.8"/>
<g style="mix-blend-mode:multiply"><line x1="460.7" y1="1852.0" x2="460.7" y2="2030.0" stroke="#d4d4d4" stroke-width="2.60"/><line x1="460.7" y1="1852.0" x2="460.7" y2="2030.0" stroke="#b0b0b0" stroke-width="2.60" stroke-dasharray="2 3.2"/></g>
<g style="mix-blend-mode:multiply"><line x1="503.0" y1="2132.0" x2="503.0" y2="2311.0" stroke="#d4d4d4" stroke-width="2.60"/><line x1="503.0" y1="2132.0" x2="503.0" y2="2311.0" stroke="#b0b0b0" stroke-width="2.60" stroke-dasharray="2 3.2"/></g>
<g style="mix-blend-mode:multiply"><line x1="982.7" y1="1954.0" x2="982.7" y2="2492.0" stroke="#d4d4d4" stroke-width="2.60"/><line x1="982.7" y1="1954.0" x2="982.7" y2="2492.0" stroke="#b0b0b0" stroke-width="2.60" stroke-dasharray="2 3.2"/></g>
<g style="mix-blend-mode:multiply"><line x1="1124.5" y1="1954.0" x2="1124.5" y2="2492.0" stroke="#d4d4d4" stroke-width="2.60"/><line x1="1124.5" y1="1954.0" x2="1124.5" y2="2492.0" stroke="#b0b0b0" stroke-width="2.60" stroke-dasharray="2 3.2"/></g>
<text x="395.4" y="1821.3" font-size="54.0" text-anchor="start" font-weight="normal" fill="#000">(100)</text>
<text x="425.4" y="2112.0" font-size="54.0" text-anchor="start" font-weight="normal" fill="#000">(100)</text>
<text x="929.4" y="1934.8" font-size="55.4" text-anchor="start" font-weight="normal" fill="#000">(110)</text>
<text x="1060.4" y="1936.8" font-size="53.1" text-anchor="start" font-weight="normal" fill="#000">(200)</text>
<line x1="1184.4" y1="1895.0" x2="1306.5" y2="1895.0" stroke="#800080" stroke-width="4.20"/>
<text x="1317.5" y="1913.5" font-size="47.7" text-anchor="start" font-weight="normal" fill="#000">spent-100Cu-A (3&#39;)</text>
<line x1="1315.5" y1="1960.3" x2="1439.4" y2="1960.3" stroke="#008000" stroke-width="4.20"/>
<text x="1451.3" y="1976.0" font-size="47.7" text-anchor="start" font-weight="normal" fill="#000">100Cu-A (3)</text>
<text x="1466.4" y="2104.4" font-size="48.6" text-anchor="start" font-weight="normal" fill="#000">60Cu-A (2)</text>
<text x="1463.7" y="2300.3" font-size="48.8" text-anchor="start" font-weight="normal" fill="#000">20Cu-A (1)</text>
<text x="1421.6" y="2449.9" font-size="47.0" text-anchor="start" font-weight="normal" fill="#000">Al-S-MCM-41</text>
<text x="218.9" y="1526.0" font-size="129.0" text-anchor="start" font-weight="bold" fill="#000">B</text>
<text x="834.8" y="2662.2" font-size="53.2" text-anchor="start" font-weight="normal" fill="#000">2 theta/ °</text>
<text transform="translate(68.4,1915) rotate(-90)" x="0" y="0" font-size="53" text-anchor="middle">Intensity/ a.u.</text>
<line x1="1163.5" y1="1504.0" x2="1171.6" y2="1504.0" stroke="#888" stroke-width="1.80"/>
<line x1="1163.5" y1="1623.8" x2="1171.6" y2="1623.8" stroke="#888" stroke-width="1.80"/>
<line x1="1163.5" y1="1743.6" x2="1171.6" y2="1743.6" stroke="#888" stroke-width="1.80"/>
<line x1="1167.5" y1="1444.1" x2="1171.6" y2="1444.1" stroke="#888" stroke-width="1.80"/>
<line x1="1167.5" y1="1563.9" x2="1171.6" y2="1563.9" stroke="#888" stroke-width="1.80"/>
<line x1="1167.5" y1="1683.7" x2="1171.6" y2="1683.7" stroke="#888" stroke-width="1.80"/>
<line x1="1211.2" y1="1772.1" x2="1211.2" y2="1776.6" stroke="#666" stroke-width="2.20"/>
<line x1="1250.8" y1="1772.1" x2="1250.8" y2="1779.6" stroke="#666" stroke-width="2.20"/>
<line x1="1290.4" y1="1772.1" x2="1290.4" y2="1776.6" stroke="#666" stroke-width="2.20"/>
<line x1="1330.0" y1="1772.1" x2="1330.0" y2="1779.6" stroke="#666" stroke-width="2.20"/>
<line x1="1369.6" y1="1772.1" x2="1369.6" y2="1776.6" stroke="#666" stroke-width="2.20"/>
<line x1="1409.2" y1="1772.1" x2="1409.2" y2="1779.6" stroke="#666" stroke-width="2.20"/>
<line x1="1448.8" y1="1772.1" x2="1448.8" y2="1776.6" stroke="#666" stroke-width="2.20"/>
<line x1="1488.4" y1="1772.1" x2="1488.4" y2="1779.6" stroke="#666" stroke-width="2.20"/>
<line x1="1528.0" y1="1772.1" x2="1528.0" y2="1776.6" stroke="#666" stroke-width="2.20"/>
<line x1="1567.6" y1="1772.1" x2="1567.6" y2="1779.6" stroke="#666" stroke-width="2.20"/>
<line x1="1607.2" y1="1772.1" x2="1607.2" y2="1776.6" stroke="#666" stroke-width="2.20"/>
<line x1="1646.8" y1="1772.1" x2="1646.8" y2="1779.6" stroke="#666" stroke-width="2.20"/>
<line x1="1686.4" y1="1772.1" x2="1686.4" y2="1776.6" stroke="#666" stroke-width="2.20"/>
<line x1="1171.6" y1="1772.1" x2="1721.0" y2="1772.1" stroke="#a9a9a9" stroke-width="4.20"/>
<line x1="1171.6" y1="1383.6" x2="1171.6" y2="1779.6" stroke="#8a8a8a" stroke-width="2.60"/>
<text x="1171.6" y="1796.6" font-size="19.0" text-anchor="middle" font-weight="normal" fill="#555">28</text>
<text x="1250.8" y="1796.6" font-size="19.0" text-anchor="middle" font-weight="normal" fill="#555">30</text>
<text x="1330.0" y="1796.6" font-size="19.0" text-anchor="middle" font-weight="normal" fill="#555">32</text>
<text x="1409.2" y="1796.6" font-size="19.0" text-anchor="middle" font-weight="normal" fill="#555">34</text>
<text x="1488.4" y="1796.6" font-size="19.0" text-anchor="middle" font-weight="normal" fill="#555">36</text>
<text x="1567.6" y="1796.6" font-size="19.0" text-anchor="middle" font-weight="normal" fill="#555">38</text>
<text x="1646.8" y="1796.6" font-size="19.0" text-anchor="middle" font-weight="normal" fill="#555">40</text>
<text x="1447.0" y="1841.5" font-size="28.2" text-anchor="middle" font-weight="normal" fill="#333">2 theta/ °</text>
<text transform="translate(1149,1576.9) rotate(-90)" x="0" y="0" font-size="27.5" text-anchor="middle" fill="#333">Intensity/ a.u.</text>
<g filter="url(#blr)">
<polyline fill="none" stroke="#4040ff" stroke-width="3.00" stroke-linejoin="miter" points="1173.0,1633.4 1175.2,1630.9 1177.4,1631.5 1179.6,1628.8 1181.8,1634.3 1184.0,1634.7 1186.3,1635.3 1188.5,1637.8 1190.7,1638.9 1192.9,1637.4 1195.1,1639.0 1197.3,1639.0 1199.5,1643.3 1201.7,1644.1 1203.9,1641.9 1206.1,1643.2 1208.3,1647.3 1210.5,1649.7 1212.8,1648.0 1215.0,1648.9 1217.2,1651.9 1219.4,1650.5 1221.6,1653.3 1223.8,1655.7 1226.0,1655.2 1228.2,1655.2 1230.4,1657.4 1232.6,1656.1 1234.8,1657.9 1237.0,1658.3 1239.3,1659.9 1241.5,1660.5 1243.7,1662.0 1245.9,1662.6 1248.1,1664.4 1250.3,1665.3 1252.5,1666.7 1254.7,1669.5 1256.9,1665.4 1259.1,1671.1 1261.3,1669.3 1263.5,1668.5 1265.8,1671.1 1268.0,1672.4 1270.2,1674.8 1272.4,1672.0 1274.6,1675.0 1276.8,1675.6 1279.0,1673.3 1281.2,1674.9 1283.4,1678.7 1285.6,1679.6 1287.8,1681.0 1290.0,1680.8 1292.3,1681.3 1294.5,1681.6 1296.7,1684.1 1298.9,1681.3 1301.1,1683.2 1303.3,1684.9 1305.5,1682.2 1307.7,1687.8 1309.9,1684.9 1312.1,1686.8 1314.3,1691.3 1316.6,1686.8 1318.8,1688.0 1321.0,1692.2 1323.2,1688.4 1325.4,1690.1 1327.6,1692.4 1329.8,1692.9 1332.0,1693.8 1334.2,1694.1 1336.4,1696.4 1338.6,1696.5 1340.8,1696.4 1343.1,1694.9 1345.3,1695.5 1347.5,1694.1 1349.7,1699.2 1351.9,1695.7 1354.1,1700.9 1356.3,1703.3 1358.5,1699.0 1360.7,1700.3 1362.9,1701.4 1365.1,1704.3 1367.3,1702.1 1369.6,1704.0 1371.8,1704.0 1374.0,1705.1 1376.2,1708.4 1378.4,1705.2 1380.6,1707.6 1382.8,1708.5 1385.0,1710.1 1387.2,1712.4 1389.4,1711.7 1391.6,1711.1 1393.8,1712.4 1396.1,1711.6 1398.3,1709.2 1400.5,1711.4 1402.7,1714.4 1404.9,1713.6 1407.1,1714.0 1409.3,1715.5 1411.5,1718.8 1413.7,1715.5 1415.9,1719.3 1418.1,1713.1 1420.3,1713.5 1422.6,1718.9 1424.8,1717.5 1427.0,1719.4 1429.2,1719.7 1431.4,1719.1 1433.6,1720.9 1435.8,1720.4 1438.0,1718.0 1440.2,1721.4 1442.4,1721.8 1444.6,1725.0 1446.8,1720.4 1449.1,1722.8 1451.3,1722.5 1453.5,1723.4 1455.7,1726.9 1457.9,1725.1 1460.1,1724.1 1462.3,1725.6 1464.5,1727.1 1466.7,1721.4 1468.9,1726.2 1471.1,1729.7 1473.4,1729.0 1475.6,1727.9 1477.8,1727.6 1480.0,1728.6 1482.2,1726.7 1484.4,1731.4 1486.6,1730.8 1488.8,1730.9 1491.0,1729.0 1493.2,1736.7 1495.4,1736.8 1497.6,1733.0 1499.9,1732.1 1502.1,1734.3 1504.3,1735.5 1506.5,1733.2 1508.7,1733.9 1510.9,1733.7 1513.1,1733.7 1515.3,1737.2 1517.5,1737.3 1519.7,1737.5 1521.9,1735.3 1524.1,1735.9 1526.4,1738.0 1528.6,1737.8 1530.8,1739.1 1533.0,1738.1 1535.2,1740.7 1537.4,1743.1 1539.6,1743.0 1541.8,1734.6 1544.0,1741.3 1546.2,1743.1 1548.4,1741.2 1550.6,1743.8 1552.9,1742.0 1555.1,1742.1 1557.3,1742.2 1559.5,1744.8 1561.7,1744.4 1563.9,1744.6 1566.1,1742.6 1568.3,1745.1 1570.5,1742.7 1572.7,1748.0 1574.9,1745.5 1577.1,1746.3 1579.4,1746.1 1581.6,1743.8 1583.8,1744.5 1586.0,1747.0 1588.2,1749.8 1590.4,1745.7 1592.6,1746.6 1594.8,1748.0 1597.0,1745.4 1599.2,1747.3 1601.4,1748.1 1603.7,1748.9 1605.9,1749.0 1608.1,1752.0 1610.3,1749.3 1612.5,1750.4 1614.7,1752.7 1616.9,1753.0 1619.1,1747.6 1621.3,1749.8 1623.5,1748.4 1625.7,1748.4 1627.9,1749.3 1630.2,1748.8 1632.4,1748.8 1634.6,1749.3 1636.8,1751.6 1639.0,1753.6 1641.2,1754.1 1643.4,1751.6 1645.6,1748.4 1647.8,1751.7 1650.0,1751.3 1652.2,1752.6 1654.4,1751.9 1656.7,1749.1 1658.9,1752.9 1661.1,1748.8 1663.3,1751.2 1665.5,1753.0 1667.7,1753.1 1669.9,1755.3 1672.1,1748.7 1674.3,1753.3 1676.5,1754.0 1678.7,1752.3 1680.9,1754.0 1683.2,1751.1 1685.4,1754.2 1687.6,1754.0 1689.8,1751.5 1692.0,1752.1 1694.2,1753.0 1696.4,1752.2 1698.6,1755.2 1700.8,1753.7 1703.0,1755.7 1705.2,1755.5 1707.4,1753.7 1709.7,1753.3 1711.9,1752.0 1714.1,1752.3 1716.3,1752.4 1718.5,1754.4 1720.7,1752.3"/>
<polyline fill="none" stroke="#ff3030" stroke-width="3.00" stroke-linejoin="miter" points="1173.0,1552.8 1175.2,1552.0 1177.4,1554.8 1179.6,1552.7 1181.8,1558.0 1184.0,1551.7 1186.3,1559.0 1188.5,1559.9 1190.7,1559.9 1192.9,1567.3 1195.1,1562.5 1197.3,1565.4 1199.5,1567.5 1201.7,1564.6 1203.9,1570.0 1206.1,1569.3 1208.3,1571.5 1210.5,1569.3 1212.8,1570.1 1215.0,1574.9 1217.2,1574.7 1219.4,1575.0 1221.6,1576.8 1223.8,1577.6 1226.0,1575.7 1228.2,1574.8 1230.4,1576.7 1232.6,1577.4 1234.8,1577.6 1237.0,1581.2 1239.3,1582.2 1241.5,1584.0 1243.7,1585.2 1245.9,1585.1 1248.1,1586.1 1250.3,1587.5 1252.5,1586.5 1254.7,1587.8 1256.9,1589.8 1259.1,1589.4 1261.3,1590.3 1263.5,1591.8 1265.8,1594.9 1268.0,1597.5 1270.2,1593.4 1272.4,1593.7 1274.6,1595.1 1276.8,1599.7 1279.0,1591.2 1281.2,1598.1 1283.4,1598.2 1285.6,1599.9 1287.8,1597.1 1290.0,1603.3 1292.3,1602.0 1294.5,1600.9 1296.7,1601.9 1298.9,1601.1 1301.1,1603.1 1303.3,1603.4 1305.5,1606.0 1307.7,1605.7 1309.9,1605.7 1312.1,1607.7 1314.3,1617.0 1316.6,1608.4 1318.8,1606.2 1321.0,1611.3 1323.2,1608.3 1325.4,1609.3 1327.6,1611.6 1329.8,1613.3 1332.0,1615.6 1334.2,1611.0 1336.4,1617.1 1338.6,1618.1 1340.8,1615.2 1343.1,1616.3 1345.3,1616.3 1347.5,1616.9 1349.7,1616.4 1351.9,1616.4 1354.1,1616.1 1356.3,1621.0 1358.5,1624.4 1360.7,1620.2 1362.9,1619.0 1365.1,1623.4 1367.3,1623.0 1369.6,1625.0 1371.8,1624.3 1374.0,1623.4 1376.2,1625.0 1378.4,1628.1 1380.6,1627.7 1382.8,1626.1 1385.0,1629.7 1387.2,1626.3 1389.4,1628.3 1391.6,1630.0 1393.8,1625.3 1396.1,1628.5 1398.3,1631.0 1400.5,1631.2 1402.7,1631.3 1404.9,1631.2 1407.1,1630.7 1409.3,1631.6 1411.5,1638.5 1413.7,1632.7 1415.9,1636.7 1418.1,1633.5 1420.3,1637.2 1422.6,1637.3 1424.8,1636.4 1427.0,1634.9 1429.2,1634.0 1431.4,1638.3 1433.6,1634.9 1435.8,1635.2 1438.0,1640.3 1440.2,1640.6 1442.4,1638.5 1444.6,1638.4 1446.8,1638.0 1449.1,1640.0 1451.3,1639.0 1453.5,1637.6 1455.7,1639.2 1457.9,1641.2 1460.1,1638.5 1462.3,1639.9 1464.5,1642.1 1466.7,1645.1 1468.9,1642.9 1471.1,1643.0 1473.4,1646.6 1475.6,1641.9 1477.8,1642.9 1480.0,1646.0 1482.2,1646.8 1484.4,1646.1 1486.6,1641.3 1488.8,1647.4 1491.0,1647.7 1493.2,1647.1 1495.4,1648.5 1497.6,1650.2 1499.9,1648.3 1502.1,1647.0 1504.3,1639.6 1506.5,1649.5 1508.7,1648.6 1510.9,1649.3 1513.1,1645.9 1515.3,1651.5 1517.5,1652.6 1519.7,1652.5 1521.9,1650.2 1524.1,1654.0 1526.4,1653.3 1528.6,1641.6 1530.8,1654.5 1533.0,1650.3 1535.2,1652.2 1537.4,1656.2 1539.6,1655.9 1541.8,1654.0 1544.0,1653.9 1546.2,1656.3 1548.4,1652.9 1550.6,1657.0 1552.9,1656.1 1555.1,1658.2 1557.3,1657.0 1559.5,1655.7 1561.7,1658.1 1563.9,1657.5 1566.1,1656.0 1568.3,1656.7 1570.5,1657.2 1572.7,1659.3 1574.9,1660.8 1577.1,1659.8 1579.4,1658.1 1581.6,1659.8 1583.8,1665.5 1586.0,1662.8 1588.2,1659.7 1590.4,1662.1 1592.6,1661.2 1594.8,1657.5 1597.0,1660.3 1599.2,1661.8 1601.4,1662.2 1603.7,1662.7 1605.9,1662.6 1608.1,1664.5 1610.3,1662.5 1612.5,1661.7 1614.7,1665.5 1616.9,1663.8 1619.1,1666.4 1621.3,1663.8 1623.5,1667.7 1625.7,1663.5 1627.9,1663.8 1630.2,1667.2 1632.4,1669.2 1634.6,1664.9 1636.8,1669.1 1639.0,1669.2 1641.2,1668.1 1643.4,1666.5 1645.6,1663.3 1647.8,1664.5 1650.0,1666.0 1652.2,1668.3 1654.4,1667.3 1656.7,1666.6 1658.9,1668.0 1661.1,1665.1 1663.3,1668.7 1665.5,1666.5 1667.7,1670.4 1669.9,1668.6 1672.1,1667.1 1674.3,1667.6 1676.5,1665.9 1678.7,1669.0 1680.9,1667.0 1683.2,1668.6 1685.4,1670.8 1687.6,1669.5 1689.8,1669.8 1692.0,1673.6 1694.2,1670.3 1696.4,1671.1 1698.6,1668.8 1700.8,1667.3 1703.0,1669.8 1705.2,1667.5 1707.4,1664.4 1709.7,1670.6 1711.9,1672.9 1714.1,1667.8 1716.3,1671.8 1718.5,1669.5 1720.7,1668.9"/>
<polyline fill="none" stroke="#109a38" stroke-width="3.00" stroke-linejoin="miter" points="1173.0,1459.4 1175.2,1469.5 1177.4,1466.6 1179.6,1468.1 1181.8,1470.3 1184.0,1469.6 1186.3,1471.7 1188.5,1471.6 1190.7,1473.4 1192.9,1469.9 1195.1,1471.1 1197.3,1471.1 1199.5,1474.9 1201.7,1474.4 1203.9,1477.1 1206.1,1476.9 1208.3,1477.5 1210.5,1481.7 1212.8,1479.9 1215.0,1479.7 1217.2,1475.9 1219.4,1483.6 1221.6,1484.1 1223.8,1481.6 1226.0,1484.2 1228.2,1485.8 1230.4,1483.7 1232.6,1487.0 1234.8,1490.9 1237.0,1486.9 1239.3,1491.5 1241.5,1494.9 1243.7,1491.7 1245.9,1493.0 1248.1,1495.1 1250.3,1496.6 1252.5,1497.4 1254.7,1495.1 1256.9,1497.3 1259.1,1499.6 1261.3,1499.8 1263.5,1503.1 1265.8,1501.5 1268.0,1502.2 1270.2,1506.8 1272.4,1504.4 1274.6,1503.6 1276.8,1506.1 1279.0,1506.5 1281.2,1508.9 1283.4,1509.2 1285.6,1508.6 1287.8,1509.3 1290.0,1509.8 1292.3,1513.7 1294.5,1515.5 1296.7,1512.7 1298.9,1514.5 1301.1,1514.8 1303.3,1514.0 1305.5,1514.6 1307.7,1515.4 1309.9,1513.6 1312.1,1516.2 1314.3,1518.9 1316.6,1520.3 1318.8,1519.0 1321.0,1519.4 1323.2,1521.7 1325.4,1524.7 1327.6,1520.2 1329.8,1521.1 1332.0,1522.2 1334.2,1524.4 1336.4,1522.6 1338.6,1525.4 1340.8,1523.9 1343.1,1526.6 1345.3,1525.6 1347.5,1520.4 1349.7,1528.5 1351.9,1525.6 1354.1,1526.7 1356.3,1529.7 1358.5,1530.2 1360.7,1530.2 1362.9,1526.1 1365.1,1531.4 1367.3,1531.2 1369.6,1530.5 1371.8,1528.2 1374.0,1533.3 1376.2,1535.3 1378.4,1533.6 1380.6,1535.4 1382.8,1532.4 1385.0,1534.3 1387.2,1533.3 1389.4,1532.9 1391.6,1534.7 1393.8,1534.2 1396.1,1535.0 1398.3,1536.5 1400.5,1536.5 1402.7,1537.2 1404.9,1538.3 1407.1,1536.4 1409.3,1539.5 1411.5,1536.2 1413.7,1539.7 1415.9,1539.4 1418.1,1536.3 1420.3,1539.9 1422.6,1542.5 1424.8,1541.6 1427.0,1540.1 1429.2,1540.2 1431.4,1541.7 1433.6,1541.6 1435.8,1542.8 1438.0,1541.8 1440.2,1543.2 1442.4,1542.4 1444.6,1540.5 1446.8,1539.6 1449.1,1541.1 1451.3,1542.8 1453.5,1540.7 1455.7,1543.8 1457.9,1539.8 1460.1,1542.1 1462.3,1541.1 1464.5,1543.4 1466.7,1543.2 1468.9,1542.9 1471.1,1541.3 1473.4,1542.1 1475.6,1542.8 1477.8,1545.9 1480.0,1543.5 1482.2,1545.9 1484.4,1547.1 1486.6,1544.6 1488.8,1545.7 1491.0,1543.4 1493.2,1547.1 1495.4,1549.6 1497.6,1547.4 1499.9,1550.2 1502.1,1551.6 1504.3,1551.5 1506.5,1550.8 1508.7,1552.6 1510.9,1551.7 1513.1,1552.7 1515.3,1558.1 1517.5,1553.7 1519.7,1554.0 1521.9,1555.9 1524.1,1556.6 1526.4,1557.9 1528.6,1555.8 1530.8,1555.8 1533.0,1556.4 1535.2,1559.8 1537.4,1560.8 1539.6,1558.1 1541.8,1559.0 1544.0,1566.7 1546.2,1559.1 1548.4,1560.4 1550.6,1567.8 1552.9,1560.0 1555.1,1563.1 1557.3,1563.6 1559.5,1556.3 1561.7,1565.6 1563.9,1564.2 1566.1,1563.7 1568.3,1566.5 1570.5,1571.8 1572.7,1565.4 1574.9,1565.2 1577.1,1565.2 1579.4,1566.0 1581.6,1567.0 1583.8,1569.1 1586.0,1567.8 1588.2,1569.1 1590.4,1568.4 1592.6,1570.2 1594.8,1569.7 1597.0,1572.4 1599.2,1571.0 1601.4,1567.8 1603.7,1571.2 1605.9,1571.0 1608.1,1573.7 1610.3,1572.4 1612.5,1574.2 1614.7,1574.3 1616.9,1572.2 1619.1,1573.0 1621.3,1573.9 1623.5,1572.2 1625.7,1580.0 1627.9,1575.3 1630.2,1572.4 1632.4,1572.4 1634.6,1575.2 1636.8,1574.5 1639.0,1572.7 1641.2,1572.5 1643.4,1575.6 1645.6,1575.0 1647.8,1576.6 1650.0,1575.8 1652.2,1578.1 1654.4,1573.2 1656.7,1577.5 1658.9,1575.2 1661.1,1575.1 1663.3,1578.4 1665.5,1573.6 1667.7,1576.8 1669.9,1576.4 1672.1,1579.2 1674.3,1574.7 1676.5,1577.9 1678.7,1578.2 1680.9,1577.4 1683.2,1577.7 1685.4,1577.3 1687.6,1575.2 1689.8,1575.6 1692.0,1574.5 1694.2,1579.4 1696.4,1579.5 1698.6,1575.6 1700.8,1580.1 1703.0,1577.7 1705.2,1577.7 1707.4,1576.9 1709.7,1579.2 1711.9,1578.0 1714.1,1576.4 1716.3,1579.4 1718.5,1577.9 1720.7,1577.4"/>
<polyline fill="none" stroke="#a22ca2" stroke-width="3.00" stroke-linejoin="miter" points="1173.0,1400.1 1175.2,1398.4 1177.4,1399.3 1179.6,1399.6 1181.8,1397.0 1184.0,1401.4 1186.3,1399.4 1188.5,1403.1 1190.7,1402.5 1192.9,1406.1 1195.1,1404.7 1197.3,1405.8 1199.5,1404.7 1201.7,1408.4 1203.9,1407.8 1206.1,1409.9 1208.3,1411.0 1210.5,1411.7 1212.8,1410.8 1215.0,1408.8 1217.2,1410.8 1219.4,1415.0 1221.6,1416.1 1223.8,1417.5 1226.0,1415.2 1228.2,1415.3 1230.4,1419.4 1232.6,1420.2 1234.8,1419.6 1237.0,1420.4 1239.3,1419.0 1241.5,1421.8 1243.7,1425.2 1245.9,1422.2 1248.1,1423.8 1250.3,1425.2 1252.5,1425.7 1254.7,1423.9 1256.9,1426.9 1259.1,1427.5 1261.3,1428.7 1263.5,1429.3 1265.8,1430.7 1268.0,1429.7 1270.2,1434.9 1272.4,1432.2 1274.6,1435.9 1276.8,1436.5 1279.0,1434.9 1281.2,1433.3 1283.4,1432.3 1285.6,1429.9 1287.8,1436.8 1290.0,1438.2 1292.3,1437.2 1294.5,1438.3 1296.7,1444.4 1298.9,1440.9 1301.1,1439.0 1303.3,1442.7 1305.5,1440.7 1307.7,1438.9 1309.9,1443.9 1312.1,1443.0 1314.3,1445.0 1316.6,1448.6 1318.8,1446.4 1321.0,1445.4 1323.2,1450.3 1325.4,1444.5 1327.6,1446.7 1329.8,1451.7 1332.0,1452.5 1334.2,1450.0 1336.4,1449.8 1338.6,1452.1 1340.8,1452.5 1343.1,1452.8 1345.3,1452.1 1347.5,1451.2 1349.7,1452.6 1351.9,1453.5 1354.1,1453.9 1356.3,1453.9 1358.5,1455.1 1360.7,1452.7 1362.9,1457.7 1365.1,1458.8 1367.3,1455.8 1369.6,1454.9 1371.8,1458.2 1374.0,1458.9 1376.2,1458.1 1378.4,1460.4 1380.6,1458.2 1382.8,1457.6 1385.0,1462.5 1387.2,1459.5 1389.4,1460.0 1391.6,1457.3 1393.8,1461.0 1396.1,1461.0 1398.3,1462.5 1400.5,1464.1 1402.7,1463.7 1404.9,1461.8 1407.1,1466.0 1409.3,1465.3 1411.5,1462.7 1413.7,1465.3 1415.9,1466.0 1418.1,1463.8 1420.3,1463.9 1422.6,1458.5 1424.8,1465.9 1427.0,1464.1 1429.2,1468.5 1431.4,1466.9 1433.6,1466.7 1435.8,1470.2 1438.0,1467.6 1440.2,1467.9 1442.4,1469.1 1444.6,1470.0 1446.8,1466.1 1449.1,1467.5 1451.3,1471.3 1453.5,1470.7 1455.7,1470.4 1457.9,1473.2 1460.1,1468.2 1462.3,1471.3 1464.5,1470.6 1466.7,1472.2 1468.9,1470.8 1471.1,1472.8 1473.4,1477.2 1475.6,1474.2 1477.8,1474.0 1480.0,1479.9 1482.2,1475.6 1484.4,1478.7 1486.6,1474.0 1488.8,1476.9 1491.0,1473.0 1493.2,1469.2 1495.4,1474.3 1497.6,1480.7 1499.9,1478.9 1502.1,1480.1 1504.3,1480.0 1506.5,1480.3 1508.7,1480.4 1510.9,1478.8 1513.1,1484.4 1515.3,1481.7 1517.5,1485.9 1519.7,1484.5 1521.9,1481.4 1524.1,1483.5 1526.4,1483.9 1528.6,1484.0 1530.8,1484.4 1533.0,1485.7 1535.2,1485.1 1537.4,1485.3 1539.6,1487.2 1541.8,1487.5 1544.0,1486.9 1546.2,1488.9 1548.4,1487.9 1550.6,1489.7 1552.9,1489.4 1555.1,1491.8 1557.3,1487.1 1559.5,1493.5 1561.7,1490.2 1563.9,1493.4 1566.1,1490.7 1568.3,1491.7 1570.5,1493.1 1572.7,1485.5 1574.9,1492.2 1577.1,1499.1 1579.4,1496.3 1581.6,1491.1 1583.8,1494.3 1586.0,1497.2 1588.2,1494.6 1590.4,1498.1 1592.6,1491.9 1594.8,1493.8 1597.0,1495.6 1599.2,1495.3 1601.4,1495.8 1603.7,1498.4 1605.9,1495.7 1608.1,1498.5 1610.3,1498.7 1612.5,1498.2 1614.7,1502.5 1616.9,1498.4 1619.1,1502.9 1621.3,1498.4 1623.5,1500.6 1625.7,1500.5 1627.9,1498.8 1630.2,1501.6 1632.4,1502.7 1634.6,1501.9 1636.8,1501.0 1639.0,1503.4 1641.2,1502.4 1643.4,1502.0 1645.6,1487.6 1647.8,1501.2 1650.0,1503.1 1652.2,1499.7 1654.4,1496.5 1656.7,1500.4 1658.9,1501.6 1661.1,1499.2 1663.3,1501.4 1665.5,1502.8 1667.7,1500.7 1669.9,1501.6 1672.1,1505.0 1674.3,1502.6 1676.5,1500.9 1678.7,1503.8 1680.9,1504.2 1683.2,1503.4 1685.4,1497.7 1687.6,1502.3 1689.8,1508.5 1692.0,1502.2 1694.2,1510.0 1696.4,1505.1 1698.6,1506.2 1700.8,1503.8 1703.0,1501.0 1705.2,1503.7 1707.4,1505.4 1709.7,1501.7 1711.9,1507.1 1714.1,1505.7 1716.3,1506.4 1718.5,1504.9 1720.7,1501.8"/>
</g>
<text x="1656.1" y="1469.8" font-size="33.0" text-anchor="start" font-weight="normal" fill="#222">(3&#39;)</text>
<text x="1656.1" y="1548.9" font-size="33.0" text-anchor="start" font-weight="normal" fill="#222">(3)</text>
<text x="1654.0" y="1636.1" font-size="33.0" text-anchor="start" font-weight="normal" fill="#222">(2)</text>
<text x="1659.2" y="1731.5" font-size="33.0" text-anchor="start" font-weight="normal" fill="#222">(1)</text>
</svg>
</body></html>
